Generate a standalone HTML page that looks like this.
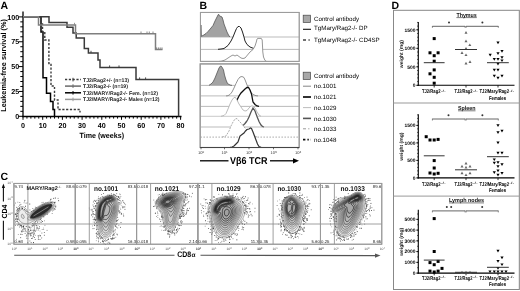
<!DOCTYPE html>
<html><head><meta charset="utf-8"><style>
html,body{margin:0;padding:0;background:#fff;width:520px;height:291px;overflow:hidden}
svg{display:block}
text{font-family:"Liberation Sans",sans-serif;text-rendering:geometricPrecision}
</style></head><body>
<svg xmlns="http://www.w3.org/2000/svg" width="520" height="291" viewBox="0 0 520 291">
<defs><filter id="bl" x="0" y="0" width="520" height="291" filterUnits="userSpaceOnUse"><feColorMatrix type="saturate" values="0"/><feGaussianBlur stdDeviation="0.33"/></filter></defs>
<rect width="520" height="291" fill="#fff"/>
<g filter="url(#bl)">
<rect width="520" height="291" fill="#fff"/>
<text x="0.6" y="9.3" font-size="10.5" font-weight="bold" text-anchor="start" fill="#000" >A</text>
<line x1="23" y1="11.5" x2="23" y2="117.2" stroke="#000" stroke-width="1.3" />
<line x1="22.4" y1="116.5" x2="181.5" y2="116.5" stroke="#000" stroke-width="1.3" />
<line x1="19" y1="116.3" x2="23" y2="116.3" stroke="#000" stroke-width="1" />
<line x1="20.3" y1="111.33" x2="23" y2="111.33" stroke="#000" stroke-width="1" />
<line x1="20.3" y1="106.36" x2="23" y2="106.36" stroke="#000" stroke-width="1" />
<line x1="20.3" y1="101.39" x2="23" y2="101.39" stroke="#000" stroke-width="1" />
<line x1="20.3" y1="96.42" x2="23" y2="96.42" stroke="#000" stroke-width="1" />
<line x1="19" y1="91.44999999999999" x2="23" y2="91.44999999999999" stroke="#000" stroke-width="1" />
<line x1="20.3" y1="86.47999999999999" x2="23" y2="86.47999999999999" stroke="#000" stroke-width="1" />
<line x1="20.3" y1="81.50999999999999" x2="23" y2="81.50999999999999" stroke="#000" stroke-width="1" />
<line x1="20.3" y1="76.53999999999999" x2="23" y2="76.53999999999999" stroke="#000" stroke-width="1" />
<line x1="20.3" y1="71.57" x2="23" y2="71.57" stroke="#000" stroke-width="1" />
<line x1="19" y1="66.6" x2="23" y2="66.6" stroke="#000" stroke-width="1" />
<line x1="20.3" y1="61.629999999999995" x2="23" y2="61.629999999999995" stroke="#000" stroke-width="1" />
<line x1="20.3" y1="56.66" x2="23" y2="56.66" stroke="#000" stroke-width="1" />
<line x1="20.3" y1="51.69" x2="23" y2="51.69" stroke="#000" stroke-width="1" />
<line x1="20.3" y1="46.72" x2="23" y2="46.72" stroke="#000" stroke-width="1" />
<line x1="19" y1="41.75" x2="23" y2="41.75" stroke="#000" stroke-width="1" />
<line x1="20.3" y1="36.78" x2="23" y2="36.78" stroke="#000" stroke-width="1" />
<line x1="20.3" y1="31.810000000000002" x2="23" y2="31.810000000000002" stroke="#000" stroke-width="1" />
<line x1="20.3" y1="26.840000000000003" x2="23" y2="26.840000000000003" stroke="#000" stroke-width="1" />
<line x1="20.3" y1="21.870000000000005" x2="23" y2="21.870000000000005" stroke="#000" stroke-width="1" />
<line x1="19" y1="16.89999999999999" x2="23" y2="16.89999999999999" stroke="#000" stroke-width="1" />
<line x1="23.0" y1="116.5" x2="23.0" y2="119.8" stroke="#000" stroke-width="1" />
<line x1="26.94" y1="116.5" x2="26.94" y2="118.6" stroke="#000" stroke-width="1" />
<line x1="30.88" y1="116.5" x2="30.88" y2="118.6" stroke="#000" stroke-width="1" />
<line x1="34.82" y1="116.5" x2="34.82" y2="118.6" stroke="#000" stroke-width="1" />
<line x1="38.76" y1="116.5" x2="38.76" y2="118.6" stroke="#000" stroke-width="1" />
<line x1="42.7" y1="116.5" x2="42.7" y2="119.8" stroke="#000" stroke-width="1" />
<line x1="46.64" y1="116.5" x2="46.64" y2="118.6" stroke="#000" stroke-width="1" />
<line x1="50.58" y1="116.5" x2="50.58" y2="118.6" stroke="#000" stroke-width="1" />
<line x1="54.519999999999996" y1="116.5" x2="54.519999999999996" y2="118.6" stroke="#000" stroke-width="1" />
<line x1="58.46" y1="116.5" x2="58.46" y2="118.6" stroke="#000" stroke-width="1" />
<line x1="62.4" y1="116.5" x2="62.4" y2="119.8" stroke="#000" stroke-width="1" />
<line x1="66.34" y1="116.5" x2="66.34" y2="118.6" stroke="#000" stroke-width="1" />
<line x1="70.28" y1="116.5" x2="70.28" y2="118.6" stroke="#000" stroke-width="1" />
<line x1="74.22" y1="116.5" x2="74.22" y2="118.6" stroke="#000" stroke-width="1" />
<line x1="78.16" y1="116.5" x2="78.16" y2="118.6" stroke="#000" stroke-width="1" />
<line x1="82.1" y1="116.5" x2="82.1" y2="119.8" stroke="#000" stroke-width="1" />
<line x1="86.03999999999999" y1="116.5" x2="86.03999999999999" y2="118.6" stroke="#000" stroke-width="1" />
<line x1="89.98" y1="116.5" x2="89.98" y2="118.6" stroke="#000" stroke-width="1" />
<line x1="93.92" y1="116.5" x2="93.92" y2="118.6" stroke="#000" stroke-width="1" />
<line x1="97.86" y1="116.5" x2="97.86" y2="118.6" stroke="#000" stroke-width="1" />
<line x1="101.8" y1="116.5" x2="101.8" y2="119.8" stroke="#000" stroke-width="1" />
<line x1="105.74" y1="116.5" x2="105.74" y2="118.6" stroke="#000" stroke-width="1" />
<line x1="109.67999999999999" y1="116.5" x2="109.67999999999999" y2="118.6" stroke="#000" stroke-width="1" />
<line x1="113.62" y1="116.5" x2="113.62" y2="118.6" stroke="#000" stroke-width="1" />
<line x1="117.56" y1="116.5" x2="117.56" y2="118.6" stroke="#000" stroke-width="1" />
<line x1="121.5" y1="116.5" x2="121.5" y2="119.8" stroke="#000" stroke-width="1" />
<line x1="125.44" y1="116.5" x2="125.44" y2="118.6" stroke="#000" stroke-width="1" />
<line x1="129.38" y1="116.5" x2="129.38" y2="118.6" stroke="#000" stroke-width="1" />
<line x1="133.32" y1="116.5" x2="133.32" y2="118.6" stroke="#000" stroke-width="1" />
<line x1="137.26" y1="116.5" x2="137.26" y2="118.6" stroke="#000" stroke-width="1" />
<line x1="141.2" y1="116.5" x2="141.2" y2="119.8" stroke="#000" stroke-width="1" />
<line x1="145.14" y1="116.5" x2="145.14" y2="118.6" stroke="#000" stroke-width="1" />
<line x1="149.07999999999998" y1="116.5" x2="149.07999999999998" y2="118.6" stroke="#000" stroke-width="1" />
<line x1="153.02" y1="116.5" x2="153.02" y2="118.6" stroke="#000" stroke-width="1" />
<line x1="156.96" y1="116.5" x2="156.96" y2="118.6" stroke="#000" stroke-width="1" />
<line x1="160.9" y1="116.5" x2="160.9" y2="119.8" stroke="#000" stroke-width="1" />
<line x1="164.84" y1="116.5" x2="164.84" y2="118.6" stroke="#000" stroke-width="1" />
<line x1="168.78" y1="116.5" x2="168.78" y2="118.6" stroke="#000" stroke-width="1" />
<line x1="172.72" y1="116.5" x2="172.72" y2="118.6" stroke="#000" stroke-width="1" />
<line x1="176.66" y1="116.5" x2="176.66" y2="118.6" stroke="#000" stroke-width="1" />
<line x1="180.6" y1="116.5" x2="180.6" y2="119.8" stroke="#000" stroke-width="1" />
<text x="19.2" y="118.89999999999999" font-size="7.2" font-weight="bold" text-anchor="end" fill="#000" >0</text>
<text x="19.2" y="94.04999999999998" font-size="7.2" font-weight="bold" text-anchor="end" fill="#000" >25</text>
<text x="19.2" y="69.19999999999999" font-size="7.2" font-weight="bold" text-anchor="end" fill="#000" >50</text>
<text x="19.2" y="44.35" font-size="7.2" font-weight="bold" text-anchor="end" fill="#000" >75</text>
<text x="19.2" y="19.499999999999993" font-size="7.2" font-weight="bold" text-anchor="end" fill="#000" >100</text>
<text x="23.0" y="127.8" font-size="7.2" font-weight="bold" text-anchor="middle" fill="#000" >0</text>
<text x="42.7" y="127.8" font-size="7.2" font-weight="bold" text-anchor="middle" fill="#000" >10</text>
<text x="62.4" y="127.8" font-size="7.2" font-weight="bold" text-anchor="middle" fill="#000" >20</text>
<text x="82.1" y="127.8" font-size="7.2" font-weight="bold" text-anchor="middle" fill="#000" >30</text>
<text x="101.8" y="127.8" font-size="7.2" font-weight="bold" text-anchor="middle" fill="#000" >40</text>
<text x="121.5" y="127.8" font-size="7.2" font-weight="bold" text-anchor="middle" fill="#000" >50</text>
<text x="141.2" y="127.8" font-size="7.2" font-weight="bold" text-anchor="middle" fill="#000" >60</text>
<text x="160.9" y="127.8" font-size="7.2" font-weight="bold" text-anchor="middle" fill="#000" >70</text>
<text x="180.6" y="127.8" font-size="7.2" font-weight="bold" text-anchor="middle" fill="#000" >80</text>
<text x="79.6" y="137.6" font-size="7.6" font-weight="bold" textLength="44.4" lengthAdjust="spacingAndGlyphs">Time (weeks)</text>
<text transform="translate(5.7,65.4) rotate(-90)" font-size="7.4" font-weight="bold" text-anchor="middle" textLength="92.6" lengthAdjust="spacingAndGlyphs">Leukemia-free survival (%)</text>
<path d="M23,16.8 H41 V32 H43 V77.7 H46.5 V93.2 H50.5 V101.5 H53 V109.5 H54.5 V116.5" stroke="#000" stroke-width="1.5" fill="none" />
<path d="M41,16.8 V24 H42.5 V32 H44.8 V40 H48.9 V63.5 H51 V86 H54.5 V100 H58 V109.5 H80 V112.5" stroke="#3a3a3a" stroke-width="1.4" fill="none" stroke-dasharray="2.2,1.6"/>
<path d="M23,16.8 H49 V22.4 H67 V27.2 H73 V33 H76.2 V38 H84.3 V48.4 H88.4 V53 H98 V60 H100 V67.6 H136 V79.6 H178.6 V116.5" stroke="#3a3a3a" stroke-width="1.5" fill="none" />
<path d="M23,16.8 H38.5 V25 H75.5 V33.7 H155.5 V49.6 H162.5" stroke="#7f7f7f" stroke-width="1.5" fill="none" />
<line x1="74.5" y1="22.8" x2="74.5" y2="25" stroke="#8c8c8c" stroke-width="0.9" />
<line x1="141" y1="31.500000000000004" x2="141" y2="33.7" stroke="#7f7f7f" stroke-width="0.9" />
<line x1="147" y1="31.500000000000004" x2="147" y2="33.7" stroke="#7f7f7f" stroke-width="0.9" />
<line x1="149.3" y1="31.500000000000004" x2="149.3" y2="33.7" stroke="#7f7f7f" stroke-width="0.9" />
<line x1="153" y1="31.500000000000004" x2="153" y2="33.7" stroke="#7f7f7f" stroke-width="0.9" />
<line x1="156.6" y1="47.4" x2="156.6" y2="49.6" stroke="#7f7f7f" stroke-width="0.9" />
<line x1="158.4" y1="47.4" x2="158.4" y2="49.6" stroke="#7f7f7f" stroke-width="0.9" />
<line x1="160.2" y1="47.4" x2="160.2" y2="49.6" stroke="#7f7f7f" stroke-width="0.9" />
<line x1="162" y1="47.4" x2="162" y2="49.6" stroke="#7f7f7f" stroke-width="0.9" />
<line x1="91" y1="50.8" x2="91" y2="53" stroke="#3a3a3a" stroke-width="0.9" />
<line x1="109.6" y1="65.39999999999999" x2="109.6" y2="67.6" stroke="#3a3a3a" stroke-width="0.9" />
<line x1="119" y1="65.39999999999999" x2="119" y2="67.6" stroke="#3a3a3a" stroke-width="0.9" />
<line x1="139.6" y1="77.39999999999999" x2="139.6" y2="79.6" stroke="#3a3a3a" stroke-width="0.9" />
<line x1="145.6" y1="77.39999999999999" x2="145.6" y2="79.6" stroke="#3a3a3a" stroke-width="0.9" />
<line x1="65" y1="79.6" x2="81" y2="79.6" stroke="#3a3a3a" stroke-width="1.5" stroke-dasharray="2.2,1.6"/>
<line x1="73" y1="77.8" x2="73" y2="81.39999999999999" stroke="#3a3a3a" stroke-width="1" />
<text x="83" y="81.5" font-size="5.3" font-weight="bold" fill="#222" textLength="46" lengthAdjust="spacingAndGlyphs">TJ2/Rag2+/- (n=13)</text>
<line x1="65" y1="86.1" x2="81" y2="86.1" stroke="#6a6a6a" stroke-width="1.5" />
<line x1="73" y1="84.3" x2="73" y2="87.89999999999999" stroke="#6a6a6a" stroke-width="1" />
<text x="83" y="88.0" font-size="5.3" font-weight="bold" fill="#222" textLength="45" lengthAdjust="spacingAndGlyphs">TJ2/Rag2-/- (n=19)</text>
<line x1="65" y1="92.8" x2="81" y2="92.8" stroke="#000" stroke-width="1.5" />
<line x1="73" y1="91.0" x2="73" y2="94.6" stroke="#000" stroke-width="1" />
<text x="83" y="94.7" font-size="5.3" font-weight="bold" fill="#222" textLength="75" lengthAdjust="spacingAndGlyphs">TJ2/MARY/Rag2-/- Fem. (n=12)</text>
<line x1="65" y1="99.4" x2="81" y2="99.4" stroke="#9a9a9a" stroke-width="1.5" />
<line x1="73" y1="97.60000000000001" x2="73" y2="101.2" stroke="#9a9a9a" stroke-width="1" />
<text x="83" y="101.30000000000001" font-size="5.3" font-weight="bold" fill="#222" textLength="76.5" lengthAdjust="spacingAndGlyphs">TJ2/MARY/Rag2-/- Males (n=12)</text>
<text x="199.6" y="9.3" font-size="10.5" font-weight="bold" text-anchor="start" fill="#000" >B</text>
<rect x="200.4" y="12.4" width="98.8" height="49" fill="#fff" stroke="#9a9a9a" stroke-width="0.9"/>
<path d="M200.4,37.0 L200.7,37.0 L200.9,25.0 L201.3,36.2 L203.0,35.5 L206.0,33.5 L208.0,31.5 L211.0,28.0 L213.0,25.5 L215.0,21.0 L216.5,18.0 L218.0,15.0 L218.6,14.2 L219.5,16.0 L221.0,16.5 L222.0,17.0 L223.0,20.0 L224.0,24.0 L225.5,28.0 L227.0,32.0 L228.5,35.0 L229.8,37.0 L299.2,37.0 Z" fill="#a3a3a3" stroke="none"/>
<line x1="200.4" y1="37" x2="299.2" y2="37" stroke="#aaa" stroke-width="0.8" />
<path d="M200.7,37 L200.9,25.0 L201.3,36.2 L203.0,35.5 L206.0,33.5 L208.0,31.5 L211.0,28.0 L213.0,25.5 L215.0,21.0 L216.5,18.0 L218.0,15.0 L218.6,14.2 L219.5,16.0 L221.0,16.5 L222.0,17.0 L223.0,20.0 L224.0,24.0 L225.5,28.0 L227.0,32.0 L228.5,35.0 L229.8,37.0" fill="none" stroke="#555" stroke-width="0.8" />
<path d="M200.4,49.4 L218.0,49.3 L221.0,49.0 L224.0,48.5 L228.0,45.5 L231.0,41.0 L233.0,37.0 L235.0,32.0 L236.5,28.5 L238.0,26.5 L239.5,26.5 L241.0,28.0 L242.5,32.0 L244.0,37.0 L245.0,41.0 L247.0,44.5 L250.0,47.0 L253.0,48.2 L256.0,49.3 L299.2,49.4 Z" fill="#fff" stroke="none"/>
<line x1="200.4" y1="49.4" x2="299.2" y2="49.4" stroke="#aaa" stroke-width="0.8" />
<path d="M218,49.3 L221.0,49.0 L224.0,48.5 L228.0,45.5 L231.0,41.0 L233.0,37.0 L235.0,32.0 L236.5,28.5 L238.0,26.5 L239.5,26.5 L241.0,28.0 L242.5,32.0 L244.0,37.0 L245.0,41.0 L247.0,44.5 L250.0,47.0 L253.0,48.2 L256.0,49.3" fill="none" stroke="#222" stroke-width="1.0" />
<path d="M200.4,61.4 L219.0,61.4 L221.0,61.3 L225.0,60.0 L228.0,58.0 L231.0,56.0 L233.0,55.0 L235.0,56.0 L237.0,55.0 L239.0,56.5 L241.0,58.0 L243.0,58.5 L245.0,58.0 L247.5,55.0 L250.0,52.0 L253.0,49.5 L255.0,46.0 L256.3,42.0 L257.0,39.0 L257.8,38.4 L261.3,38.4 L262.2,40.0 L262.5,46.0 L262.8,52.0 L263.5,57.0 L265.0,60.5 L266.5,61.4 L299.2,61.4 Z" fill="#fff" stroke="none"/>
<line x1="200.4" y1="61.4" x2="299.2" y2="61.4" stroke="#aaa" stroke-width="0.8" />
<path d="M219,61.4 L221.0,61.3 L225.0,60.0 L228.0,58.0 L231.0,56.0 L233.0,55.0 L235.0,56.0 L237.0,55.0 L239.0,56.5 L241.0,58.0 L243.0,58.5 L245.0,58.0 L247.5,55.0 L250.0,52.0 L253.0,49.5 L255.0,46.0 L256.3,42.0 L257.0,39.0 L257.8,38.4 L261.3,38.4 L262.2,40.0 L262.5,46.0 L262.8,52.0 L263.5,57.0 L265.0,60.5 L266.5,61.4" fill="none" stroke="#8a8a8a" stroke-width="0.9" />
<rect x="200.4" y="12.4" width="98.8" height="49" fill="none" stroke="#9a9a9a" stroke-width="0.9"/>
<rect x="200.2" y="63.9" width="99" height="83.6" fill="#fff" stroke="#9a9a9a" stroke-width="1.1"/>
<path d="M200.4,85.4 L209.0,85.3 L211.0,84.0 L213.0,82.0 L215.0,78.0 L217.0,73.0 L219.0,68.0 L220.5,66.0 L221.3,66.2 L222.5,68.0 L223.5,70.0 L224.5,75.0 L226.0,80.0 L227.5,83.5 L230.0,85.0 L232.0,85.4 L299.2,85.4 Z" fill="#a3a3a3" stroke="none"/>
<line x1="200.4" y1="85.4" x2="299.2" y2="85.4" stroke="#aaa" stroke-width="0.8" />
<path d="M209,85.3 L211.0,84.0 L213.0,82.0 L215.0,78.0 L217.0,73.0 L219.0,68.0 L220.5,66.0 L221.3,66.2 L222.5,68.0 L223.5,70.0 L224.5,75.0 L226.0,80.0 L227.5,83.5 L230.0,85.0 L232.0,85.4" fill="none" stroke="#555" stroke-width="0.8" />
<path d="M200.4,95.9 L226.0,95.9 L228.0,95.7 L230.0,94.5 L232.0,92.0 L234.0,88.0 L236.0,83.5 L238.0,79.5 L240.0,77.0 L242.0,76.5 L244.0,77.5 L245.5,81.0 L247.0,85.0 L249.0,89.0 L251.0,92.5 L253.0,94.5 L256.0,95.7 L258.0,95.9 L299.2,95.9 Z" fill="#fff" stroke="none"/>
<line x1="200.4" y1="95.9" x2="299.2" y2="95.9" stroke="#aaa" stroke-width="0.8" />
<path d="M226,95.9 L228.0,95.7 L230.0,94.5 L232.0,92.0 L234.0,88.0 L236.0,83.5 L238.0,79.5 L240.0,77.0 L242.0,76.5 L244.0,77.5 L245.5,81.0 L247.0,85.0 L249.0,89.0 L251.0,92.5 L253.0,94.5 L256.0,95.7 L258.0,95.9" fill="none" stroke="#888" stroke-width="0.9" />
<path d="M200.4,106.4 L234.0,106.4 L236.0,103.0 L237.5,99.0 L239.0,96.0 L241.0,93.0 L243.0,91.0 L245.0,89.0 L247.0,87.5 L248.5,87.5 L250.0,90.0 L251.5,94.0 L253.0,102.0 L255.0,104.5 L257.0,106.0 L259.0,106.4 L299.2,106.4 Z" fill="#fff" stroke="none"/>
<line x1="200.4" y1="106.4" x2="299.2" y2="106.4" stroke="#aaa" stroke-width="0.8" />
<path d="M234,106.4 L236.0,103.0 L237.5,99.0 L239.0,96.0 L241.0,93.0 L243.0,91.0 L245.0,89.0 L247.0,87.5 L248.5,87.5 L250.0,90.0 L251.5,94.0 L253.0,102.0 L255.0,104.5 L257.0,106.0 L259.0,106.4" fill="none" stroke="#111" stroke-width="1.3" />
<path d="M200.4,116.3 L221.0,116.3 L224.0,115.5 L226.0,113.5 L228.0,109.0 L230.0,104.0 L232.0,100.0 L234.0,97.5 L235.5,97.5 L237.0,100.0 L239.0,104.0 L241.0,107.0 L243.0,110.0 L245.0,111.0 L247.0,110.5 L249.0,108.0 L251.0,106.0 L253.0,106.0 L255.0,108.0 L257.0,112.0 L259.0,115.0 L261.0,116.3 L299.2,116.3 Z" fill="#fff" stroke="none"/>
<line x1="200.4" y1="116.3" x2="299.2" y2="116.3" stroke="#bbb" stroke-width="0.8" />
<path d="M221,116.3 L224.0,115.5 L226.0,113.5 L228.0,109.0 L230.0,104.0 L232.0,100.0 L234.0,97.5 L235.5,97.5 L237.0,100.0 L239.0,104.0 L241.0,107.0 L243.0,110.0 L245.0,111.0 L247.0,110.5 L249.0,108.0 L251.0,106.0 L253.0,106.0 L255.0,108.0 L257.0,112.0 L259.0,115.0 L261.0,116.3" fill="none" stroke="#b3b3b3" stroke-width="0.9" />
<path d="M200.4,127.0 L240.0,127.0 L242.0,126.3 L243.5,125.0 L245.0,123.5 L246.5,121.5 L247.5,120.0 L249.0,117.0 L251.0,112.0 L253.0,108.0 L255.0,111.0 L257.0,116.5 L259.0,121.5 L261.0,125.0 L262.5,126.5 L264.0,127.0 L299.2,127.0 Z" fill="#fff" stroke="none"/>
<line x1="200.4" y1="127" x2="299.2" y2="127" stroke="#aaa" stroke-width="0.8" />
<path d="M240,127 L242.0,126.3 L243.5,125.0 L245.0,123.5 L246.5,121.5 L247.5,120.0 L249.0,117.0 L251.0,112.0 L253.0,108.0 L255.0,111.0 L257.0,116.5 L259.0,121.5 L261.0,125.0 L262.5,126.5 L264.0,127.0" fill="none" stroke="#555" stroke-width="1.3" />
<path d="M200.4,137.1 L222.0,137.1 L226.0,136.0 L229.0,131.0 L231.0,126.0 L233.0,122.0 L235.0,119.0 L237.0,118.5 L239.0,121.0 L241.0,123.0 L243.0,125.5 L245.0,128.0 L247.0,130.0 L249.0,131.5 L251.0,133.0 L253.0,134.5 L255.0,136.0 L257.0,137.1 L299.2,137.1 Z" fill="#fff" stroke="none"/>
<line x1="200.4" y1="137.1" x2="299.2" y2="137.1" stroke="#999" stroke-width="0.8" stroke-dasharray="1.6,1.4"/>
<path d="M222,137.1 L226.0,136.0 L229.0,131.0 L231.0,126.0 L233.0,122.0 L235.0,119.0 L237.0,118.5 L239.0,121.0 L241.0,123.0 L243.0,125.5 L245.0,128.0 L247.0,130.0 L249.0,131.5 L251.0,133.0 L253.0,134.5 L255.0,136.0 L257.0,137.1" fill="none" stroke="#a5a5a5" stroke-width="0.9" stroke-dasharray="2,1"/>
<path d="M200.4,147.4 L230.0,147.4 L232.0,147.0 L234.0,146.0 L236.0,144.0 L238.0,142.0 L239.0,139.0 L240.0,136.0 L242.0,134.5 L244.0,133.0 L245.5,131.0 L247.0,129.5 L249.0,129.0 L250.5,128.0 L251.5,128.5 L253.0,132.0 L254.5,136.0 L256.0,140.0 L257.5,144.0 L259.0,146.5 L261.0,147.4 L299.2,147.4 Z" fill="#fff" stroke="none"/>
<path d="M230,147.4 L232.0,147.0 L234.0,146.0 L236.0,144.0 L238.0,142.0 L239.0,139.0 L240.0,136.0 L242.0,134.5 L244.0,133.0 L245.5,131.0 L247.0,129.5 L249.0,129.0 L250.5,128.0 L251.5,128.5 L253.0,132.0 L254.5,136.0 L256.0,140.0 L257.5,144.0 L259.0,146.5 L261.0,147.4" fill="none" stroke="#333" stroke-width="1.2" />
<rect x="200.2" y="63.9" width="99" height="83.6" fill="none" stroke="#9a9a9a" stroke-width="1.1"/>
<line x1="200.2" y1="147.5" x2="299.2" y2="147.5" stroke="#444" stroke-width="1" />
<text x="201" y="154.3" font-size="4" text-anchor="middle" fill="#333">10<tspan font-size="3" dy="-1.5">0</tspan></text>
<line x1="201" y1="147.5" x2="201" y2="149.3" stroke="#333" stroke-width="0.7" />
<text x="224.5" y="154.3" font-size="4" text-anchor="middle" fill="#333">10<tspan font-size="3" dy="-1.5">1</tspan></text>
<line x1="224.5" y1="147.5" x2="224.5" y2="149.3" stroke="#333" stroke-width="0.7" />
<text x="249" y="154.3" font-size="4" text-anchor="middle" fill="#333">10<tspan font-size="3" dy="-1.5">2</tspan></text>
<line x1="249" y1="147.5" x2="249" y2="149.3" stroke="#333" stroke-width="0.7" />
<text x="273.5" y="154.3" font-size="4" text-anchor="middle" fill="#333">10<tspan font-size="3" dy="-1.5">3</tspan></text>
<line x1="273.5" y1="147.5" x2="273.5" y2="149.3" stroke="#333" stroke-width="0.7" />
<text x="298" y="154.3" font-size="4" text-anchor="middle" fill="#333">10<tspan font-size="3" dy="-1.5">4</tspan></text>
<line x1="298" y1="147.5" x2="298" y2="149.3" stroke="#333" stroke-width="0.7" />
<text x="230" y="164.4" font-size="10" font-weight="bold" textLength="37.5" lengthAdjust="spacingAndGlyphs">V&#946;6 TCR</text>
<line x1="200" y1="160.8" x2="228.5" y2="160.8" stroke="#000" stroke-width="1.3" />
<line x1="270" y1="160.8" x2="294" y2="160.8" stroke="#000" stroke-width="1.3" />
<path d="M293,158.2 L299,160.8 L293,163.4 Z" fill="#000"/>
<rect x="303.2" y="15.2" width="7.2" height="7.2" fill="#a8a8a8" stroke="#444" stroke-width="0.7"/>
<text x="314" y="20.6" font-size="6.2" font-weight="normal" text-anchor="start" fill="#000" >Control antibody</text>
<line x1="303" y1="29.3" x2="311" y2="29.3" stroke="#111" stroke-width="1.1" />
<text x="314" y="30.3" font-size="6.2" font-weight="normal" text-anchor="start" fill="#000" >TgMary/Rag2-/- DP</text>
<line x1="303" y1="40" x2="306" y2="40" stroke="#333" stroke-width="1.4" />
<line x1="308.5" y1="40" x2="309.7" y2="40" stroke="#333" stroke-width="1.4" />
<text x="314" y="42.2" font-size="6.2" font-weight="normal" text-anchor="start" fill="#000" >TgMary/Rag2-/- CD4SP</text>
<rect x="303.2" y="72.2" width="7.2" height="7.2" fill="#a8a8a8" stroke="#444" stroke-width="0.7"/>
<text x="314" y="77.8" font-size="6.2" font-weight="normal" text-anchor="start" fill="#000" >Control antibody</text>
<line x1="303" y1="86.2" x2="311" y2="86.2" stroke="#777" stroke-width="0.9" />
<text x="314" y="88.4" font-size="6.2" font-weight="normal" text-anchor="start" fill="#000" >no.1001</text>
<line x1="303" y1="97" x2="311" y2="97" stroke="#000" stroke-width="1.6" />
<text x="314" y="99.2" font-size="6.2" font-weight="normal" text-anchor="start" fill="#000" >no.1021</text>
<line x1="303" y1="107.6" x2="311" y2="107.6" stroke="#b5b5b5" stroke-width="0.9" />
<text x="314" y="109.8" font-size="6.2" font-weight="normal" text-anchor="start" fill="#000" >no.1029</text>
<line x1="303" y1="118.4" x2="311" y2="118.4" stroke="#555" stroke-width="1.6" />
<text x="314" y="120.60000000000001" font-size="6.2" font-weight="normal" text-anchor="start" fill="#000" >no.1030</text>
<line x1="303" y1="128.8" x2="311" y2="128.8" stroke="#999" stroke-width="1.0" stroke-dasharray="3,2.2,1.2,2.2"/>
<text x="314" y="131.0" font-size="6.2" font-weight="normal" text-anchor="start" fill="#000" >no.1033</text>
<line x1="303" y1="139.6" x2="311" y2="139.6" stroke="#111" stroke-width="1.6" stroke-dasharray="2.4,2,1.4,2"/>
<text x="314" y="141.79999999999998" font-size="6.2" font-weight="normal" text-anchor="start" fill="#000" >no.1048</text>
<text x="0.6" y="179.6" font-size="10.5" font-weight="bold" text-anchor="start" fill="#000" >C</text>
<rect x="13.9" y="183.4" width="61.4" height="60.79999999999998" fill="#fff" stroke="#8a8a8a" stroke-width="0.9"/>
<rect x="75.3" y="183.4" width="61.4" height="60.79999999999998" fill="#fff" stroke="#8a8a8a" stroke-width="0.9"/>
<rect x="136.6" y="183.4" width="61.4" height="60.79999999999998" fill="#fff" stroke="#8a8a8a" stroke-width="0.9"/>
<rect x="197.9" y="183.4" width="61.4" height="60.79999999999998" fill="#fff" stroke="#8a8a8a" stroke-width="0.9"/>
<rect x="259.1" y="183.4" width="61.4" height="60.79999999999998" fill="#fff" stroke="#8a8a8a" stroke-width="0.9"/>
<rect x="320.4" y="183.4" width="61.4" height="60.79999999999998" fill="#fff" stroke="#8a8a8a" stroke-width="0.9"/>
<clipPath id="cl0"><rect x="13.9" y="183.4" width="61.4" height="60.79999999999998"/></clipPath>
<rect x="24.7" y="232.9" width="0.8" height="0.8" fill="rgb(58,58,58)"/>
<rect x="31.8" y="233.4" width="0.7" height="0.7" fill="rgb(98,98,98)"/>
<rect x="20.7" y="225.6" width="0.8" height="0.8" fill="rgb(130,130,130)"/>
<rect x="31.1" y="211.1" width="0.8" height="0.8" fill="rgb(84,84,84)"/>
<rect x="45.4" y="202.4" width="0.7" height="0.7" fill="rgb(104,104,104)"/>
<rect x="37.8" y="219.5" width="0.7" height="0.7" fill="rgb(108,108,108)"/>
<rect x="41.9" y="221.0" width="0.9" height="0.9" fill="rgb(50,50,50)"/>
<rect x="19.4" y="202.2" width="0.8" height="0.8" fill="rgb(98,98,98)"/>
<rect x="50.4" y="201.9" width="0.9" height="0.9" fill="rgb(46,46,46)"/>
<rect x="33.0" y="243.8" width="0.7" height="0.7" fill="rgb(122,122,122)"/>
<rect x="41.8" y="229.0" width="0.7" height="0.7" fill="rgb(82,82,82)"/>
<rect x="55.0" y="208.8" width="0.7" height="0.7" fill="rgb(79,79,79)"/>
<rect x="18.4" y="222.6" width="0.7" height="0.7" fill="rgb(62,62,62)"/>
<rect x="29.5" y="240.6" width="0.8" height="0.8" fill="rgb(64,64,64)"/>
<rect x="32.8" y="236.1" width="0.9" height="0.9" fill="rgb(87,87,87)"/>
<rect x="17.9" y="234.3" width="0.7" height="0.7" fill="rgb(92,92,92)"/>
<rect x="14.4" y="220.4" width="0.8" height="0.8" fill="rgb(91,91,91)"/>
<rect x="23.4" y="225.0" width="0.8" height="0.8" fill="rgb(111,111,111)"/>
<rect x="27.9" y="229.8" width="0.7" height="0.7" fill="rgb(88,88,88)"/>
<rect x="41.5" y="202.3" width="0.9" height="0.9" fill="rgb(123,123,123)"/>
<rect x="28.1" y="226.6" width="0.7" height="0.7" fill="rgb(55,55,55)"/>
<rect x="32.9" y="210.4" width="0.9" height="0.9" fill="rgb(40,40,40)"/>
<rect x="40.1" y="235.4" width="0.7" height="0.7" fill="rgb(90,90,90)"/>
<rect x="54.1" y="202.6" width="0.7" height="0.7" fill="rgb(112,112,112)"/>
<rect x="32.9" y="229.7" width="0.7" height="0.7" fill="rgb(64,64,64)"/>
<rect x="30.5" y="235.1" width="0.9" height="0.9" fill="rgb(43,43,43)"/>
<rect x="35.1" y="208.6" width="0.8" height="0.8" fill="rgb(70,70,70)"/>
<rect x="25.8" y="235.9" width="0.8" height="0.8" fill="rgb(121,121,121)"/>
<rect x="37.7" y="235.4" width="0.9" height="0.9" fill="rgb(56,56,56)"/>
<rect x="49.8" y="200.2" width="0.7" height="0.7" fill="rgb(110,110,110)"/>
<rect x="31.5" y="230.2" width="0.7" height="0.7" fill="rgb(117,117,117)"/>
<rect x="57.6" y="197.9" width="0.9" height="0.9" fill="rgb(119,119,119)"/>
<rect x="36.1" y="224.9" width="0.9" height="0.9" fill="rgb(77,77,77)"/>
<rect x="34.7" y="222.9" width="0.8" height="0.8" fill="rgb(115,115,115)"/>
<rect x="22.0" y="208.1" width="0.9" height="0.9" fill="rgb(107,107,107)"/>
<rect x="14.9" y="213.9" width="0.9" height="0.9" fill="rgb(83,83,83)"/>
<rect x="27.4" y="233.4" width="0.8" height="0.8" fill="rgb(86,86,86)"/>
<rect x="15.1" y="213.1" width="0.7" height="0.7" fill="rgb(91,91,91)"/>
<rect x="55.4" y="205.7" width="0.8" height="0.8" fill="rgb(52,52,52)"/>
<rect x="32.8" y="230.2" width="0.8" height="0.8" fill="rgb(123,123,123)"/>
<rect x="35.7" y="223.4" width="0.7" height="0.7" fill="rgb(72,72,72)"/>
<rect x="30.6" y="232.9" width="0.9" height="0.9" fill="rgb(130,130,130)"/>
<rect x="17.4" y="209.0" width="0.9" height="0.9" fill="rgb(95,95,95)"/>
<rect x="15.5" y="213.9" width="0.9" height="0.9" fill="rgb(103,103,103)"/>
<rect x="33.2" y="232.7" width="0.7" height="0.7" fill="rgb(72,72,72)"/>
<rect x="20.8" y="225.5" width="0.9" height="0.9" fill="rgb(47,47,47)"/>
<rect x="18.9" y="225.5" width="0.8" height="0.8" fill="rgb(114,114,114)"/>
<rect x="18.8" y="209.0" width="0.7" height="0.7" fill="rgb(61,61,61)"/>
<rect x="24.4" y="199.9" width="0.9" height="0.9" fill="rgb(75,75,75)"/>
<rect x="41.5" y="237.5" width="0.7" height="0.7" fill="rgb(129,129,129)"/>
<rect x="29.3" y="203.6" width="0.9" height="0.9" fill="rgb(46,46,46)"/>
<rect x="21.7" y="234.2" width="0.8" height="0.8" fill="rgb(68,68,68)"/>
<rect x="40.0" y="218.7" width="0.9" height="0.9" fill="rgb(107,107,107)"/>
<rect x="37.9" y="238.8" width="0.9" height="0.9" fill="rgb(67,67,67)"/>
<rect x="39.5" y="220.7" width="0.8" height="0.8" fill="rgb(112,112,112)"/>
<rect x="32.0" y="237.7" width="0.8" height="0.8" fill="rgb(82,82,82)"/>
<rect x="29.0" y="226.7" width="0.9" height="0.9" fill="rgb(41,41,41)"/>
<rect x="53.7" y="209.3" width="0.8" height="0.8" fill="rgb(54,54,54)"/>
<rect x="21.4" y="231.2" width="0.9" height="0.9" fill="rgb(64,64,64)"/>
<rect x="22.4" y="229.5" width="0.9" height="0.9" fill="rgb(55,55,55)"/>
<rect x="22.0" y="229.6" width="0.7" height="0.7" fill="rgb(116,116,116)"/>
<rect x="17.8" y="223.9" width="0.8" height="0.8" fill="rgb(45,45,45)"/>
<rect x="54.1" y="208.3" width="0.8" height="0.8" fill="rgb(53,53,53)"/>
<rect x="36.0" y="228.4" width="0.9" height="0.9" fill="rgb(126,126,126)"/>
<rect x="19.3" y="204.7" width="0.9" height="0.9" fill="rgb(59,59,59)"/>
<rect x="46.6" y="229.9" width="0.9" height="0.9" fill="rgb(124,124,124)"/>
<rect x="23.4" y="228.6" width="0.9" height="0.9" fill="rgb(101,101,101)"/>
<rect x="17.4" y="219.1" width="0.9" height="0.9" fill="rgb(44,44,44)"/>
<rect x="30.0" y="233.0" width="0.7" height="0.7" fill="rgb(96,96,96)"/>
<rect x="19.1" y="207.6" width="0.8" height="0.8" fill="rgb(46,46,46)"/>
<rect x="36.5" y="220.4" width="0.7" height="0.7" fill="rgb(46,46,46)"/>
<rect x="28.6" y="232.7" width="0.7" height="0.7" fill="rgb(71,71,71)"/>
<rect x="39.0" y="219.5" width="0.7" height="0.7" fill="rgb(52,52,52)"/>
<rect x="22.6" y="230.9" width="0.7" height="0.7" fill="rgb(57,57,57)"/>
<rect x="43.1" y="227.7" width="0.7" height="0.7" fill="rgb(122,122,122)"/>
<rect x="31.4" y="238.2" width="0.8" height="0.8" fill="rgb(55,55,55)"/>
<rect x="27.3" y="242.4" width="0.9" height="0.9" fill="rgb(48,48,48)"/>
<rect x="24.9" y="230.7" width="0.7" height="0.7" fill="rgb(91,91,91)"/>
<rect x="34.2" y="233.2" width="0.8" height="0.8" fill="rgb(109,109,109)"/>
<rect x="25.2" y="206.0" width="0.8" height="0.8" fill="rgb(100,100,100)"/>
<rect x="20.9" y="230.6" width="0.9" height="0.9" fill="rgb(83,83,83)"/>
<rect x="29.8" y="234.4" width="0.9" height="0.9" fill="rgb(98,98,98)"/>
<rect x="16.7" y="221.0" width="0.9" height="0.9" fill="rgb(64,64,64)"/>
<rect x="23.1" y="226.4" width="0.8" height="0.8" fill="rgb(114,114,114)"/>
<rect x="33.1" y="224.2" width="0.7" height="0.7" fill="rgb(93,93,93)"/>
<rect x="34.8" y="239.1" width="0.8" height="0.8" fill="rgb(66,66,66)"/>
<rect x="17.1" y="213.2" width="0.9" height="0.9" fill="rgb(49,49,49)"/>
<rect x="35.3" y="221.1" width="0.8" height="0.8" fill="rgb(74,74,74)"/>
<rect x="53.2" y="197.9" width="0.9" height="0.9" fill="rgb(73,73,73)"/>
<rect x="33.7" y="221.7" width="0.7" height="0.7" fill="rgb(52,52,52)"/>
<rect x="37.9" y="228.6" width="0.7" height="0.7" fill="rgb(69,69,69)"/>
<rect x="26.1" y="237.8" width="0.8" height="0.8" fill="rgb(89,89,89)"/>
<rect x="20.3" y="237.3" width="0.8" height="0.8" fill="rgb(40,40,40)"/>
<rect x="15.4" y="214.2" width="0.7" height="0.7" fill="rgb(78,78,78)"/>
<rect x="33.1" y="242.0" width="0.9" height="0.9" fill="rgb(43,43,43)"/>
<rect x="21.5" y="207.7" width="0.7" height="0.7" fill="rgb(77,77,77)"/>
<rect x="28.7" y="233.7" width="0.7" height="0.7" fill="rgb(91,91,91)"/>
<rect x="18.4" y="206.3" width="0.7" height="0.7" fill="rgb(123,123,123)"/>
<rect x="15.6" y="221.0" width="0.8" height="0.8" fill="rgb(68,68,68)"/>
<rect x="25.6" y="202.7" width="0.9" height="0.9" fill="rgb(122,122,122)"/>
<rect x="39.0" y="234.8" width="0.7" height="0.7" fill="rgb(120,120,120)"/>
<rect x="20.3" y="233.8" width="0.9" height="0.9" fill="rgb(51,51,51)"/>
<rect x="25.2" y="205.7" width="0.8" height="0.8" fill="rgb(85,85,85)"/>
<rect x="31.9" y="225.7" width="0.8" height="0.8" fill="rgb(126,126,126)"/>
<rect x="17.9" y="210.3" width="0.9" height="0.9" fill="rgb(44,44,44)"/>
<rect x="20.7" y="224.9" width="0.7" height="0.7" fill="rgb(63,63,63)"/>
<rect x="22.7" y="226.4" width="0.9" height="0.9" fill="rgb(42,42,42)"/>
<rect x="13.9" y="204.7" width="0.8" height="0.8" fill="rgb(119,119,119)"/>
<rect x="35.3" y="234.9" width="0.7" height="0.7" fill="rgb(110,110,110)"/>
<rect x="17.4" y="211.4" width="0.9" height="0.9" fill="rgb(60,60,60)"/>
<rect x="32.4" y="223.0" width="0.9" height="0.9" fill="rgb(40,40,40)"/>
<rect x="53.9" y="202.2" width="0.9" height="0.9" fill="rgb(41,41,41)"/>
<rect x="50.6" y="198.7" width="0.9" height="0.9" fill="rgb(80,80,80)"/>
<rect x="21.1" y="207.7" width="0.7" height="0.7" fill="rgb(90,90,90)"/>
<rect x="16.5" y="215.7" width="0.8" height="0.8" fill="rgb(88,88,88)"/>
<rect x="41.1" y="237.7" width="0.7" height="0.7" fill="rgb(97,97,97)"/>
<rect x="27.9" y="235.6" width="0.7" height="0.7" fill="rgb(67,67,67)"/>
<rect x="34.9" y="224.5" width="0.9" height="0.9" fill="rgb(116,116,116)"/>
<rect x="36.6" y="223.2" width="0.8" height="0.8" fill="rgb(110,110,110)"/>
<rect x="28.1" y="229.2" width="0.9" height="0.9" fill="rgb(49,49,49)"/>
<rect x="43.9" y="234.8" width="0.9" height="0.9" fill="rgb(98,98,98)"/>
<rect x="16.7" y="215.4" width="0.8" height="0.8" fill="rgb(57,57,57)"/>
<rect x="41.4" y="232.6" width="0.9" height="0.9" fill="rgb(114,114,114)"/>
<rect x="38.1" y="220.6" width="0.7" height="0.7" fill="rgb(104,104,104)"/>
<rect x="21.4" y="227.6" width="0.8" height="0.8" fill="rgb(123,123,123)"/>
<rect x="35.1" y="230.9" width="0.7" height="0.7" fill="rgb(56,56,56)"/>
<rect x="31.6" y="224.9" width="0.9" height="0.9" fill="rgb(114,114,114)"/>
<rect x="37.8" y="229.8" width="0.7" height="0.7" fill="rgb(68,68,68)"/>
<rect x="30.0" y="230.1" width="0.8" height="0.8" fill="rgb(90,90,90)"/>
<rect x="50.0" y="199.2" width="0.9" height="0.9" fill="rgb(95,95,95)"/>
<rect x="17.5" y="201.8" width="0.7" height="0.7" fill="rgb(84,84,84)"/>
<rect x="55.3" y="205.9" width="0.7" height="0.7" fill="rgb(48,48,48)"/>
<rect x="32.4" y="208.0" width="0.8" height="0.8" fill="rgb(96,96,96)"/>
<rect x="22.1" y="207.8" width="0.9" height="0.9" fill="rgb(42,42,42)"/>
<rect x="51.0" y="202.2" width="0.8" height="0.8" fill="rgb(59,59,59)"/>
<rect x="19.3" y="208.2" width="0.9" height="0.9" fill="rgb(53,53,53)"/>
<rect x="37.1" y="227.7" width="0.8" height="0.8" fill="rgb(51,51,51)"/>
<rect x="38.2" y="235.6" width="0.9" height="0.9" fill="rgb(120,120,120)"/>
<rect x="43.3" y="216.4" width="0.9" height="0.9" fill="rgb(52,52,52)"/>
<rect x="15.2" y="218.4" width="0.7" height="0.7" fill="rgb(112,112,112)"/>
<rect x="37.1" y="221.6" width="0.9" height="0.9" fill="rgb(57,57,57)"/>
<rect x="35.8" y="229.8" width="0.7" height="0.7" fill="rgb(114,114,114)"/>
<rect x="43.9" y="232.2" width="0.8" height="0.8" fill="rgb(61,61,61)"/>
<rect x="31.1" y="238.1" width="0.8" height="0.8" fill="rgb(112,112,112)"/>
<rect x="15.3" y="218.9" width="0.9" height="0.9" fill="rgb(53,53,53)"/>
<rect x="30.1" y="230.2" width="0.8" height="0.8" fill="rgb(102,102,102)"/>
<rect x="16.3" y="215.9" width="0.9" height="0.9" fill="rgb(54,54,54)"/>
<rect x="30.4" y="233.8" width="0.8" height="0.8" fill="rgb(100,100,100)"/>
<rect x="24.1" y="208.9" width="0.9" height="0.9" fill="rgb(69,69,69)"/>
<rect x="33.4" y="235.1" width="0.7" height="0.7" fill="rgb(84,84,84)"/>
<rect x="44.6" y="224.9" width="0.7" height="0.7" fill="rgb(44,44,44)"/>
<rect x="28.6" y="230.9" width="0.9" height="0.9" fill="rgb(68,68,68)"/>
<rect x="25.8" y="225.9" width="0.9" height="0.9" fill="rgb(54,54,54)"/>
<rect x="51.8" y="213.3" width="0.7" height="0.7" fill="rgb(51,51,51)"/>
<rect x="33.3" y="225.1" width="0.9" height="0.9" fill="rgb(100,100,100)"/>
<rect x="54.6" y="201.8" width="0.9" height="0.9" fill="rgb(46,46,46)"/>
<rect x="52.4" y="201.8" width="0.8" height="0.8" fill="rgb(101,101,101)"/>
<rect x="39.2" y="226.1" width="0.8" height="0.8" fill="rgb(105,105,105)"/>
<rect x="18.8" y="224.1" width="0.8" height="0.8" fill="rgb(66,66,66)"/>
<rect x="33.4" y="233.9" width="0.9" height="0.9" fill="rgb(46,46,46)"/>
<rect x="58.2" y="200.3" width="0.9" height="0.9" fill="rgb(104,104,104)"/>
<rect x="30.6" y="226.9" width="0.7" height="0.7" fill="rgb(72,72,72)"/>
<rect x="17.3" y="224.9" width="0.9" height="0.9" fill="rgb(117,117,117)"/>
<rect x="29.9" y="227.8" width="0.7" height="0.7" fill="rgb(107,107,107)"/>
<rect x="39.7" y="230.7" width="0.7" height="0.7" fill="rgb(128,128,128)"/>
<rect x="23.1" y="225.9" width="0.9" height="0.9" fill="rgb(45,45,45)"/>
<rect x="21.4" y="227.1" width="0.7" height="0.7" fill="rgb(130,130,130)"/>
<rect x="20.4" y="224.7" width="0.9" height="0.9" fill="rgb(99,99,99)"/>
<rect x="23.6" y="227.9" width="0.7" height="0.7" fill="rgb(41,41,41)"/>
<rect x="25.4" y="209.9" width="0.8" height="0.8" fill="rgb(68,68,68)"/>
<rect x="21.3" y="226.5" width="0.7" height="0.7" fill="rgb(81,81,81)"/>
<rect x="43.3" y="229.1" width="0.8" height="0.8" fill="rgb(120,120,120)"/>
<rect x="35.7" y="207.1" width="0.8" height="0.8" fill="rgb(53,53,53)"/>
<rect x="30.7" y="242.2" width="0.9" height="0.9" fill="rgb(79,79,79)"/>
<rect x="33.7" y="231.6" width="0.9" height="0.9" fill="rgb(96,96,96)"/>
<rect x="39.6" y="239.0" width="0.8" height="0.8" fill="rgb(64,64,64)"/>
<rect x="27.7" y="211.7" width="0.7" height="0.7" fill="rgb(51,51,51)"/>
<rect x="38.6" y="222.8" width="0.9" height="0.9" fill="rgb(83,83,83)"/>
<rect x="33.6" y="209.9" width="0.9" height="0.9" fill="rgb(122,122,122)"/>
<rect x="42.8" y="201.9" width="0.7" height="0.7" fill="rgb(59,59,59)"/>
<rect x="58.3" y="200.1" width="0.7" height="0.7" fill="rgb(94,94,94)"/>
<rect x="16.4" y="209.8" width="0.8" height="0.8" fill="rgb(51,51,51)"/>
<rect x="26.1" y="234.6" width="0.7" height="0.7" fill="rgb(117,117,117)"/>
<rect x="16.2" y="206.9" width="0.8" height="0.8" fill="rgb(80,80,80)"/>
<rect x="34.4" y="229.9" width="0.9" height="0.9" fill="rgb(59,59,59)"/>
<rect x="29.5" y="209.6" width="0.8" height="0.8" fill="rgb(54,54,54)"/>
<rect x="15.2" y="202.7" width="0.7" height="0.7" fill="rgb(42,42,42)"/>
<rect x="55.4" y="207.1" width="0.7" height="0.7" fill="rgb(106,106,106)"/>
<rect x="30.3" y="229.5" width="0.9" height="0.9" fill="rgb(100,100,100)"/>
<rect x="32.2" y="225.4" width="0.9" height="0.9" fill="rgb(116,116,116)"/>
<rect x="36.5" y="226.7" width="0.9" height="0.9" fill="rgb(45,45,45)"/>
<rect x="32.6" y="223.6" width="0.8" height="0.8" fill="rgb(96,96,96)"/>
<rect x="26.4" y="211.1" width="0.7" height="0.7" fill="rgb(40,40,40)"/>
<rect x="37.6" y="224.9" width="0.7" height="0.7" fill="rgb(103,103,103)"/>
<rect x="38.2" y="237.4" width="0.8" height="0.8" fill="rgb(94,94,94)"/>
<rect x="17.9" y="208.0" width="0.7" height="0.7" fill="rgb(59,59,59)"/>
<rect x="23.6" y="231.0" width="0.7" height="0.7" fill="rgb(95,95,95)"/>
<rect x="52.7" y="209.7" width="0.8" height="0.8" fill="rgb(66,66,66)"/>
<rect x="17.0" y="207.7" width="0.7" height="0.7" fill="rgb(72,72,72)"/>
<rect x="47.2" y="213.8" width="0.8" height="0.8" fill="rgb(77,77,77)"/>
<rect x="43.9" y="203.7" width="0.8" height="0.8" fill="rgb(90,90,90)"/>
<rect x="27.6" y="238.0" width="0.7" height="0.7" fill="rgb(82,82,82)"/>
<rect x="40.9" y="218.1" width="0.7" height="0.7" fill="rgb(74,74,74)"/>
<rect x="34.9" y="206.7" width="0.7" height="0.7" fill="rgb(106,106,106)"/>
<rect x="54.9" y="197.6" width="0.9" height="0.9" fill="rgb(46,46,46)"/>
<rect x="26.8" y="202.6" width="0.7" height="0.7" fill="rgb(93,93,93)"/>
<rect x="52.7" y="207.9" width="0.7" height="0.7" fill="rgb(85,85,85)"/>
<rect x="40.6" y="221.9" width="0.9" height="0.9" fill="rgb(61,61,61)"/>
<rect x="39.1" y="227.7" width="0.8" height="0.8" fill="rgb(100,100,100)"/>
<rect x="19.3" y="241.2" width="0.9" height="0.9" fill="rgb(67,67,67)"/>
<rect x="30.5" y="235.8" width="0.7" height="0.7" fill="rgb(106,106,106)"/>
<rect x="19.2" y="209.6" width="0.7" height="0.7" fill="rgb(91,91,91)"/>
<rect x="38.6" y="227.9" width="0.8" height="0.8" fill="rgb(99,99,99)"/>
<rect x="33.9" y="237.0" width="0.8" height="0.8" fill="rgb(45,45,45)"/>
<rect x="20.4" y="203.9" width="0.9" height="0.9" fill="rgb(103,103,103)"/>
<rect x="26.4" y="234.9" width="0.7" height="0.7" fill="rgb(46,46,46)"/>
<rect x="44.3" y="220.5" width="0.7" height="0.7" fill="rgb(85,85,85)"/>
<rect x="31.6" y="232.2" width="0.8" height="0.8" fill="rgb(123,123,123)"/>
<rect x="14.8" y="213.9" width="0.8" height="0.8" fill="rgb(114,114,114)"/>
<rect x="24.9" y="228.4" width="0.9" height="0.9" fill="rgb(113,113,113)"/>
<rect x="20.4" y="225.1" width="0.9" height="0.9" fill="rgb(76,76,76)"/>
<rect x="42.4" y="204.3" width="0.8" height="0.8" fill="rgb(90,90,90)"/>
<rect x="21.6" y="231.7" width="0.7" height="0.7" fill="rgb(81,81,81)"/>
<rect x="27.8" y="233.4" width="0.9" height="0.9" fill="rgb(56,56,56)"/>
<rect x="15.1" y="224.8" width="0.8" height="0.8" fill="rgb(63,63,63)"/>
<rect x="41.1" y="219.9" width="0.8" height="0.8" fill="rgb(103,103,103)"/>
<rect x="16.0" y="238.9" width="0.8" height="0.8" fill="rgb(119,119,119)"/>
<rect x="40.0" y="218.8" width="0.8" height="0.8" fill="rgb(71,71,71)"/>
<rect x="39.8" y="235.4" width="0.9" height="0.9" fill="rgb(52,52,52)"/>
<rect x="14.9" y="221.9" width="0.7" height="0.7" fill="rgb(67,67,67)"/>
<rect x="17.4" y="218.7" width="0.7" height="0.7" fill="rgb(49,49,49)"/>
<rect x="16.7" y="218.0" width="0.7" height="0.7" fill="rgb(50,50,50)"/>
<rect x="23.7" y="202.4" width="0.8" height="0.8" fill="rgb(118,118,118)"/>
<rect x="52.2" y="210.7" width="0.7" height="0.7" fill="rgb(101,101,101)"/>
<rect x="17.2" y="208.6" width="0.8" height="0.8" fill="rgb(82,82,82)"/>
<rect x="47.6" y="202.3" width="0.7" height="0.7" fill="rgb(128,128,128)"/>
<rect x="19.0" y="226.7" width="0.8" height="0.8" fill="rgb(116,116,116)"/>
<rect x="34.6" y="222.8" width="0.8" height="0.8" fill="rgb(100,100,100)"/>
<rect x="24.2" y="200.8" width="0.8" height="0.8" fill="rgb(128,128,128)"/>
<rect x="55.4" y="206.1" width="0.7" height="0.7" fill="rgb(129,129,129)"/>
<g clip-path="url(#cl0)">
<path d="M31.4,233.2 30.6,233.3 29.9,233.4 29.1,233.3 28.4,233.2 27.6,232.8 27.0,232.4 26.4,231.9 25.9,231.3 25.5,230.7 25.1,230.0 24.8,229.2 24.4,228.5 24.0,227.9 23.4,227.2 22.8,226.7 22.2,226.2 21.5,225.7 20.9,225.2 20.2,224.7 19.6,224.2 19.1,223.7 18.6,223.1 18.1,222.5 17.8,221.9 17.4,221.3 17.0,220.4 16.8,219.7 16.6,218.9 16.5,218.2 16.4,217.4 16.3,216.7 16.3,215.9 16.4,215.2 16.4,214.4 16.5,213.7 16.6,212.9 16.8,212.2 17.0,211.4 17.3,210.7 17.6,209.9 18.0,209.2 18.6,208.4 19.1,207.8 19.9,207.2 20.6,206.8 21.4,206.6 22.1,206.6 22.9,206.7 23.6,206.9 24.4,207.4 25.0,207.9 25.6,208.6 26.1,209.2 26.6,209.9 27.0,210.7 27.4,211.4 27.9,212.1 28.6,212.7 29.4,212.7 30.1,212.4 30.9,211.9 31.6,211.4 32.1,211.0 32.8,210.4 33.4,210.0 34.1,209.4 34.8,208.9 35.4,208.4 36.1,207.9 36.9,207.4 37.6,206.9 38.4,206.4 39.1,206.0 39.8,205.7 40.4,205.3 41.1,204.9 41.9,204.5 42.6,204.2 43.4,203.8 44.1,203.5 44.9,203.2 45.6,203.0 46.4,202.7 47.1,202.5 47.9,202.3 48.6,202.1 49.4,202.0 50.1,201.9 50.9,201.8 51.6,201.8 52.4,201.9 53.1,202.1 53.8,202.4 54.4,202.9 54.8,203.7 54.9,204.4 54.8,205.2 54.5,205.9 54.2,206.7 53.8,207.4 53.3,208.2 52.7,208.9 52.1,209.5 51.6,210.1 51.1,210.6 50.6,211.1 50.1,211.7 49.5,212.2 48.9,212.7 48.3,213.2 47.7,213.7 47.0,214.2 46.4,214.6 45.6,215.1 44.9,215.6 44.1,216.1 43.4,216.5 42.8,216.9 42.1,217.3 41.5,217.7 40.6,218.1 39.9,218.6 39.3,218.9 38.6,219.3 38.0,219.7 37.2,220.2 36.5,220.7 36.0,221.2 35.4,221.9 35.0,222.7 34.8,223.4 34.6,224.2 34.5,224.9 34.4,225.6 34.4,226.4 34.4,227.2 34.5,227.9 34.5,228.7 34.5,229.4 34.3,230.2 34.1,230.9 33.6,231.6 33.1,232.2 32.6,232.7 31.9,233.0Z" fill="rgba(0,0,0,0.035)" stroke="rgb(97,97,97)" stroke-width="0.51"/>
<path d="M27.9,223.7 27.1,223.8 26.4,223.8 25.6,223.8 24.9,223.7 24.1,223.5 23.4,223.3 22.6,223.0 22.0,222.7 21.4,222.3 20.6,221.7 20.1,221.2 19.6,220.6 19.2,219.9 18.9,219.2 18.6,218.4 18.5,217.7 18.3,216.9 18.3,216.2 18.3,215.4 18.3,214.7 18.4,213.9 18.6,213.2 18.8,212.4 19.1,211.7 19.5,210.9 20.1,210.2 20.9,209.7 21.6,209.4 22.4,209.4 23.1,209.6 23.9,210.1 24.4,210.7 24.9,211.2 25.3,211.9 25.7,212.7 26.1,213.4 26.6,214.1 27.3,214.7 28.1,214.8 28.9,214.5 29.6,214.0 30.4,213.4 30.9,212.9 31.5,212.4 32.0,211.9 32.6,211.4 33.1,210.9 33.8,210.4 34.4,209.9 35.0,209.4 35.6,208.9 36.4,208.4 37.1,207.9 37.9,207.4 38.6,206.9 39.4,206.5 40.1,206.0 40.9,205.7 41.6,205.2 42.4,204.9 43.1,204.5 43.9,204.2 44.6,203.9 45.4,203.7 46.1,203.4 46.9,203.2 47.6,203.0 48.4,202.9 49.1,202.8 49.9,202.7 50.6,202.7 51.4,202.8 52.1,203.0 52.9,203.4 53.4,204.0 53.6,204.9 53.5,205.7 53.3,206.4 52.9,207.2 52.5,207.9 52.0,208.7 51.4,209.4 50.9,210.0 50.4,210.5 49.9,211.0 49.2,211.7 48.6,212.1 48.0,212.7 47.4,213.2 46.8,213.7 46.1,214.1 45.4,214.6 44.6,215.1 43.9,215.6 43.1,216.1 42.4,216.5 41.7,216.9 40.9,217.3 40.1,217.7 39.4,218.1 38.8,218.4 37.9,218.8 37.2,219.2 36.4,219.5 35.6,219.9 35.0,220.2 34.1,220.6 33.4,220.9 32.6,221.3 31.9,221.8 31.2,222.2 30.4,222.7 29.6,223.1 28.9,223.4 28.1,223.6Z" fill="rgba(0,0,0,0.035)" stroke="rgb(94,94,94)" stroke-width="0.52"/>
<path d="M32.4,219.9 31.6,220.0 30.9,220.1 30.1,220.1 29.4,220.1 28.6,219.9 27.9,219.5 27.5,218.9 27.6,218.2 28.1,217.4 28.6,216.7 29.1,216.2 29.6,215.4 30.1,214.9 30.6,214.3 31.1,213.7 31.6,213.2 32.1,212.7 32.6,212.2 33.1,211.7 33.7,211.2 34.3,210.7 34.9,210.2 35.5,209.7 36.1,209.2 36.8,208.7 37.6,208.2 38.1,207.8 38.9,207.3 39.6,206.9 40.4,206.4 41.1,206.0 41.9,205.7 42.6,205.3 43.4,205.0 44.1,204.7 44.9,204.4 45.6,204.2 46.4,203.9 47.1,203.8 47.9,203.6 48.6,203.5 49.4,203.5 50.1,203.5 50.9,203.6 51.6,204.0 52.3,204.7 52.5,205.4 52.4,206.1 52.2,206.9 51.8,207.7 51.4,208.3 51.0,208.9 50.4,209.6 49.9,210.2 49.4,210.7 48.9,211.2 48.2,211.9 47.6,212.4 47.0,212.9 46.4,213.3 45.6,213.9 44.9,214.4 44.1,214.9 43.4,215.4 42.6,215.8 41.9,216.2 41.1,216.6 40.4,217.0 39.6,217.4 38.9,217.7 38.1,218.1 37.4,218.4 36.7,218.7 36.0,218.9 35.2,219.2 34.4,219.4 33.6,219.6 32.9,219.8Z" fill="rgba(0,0,0,0.035)" stroke="rgb(90,90,90)" stroke-width="0.54"/>
<path d="M23.6,218.5 22.9,218.4 22.1,217.9 21.6,217.3 21.4,216.6 21.3,215.7 21.5,214.9 21.9,214.3 22.6,214.3 23.3,214.9 23.6,215.5 24.0,216.4 24.2,217.2 24.2,217.9 23.6,218.5Z" fill="rgba(0,0,0,0.035)" stroke="rgb(90,90,90)" stroke-width="0.54"/>
<path d="M33.9,218.9 33.1,219.0 32.4,219.1 31.6,219.0 30.9,218.9 30.1,218.4 29.8,217.7 29.9,217.0 30.1,216.2 30.6,215.4 31.1,214.7 31.6,213.9 32.1,213.3 32.6,212.7 33.1,212.2 33.6,211.7 34.2,211.2 34.8,210.7 35.4,210.2 36.0,209.7 36.6,209.2 37.4,208.7 38.1,208.2 38.9,207.7 39.6,207.2 40.4,206.8 41.1,206.4 41.9,206.0 42.6,205.7 43.3,205.4 44.1,205.1 44.9,204.8 45.6,204.6 46.4,204.4 47.1,204.2 47.9,204.1 48.6,204.0 49.4,204.0 50.1,204.2 50.8,204.4 51.4,204.9 51.6,205.6 51.6,206.3 51.4,207.2 51.1,207.9 50.6,208.6 50.1,209.3 49.6,209.9 49.1,210.4 48.6,210.9 47.9,211.7 47.3,212.2 46.7,212.7 46.1,213.1 45.4,213.7 44.7,214.2 43.9,214.7 43.1,215.1 42.4,215.6 41.6,216.0 40.9,216.4 40.1,216.8 39.4,217.1 38.7,217.4 37.9,217.7 37.1,218.0 36.4,218.3 35.6,218.5 34.9,218.7 34.1,218.9Z" fill="rgba(0,0,0,0.035)" stroke="rgb(86,86,86)" stroke-width="0.55"/>
<path d="M34.9,218.2 34.1,218.3 33.4,218.3 32.6,218.3 31.9,218.0 31.2,217.4 31.0,216.7 31.2,215.9 31.5,215.2 31.9,214.5 32.4,213.7 32.9,213.2 33.4,212.5 33.9,212.0 34.4,211.5 35.1,210.9 35.6,210.4 36.3,209.9 36.9,209.4 37.6,208.9 38.4,208.4 39.1,207.9 39.9,207.5 40.6,207.0 41.4,206.7 42.1,206.3 42.9,205.9 43.6,205.7 44.3,205.4 45.1,205.2 45.9,204.9 46.6,204.7 47.4,204.6 48.1,204.6 48.9,204.6 49.6,204.8 50.4,205.2 50.8,205.9 50.9,206.7 50.7,207.4 50.3,208.2 49.9,208.8 49.4,209.5 48.9,210.1 48.4,210.7 47.9,211.2 47.4,211.7 46.8,212.2 46.2,212.7 45.5,213.2 44.9,213.6 44.1,214.1 43.4,214.6 42.6,215.1 41.9,215.5 41.1,215.9 40.4,216.3 39.6,216.6 39.0,216.9 38.1,217.2 37.4,217.5 36.6,217.7 35.9,218.0 35.1,218.1Z" fill="rgba(0,0,0,0.035)" stroke="rgb(80,80,80)" stroke-width="0.57"/>
<path d="M34.4,217.7 33.6,217.6 32.9,217.4 32.2,216.9 32.0,216.2 32.1,215.4 32.5,214.7 32.9,213.9 33.4,213.2 33.9,212.7 34.4,212.1 34.9,211.6 35.6,210.9 36.1,210.4 36.8,209.9 37.4,209.5 38.1,208.9 38.9,208.4 39.6,208.0 40.4,207.5 41.1,207.2 41.9,206.8 42.6,206.4 43.3,206.2 44.0,205.9 44.7,205.7 45.6,205.4 46.4,205.2 47.1,205.2 47.9,205.1 48.6,205.2 49.4,205.5 49.9,206.0 50.1,206.7 50.0,207.4 49.7,208.2 49.3,208.9 48.8,209.7 48.1,210.4 47.6,210.9 47.1,211.4 46.6,211.9 46.0,212.4 45.4,212.8 44.6,213.4 43.9,213.9 43.1,214.4 42.4,214.8 41.6,215.3 40.9,215.6 40.1,216.0 39.4,216.3 38.6,216.6 37.9,216.9 37.2,217.2 36.4,217.4 35.6,217.5 34.9,217.6Z" fill="rgba(0,0,0,0.035)" stroke="rgb(74,74,74)" stroke-width="0.59"/>
<path d="M36.4,216.9 35.6,217.0 34.9,217.1 34.1,217.0 33.4,216.7 32.9,215.9 33.0,215.2 33.2,214.4 33.6,213.7 34.1,213.0 34.6,212.4 35.1,211.8 35.9,211.2 36.4,210.7 37.0,210.2 37.6,209.7 38.4,209.2 39.1,208.7 39.9,208.2 40.6,207.8 41.4,207.4 42.1,207.0 42.9,206.7 43.6,206.4 44.4,206.2 45.1,205.9 45.9,205.8 46.6,205.7 47.4,205.7 48.1,205.8 48.9,206.1 49.3,206.9 49.3,207.7 49.0,208.4 48.6,209.0 48.2,209.7 47.6,210.3 47.1,210.9 46.6,211.4 46.0,211.9 45.4,212.4 44.8,212.9 44.1,213.4 43.4,213.9 42.6,214.3 41.9,214.8 41.2,215.2 40.4,215.5 39.6,215.9 38.9,216.2 38.2,216.4 37.4,216.7 36.6,216.9Z" fill="rgba(0,0,0,0.035)" stroke="rgb(66,66,66)" stroke-width="0.62"/>
<path d="M36.6,216.4 35.9,216.5 35.1,216.5 34.4,216.3 33.8,215.7 33.7,214.9 34.0,214.2 34.4,213.4 34.9,212.7 35.4,212.2 35.9,211.6 36.6,210.9 37.2,210.4 37.9,209.9 38.6,209.4 39.3,208.9 40.1,208.4 40.9,208.0 41.6,207.7 42.4,207.3 43.1,207.0 43.9,206.7 44.6,206.5 45.4,206.3 46.1,206.2 46.9,206.2 47.6,206.3 48.4,206.9 48.6,207.7 48.4,208.4 48.0,209.2 47.5,209.9 46.9,210.6 46.4,211.1 45.8,211.7 45.2,212.2 44.6,212.6 43.9,213.1 43.1,213.6 42.4,214.1 41.6,214.5 40.9,214.9 40.1,215.3 39.4,215.6 38.6,215.9 37.9,216.1 37.1,216.3Z" fill="rgba(0,0,0,0.035)" stroke="rgb(56,56,56)" stroke-width="0.66"/>
<path d="M36.6,215.9 35.9,215.9 35.1,215.7 34.6,215.2 34.6,214.4 34.8,213.7 35.3,212.9 35.9,212.2 36.4,211.6 37.1,210.9 37.8,210.4 38.4,209.9 39.1,209.4 39.9,208.9 40.6,208.5 41.3,208.2 42.1,207.7 42.9,207.4 43.6,207.2 44.4,206.9 45.1,206.8 45.9,206.7 46.6,206.8 47.4,207.1 47.8,207.7 47.7,208.4 47.4,209.2 46.9,209.9 46.4,210.6 45.9,211.1 45.3,211.7 44.7,212.2 44.0,212.7 43.4,213.1 42.6,213.6 41.9,214.0 41.2,214.4 40.4,214.8 39.6,215.1 38.9,215.4 38.1,215.6 37.4,215.8 36.6,215.9Z" fill="rgba(0,0,0,0.035)" stroke="rgb(45,45,45)" stroke-width="0.70"/>
<path d="M38.4,215.2 37.6,215.3 36.9,215.4 36.1,215.3 35.5,214.9 35.3,214.2 35.6,213.4 36.0,212.7 36.6,211.9 37.1,211.4 37.7,210.9 38.3,210.4 38.9,210.0 39.6,209.5 40.4,209.0 41.0,208.7 41.9,208.2 42.6,207.9 43.4,207.7 44.1,207.4 44.9,207.3 45.6,207.3 46.4,207.4 47.0,207.9 47.0,208.7 46.7,209.4 46.2,210.2 45.6,210.8 45.1,211.3 44.5,211.9 43.9,212.3 43.1,212.9 42.4,213.4 41.6,213.8 41.0,214.2 40.1,214.5 39.4,214.8 38.6,215.1Z" fill="rgba(0,0,0,0.035)" stroke="rgb(33,33,33)" stroke-width="0.74"/>
<path d="M38.6,214.7 37.9,214.8 37.1,214.9 36.5,214.7 36.1,213.9 36.3,213.2 36.6,212.5 37.1,211.9 37.6,211.4 38.2,210.9 38.8,210.4 39.4,210.0 40.1,209.5 40.9,209.1 41.6,208.7 42.3,208.4 43.0,208.2 43.6,207.9 44.4,207.8 45.1,207.8 45.9,208.0 46.3,208.7 46.1,209.4 45.7,210.2 45.1,210.8 44.6,211.3 44.0,211.9 43.4,212.3 42.6,212.9 41.9,213.3 41.1,213.7 40.4,214.1 39.6,214.4 38.9,214.6Z" fill="rgba(0,0,0,0.035)" stroke="rgb(32,32,32)" stroke-width="0.79"/>
<path d="M38.9,214.2 38.1,214.3 37.4,214.2 36.9,213.7 37.0,212.9 37.5,212.2 38.1,211.4 38.7,210.9 39.4,210.4 40.1,209.9 40.9,209.4 41.6,209.1 42.4,208.8 43.1,208.5 43.9,208.4 44.6,208.3 45.3,208.7 45.4,209.4 45.1,210.1 44.7,210.7 44.1,211.3 43.4,211.9 42.7,212.4 42.0,212.9 41.1,213.3 40.5,213.7 39.6,214.0 38.9,214.2Z" fill="rgba(0,0,0,0.035)" stroke="rgb(32,32,32)" stroke-width="0.80"/>
<path d="M39.1,213.7 38.4,213.7 37.7,213.2 38.0,212.4 38.4,211.8 38.9,211.3 39.6,210.7 40.4,210.2 41.1,209.7 41.8,209.4 42.5,209.2 43.1,209.0 43.9,208.9 44.6,209.4 44.5,210.2 43.9,210.9 43.4,211.4 42.8,211.9 42.1,212.4 41.4,212.8 40.7,213.2 39.9,213.5 39.2,213.7Z" fill="rgba(0,0,0,0.035)" stroke="rgb(32,32,32)" stroke-width="0.80"/>
<path d="M39.9,213.0 39.1,213.0 38.7,212.4 39.1,211.7 39.6,211.2 40.3,210.7 41.1,210.2 41.9,209.8 42.6,209.6 43.4,209.6 43.6,210.4 43.1,211.0 42.5,211.7 41.7,212.2 40.9,212.6 40.1,212.9Z" fill="rgba(0,0,0,0.035)" stroke="rgb(32,32,32)" stroke-width="0.80"/>
<path d="M40.4,212.4 39.6,212.4 39.7,211.7 40.4,211.0 41.1,210.5 41.9,210.2 42.6,210.1 42.7,210.9 42.1,211.5 41.6,211.9 40.9,212.2Z" fill="rgba(0,0,0,0.035)" stroke="rgb(32,32,32)" stroke-width="0.80"/>
<ellipse cx="41.2" cy="211.3" rx="12.8" ry="3.3" transform="rotate(-31.6 41.2 211.3)" fill="#2a2a2a"/>
<path d="M33.5,216 L48.5,206.8" stroke="#9a9a9a" stroke-width="0.7"/>
</g>
<line x1="27.9" y1="183.4" x2="27.9" y2="244.2" stroke="#888" stroke-width="0.8" />
<line x1="13.9" y1="224" x2="75.3" y2="224" stroke="#888" stroke-width="0.8" />
<rect x="13.9" y="183.4" width="61.4" height="60.79999999999998" fill="none" stroke="#999" stroke-width="0.9"/>
<text x="14.6" y="188.0" font-size="4.3" font-weight="normal" text-anchor="start" fill="#222" >9.74</text>
<text x="74.7" y="188.0" font-size="4.3" font-weight="normal" text-anchor="end" fill="#222" >88.6</text>
<text x="14.6" y="243.29999999999998" font-size="4.3" font-weight="normal" text-anchor="start" fill="#222" >0.63</text>
<text x="74.7" y="243.29999999999998" font-size="4.3" font-weight="normal" text-anchor="end" fill="#222" >0.98</text>
<text x="14.4" y="250.3" font-size="3.4" text-anchor="middle" fill="#555">10<tspan font-size="2.6" dy="-1.2">0</tspan></text>
<text x="29.8" y="250.3" font-size="3.4" text-anchor="middle" fill="#555">10<tspan font-size="2.6" dy="-1.2">1</tspan></text>
<text x="45.1" y="250.3" font-size="3.4" text-anchor="middle" fill="#555">10<tspan font-size="2.6" dy="-1.2">2</tspan></text>
<text x="60.4" y="250.3" font-size="3.4" text-anchor="middle" fill="#555">10<tspan font-size="2.6" dy="-1.2">3</tspan></text>
<text x="75.8" y="250.3" font-size="3.4" text-anchor="middle" fill="#555">10<tspan font-size="2.6" dy="-1.2">4</tspan></text>
<clipPath id="cl1"><rect x="75.3" y="183.4" width="61.4" height="60.79999999999998"/></clipPath>
<rect x="94.8" y="219.5" width="0.7" height="0.7" fill="rgb(114,114,114)"/>
<rect x="122.6" y="207.3" width="0.8" height="0.8" fill="rgb(109,109,109)"/>
<rect x="120.4" y="209.2" width="0.7" height="0.7" fill="rgb(99,99,99)"/>
<rect x="89.5" y="209.4" width="0.9" height="0.9" fill="rgb(124,124,124)"/>
<rect x="108.9" y="242.8" width="0.9" height="0.9" fill="rgb(67,67,67)"/>
<rect x="96.8" y="225.2" width="0.8" height="0.8" fill="rgb(68,68,68)"/>
<rect x="92.5" y="228.2" width="0.9" height="0.9" fill="rgb(102,102,102)"/>
<rect x="122.9" y="206.5" width="0.8" height="0.8" fill="rgb(67,67,67)"/>
<rect x="96.7" y="228.1" width="0.7" height="0.7" fill="rgb(96,96,96)"/>
<rect x="118.3" y="196.2" width="0.7" height="0.7" fill="rgb(72,72,72)"/>
<rect x="113.2" y="193.8" width="0.7" height="0.7" fill="rgb(60,60,60)"/>
<rect x="101.0" y="236.9" width="0.9" height="0.9" fill="rgb(96,96,96)"/>
<rect x="100.3" y="242.3" width="0.7" height="0.7" fill="rgb(86,86,86)"/>
<rect x="99.7" y="236.4" width="0.8" height="0.8" fill="rgb(100,100,100)"/>
<rect x="116.5" y="233.7" width="0.9" height="0.9" fill="rgb(70,70,70)"/>
<rect x="116.3" y="193.3" width="0.8" height="0.8" fill="rgb(91,91,91)"/>
<rect x="119.8" y="200.2" width="0.7" height="0.7" fill="rgb(66,66,66)"/>
<rect x="100.5" y="237.4" width="0.8" height="0.8" fill="rgb(95,95,95)"/>
<rect x="92.2" y="212.6" width="0.7" height="0.7" fill="rgb(78,78,78)"/>
<rect x="94.2" y="225.0" width="0.9" height="0.9" fill="rgb(54,54,54)"/>
<rect x="116.5" y="196.1" width="0.9" height="0.9" fill="rgb(119,119,119)"/>
<rect x="118.2" y="199.0" width="0.9" height="0.9" fill="rgb(82,82,82)"/>
<rect x="117.3" y="217.1" width="0.8" height="0.8" fill="rgb(74,74,74)"/>
<rect x="98.1" y="232.7" width="0.7" height="0.7" fill="rgb(88,88,88)"/>
<rect x="117.9" y="219.4" width="0.7" height="0.7" fill="rgb(94,94,94)"/>
<rect x="104.7" y="195.8" width="0.9" height="0.9" fill="rgb(91,91,91)"/>
<rect x="96.5" y="237.9" width="0.8" height="0.8" fill="rgb(125,125,125)"/>
<rect x="118.0" y="197.0" width="0.8" height="0.8" fill="rgb(40,40,40)"/>
<rect x="121.0" y="212.9" width="0.9" height="0.9" fill="rgb(67,67,67)"/>
<rect x="96.3" y="222.4" width="0.8" height="0.8" fill="rgb(52,52,52)"/>
<rect x="95.3" y="206.1" width="0.8" height="0.8" fill="rgb(42,42,42)"/>
<rect x="119.1" y="211.9" width="0.8" height="0.8" fill="rgb(130,130,130)"/>
<rect x="111.5" y="238.5" width="0.8" height="0.8" fill="rgb(41,41,41)"/>
<rect x="95.0" y="213.9" width="0.7" height="0.7" fill="rgb(112,112,112)"/>
<rect x="117.1" y="219.9" width="0.8" height="0.8" fill="rgb(44,44,44)"/>
<rect x="98.2" y="241.4" width="0.8" height="0.8" fill="rgb(63,63,63)"/>
<rect x="124.4" y="203.4" width="0.7" height="0.7" fill="rgb(48,48,48)"/>
<rect x="107.9" y="238.9" width="0.9" height="0.9" fill="rgb(91,91,91)"/>
<rect x="91.6" y="208.9" width="0.9" height="0.9" fill="rgb(86,86,86)"/>
<rect x="121.9" y="205.9" width="0.8" height="0.8" fill="rgb(112,112,112)"/>
<rect x="99.9" y="238.4" width="0.8" height="0.8" fill="rgb(61,61,61)"/>
<rect x="119.8" y="194.3" width="0.8" height="0.8" fill="rgb(105,105,105)"/>
<rect x="98.0" y="237.7" width="0.9" height="0.9" fill="rgb(63,63,63)"/>
<rect x="109.7" y="236.2" width="0.9" height="0.9" fill="rgb(107,107,107)"/>
<rect x="107.7" y="238.9" width="0.7" height="0.7" fill="rgb(40,40,40)"/>
<rect x="101.2" y="194.1" width="0.7" height="0.7" fill="rgb(48,48,48)"/>
<rect x="92.9" y="201.7" width="0.8" height="0.8" fill="rgb(113,113,113)"/>
<rect x="114.1" y="233.4" width="0.9" height="0.9" fill="rgb(108,108,108)"/>
<rect x="93.1" y="213.4" width="0.7" height="0.7" fill="rgb(96,96,96)"/>
<rect x="96.1" y="229.2" width="0.9" height="0.9" fill="rgb(126,126,126)"/>
<rect x="117.0" y="234.4" width="0.9" height="0.9" fill="rgb(118,118,118)"/>
<rect x="108.4" y="241.8" width="0.9" height="0.9" fill="rgb(98,98,98)"/>
<rect x="118.9" y="197.7" width="0.9" height="0.9" fill="rgb(57,57,57)"/>
<rect x="121.3" y="202.6" width="0.7" height="0.7" fill="rgb(62,62,62)"/>
<rect x="115.4" y="236.8" width="0.8" height="0.8" fill="rgb(110,110,110)"/>
<rect x="106.7" y="195.3" width="0.7" height="0.7" fill="rgb(57,57,57)"/>
<rect x="119.5" y="203.8" width="0.8" height="0.8" fill="rgb(59,59,59)"/>
<rect x="120.9" y="214.1" width="0.8" height="0.8" fill="rgb(83,83,83)"/>
<rect x="119.7" y="211.7" width="0.7" height="0.7" fill="rgb(48,48,48)"/>
<rect x="116.0" y="220.2" width="0.9" height="0.9" fill="rgb(110,110,110)"/>
<rect x="101.7" y="237.6" width="0.8" height="0.8" fill="rgb(128,128,128)"/>
<rect x="92.0" y="225.6" width="0.7" height="0.7" fill="rgb(99,99,99)"/>
<rect x="96.4" y="226.4" width="0.8" height="0.8" fill="rgb(64,64,64)"/>
<rect x="117.3" y="222.9" width="0.8" height="0.8" fill="rgb(126,126,126)"/>
<rect x="98.3" y="200.2" width="0.8" height="0.8" fill="rgb(51,51,51)"/>
<rect x="94.3" y="214.1" width="0.8" height="0.8" fill="rgb(59,59,59)"/>
<rect x="109.8" y="242.9" width="0.7" height="0.7" fill="rgb(99,99,99)"/>
<rect x="102.9" y="239.2" width="0.7" height="0.7" fill="rgb(94,94,94)"/>
<rect x="96.4" y="233.1" width="0.8" height="0.8" fill="rgb(107,107,107)"/>
<rect x="92.8" y="219.1" width="0.7" height="0.7" fill="rgb(71,71,71)"/>
<rect x="101.8" y="237.9" width="0.9" height="0.9" fill="rgb(75,75,75)"/>
<rect x="118.5" y="224.9" width="0.7" height="0.7" fill="rgb(62,62,62)"/>
<rect x="118.5" y="210.6" width="0.9" height="0.9" fill="rgb(41,41,41)"/>
<rect x="94.1" y="218.9" width="0.9" height="0.9" fill="rgb(90,90,90)"/>
<rect x="94.2" y="199.9" width="0.9" height="0.9" fill="rgb(98,98,98)"/>
<rect x="92.8" y="221.7" width="0.7" height="0.7" fill="rgb(112,112,112)"/>
<rect x="93.2" y="206.0" width="0.7" height="0.7" fill="rgb(83,83,83)"/>
<rect x="96.8" y="234.1" width="0.8" height="0.8" fill="rgb(74,74,74)"/>
<rect x="100.6" y="236.4" width="0.7" height="0.7" fill="rgb(124,124,124)"/>
<rect x="103.7" y="243.4" width="0.9" height="0.9" fill="rgb(110,110,110)"/>
<rect x="112.3" y="236.7" width="0.8" height="0.8" fill="rgb(108,108,108)"/>
<rect x="119.4" y="193.6" width="0.7" height="0.7" fill="rgb(82,82,82)"/>
<rect x="113.3" y="230.8" width="0.8" height="0.8" fill="rgb(57,57,57)"/>
<rect x="112.3" y="234.9" width="0.9" height="0.9" fill="rgb(84,84,84)"/>
<rect x="114.0" y="237.7" width="0.8" height="0.8" fill="rgb(86,86,86)"/>
<rect x="92.3" y="216.4" width="0.9" height="0.9" fill="rgb(91,91,91)"/>
<rect x="123.2" y="215.5" width="0.9" height="0.9" fill="rgb(46,46,46)"/>
<rect x="95.4" y="219.1" width="0.9" height="0.9" fill="rgb(68,68,68)"/>
<rect x="116.8" y="197.8" width="0.7" height="0.7" fill="rgb(48,48,48)"/>
<rect x="102.1" y="240.8" width="0.9" height="0.9" fill="rgb(58,58,58)"/>
<rect x="106.9" y="242.8" width="0.7" height="0.7" fill="rgb(55,55,55)"/>
<rect x="94.3" y="203.3" width="0.7" height="0.7" fill="rgb(83,83,83)"/>
<rect x="102.6" y="240.9" width="0.7" height="0.7" fill="rgb(87,87,87)"/>
<rect x="122.2" y="200.3" width="0.9" height="0.9" fill="rgb(97,97,97)"/>
<rect x="111.0" y="195.2" width="0.9" height="0.9" fill="rgb(65,65,65)"/>
<rect x="97.2" y="231.4" width="0.9" height="0.9" fill="rgb(125,125,125)"/>
<rect x="99.0" y="235.8" width="0.9" height="0.9" fill="rgb(86,86,86)"/>
<rect x="97.4" y="199.7" width="0.9" height="0.9" fill="rgb(124,124,124)"/>
<rect x="107.2" y="240.4" width="0.7" height="0.7" fill="rgb(110,110,110)"/>
<rect x="91.9" y="210.6" width="0.8" height="0.8" fill="rgb(56,56,56)"/>
<rect x="117.1" y="199.1" width="0.9" height="0.9" fill="rgb(109,109,109)"/>
<rect x="95.0" y="205.0" width="0.8" height="0.8" fill="rgb(80,80,80)"/>
<rect x="102.6" y="196.2" width="0.8" height="0.8" fill="rgb(126,126,126)"/>
<rect x="95.7" y="233.3" width="0.7" height="0.7" fill="rgb(72,72,72)"/>
<rect x="125.3" y="204.4" width="0.7" height="0.7" fill="rgb(95,95,95)"/>
<rect x="97.6" y="229.0" width="0.8" height="0.8" fill="rgb(98,98,98)"/>
<rect x="92.8" y="214.4" width="0.7" height="0.7" fill="rgb(45,45,45)"/>
<rect x="101.8" y="196.5" width="0.9" height="0.9" fill="rgb(46,46,46)"/>
<rect x="115.7" y="222.8" width="0.9" height="0.9" fill="rgb(83,83,83)"/>
<rect x="102.5" y="241.2" width="0.8" height="0.8" fill="rgb(96,96,96)"/>
<rect x="99.6" y="199.0" width="0.7" height="0.7" fill="rgb(125,125,125)"/>
<rect x="103.0" y="241.3" width="0.9" height="0.9" fill="rgb(74,74,74)"/>
<rect x="98.3" y="196.2" width="0.7" height="0.7" fill="rgb(130,130,130)"/>
<rect x="120.6" y="222.1" width="0.8" height="0.8" fill="rgb(44,44,44)"/>
<rect x="98.0" y="198.6" width="0.7" height="0.7" fill="rgb(119,119,119)"/>
<rect x="105.0" y="243.9" width="0.8" height="0.8" fill="rgb(41,41,41)"/>
<rect x="95.1" y="220.2" width="0.9" height="0.9" fill="rgb(97,97,97)"/>
<rect x="111.8" y="238.2" width="0.9" height="0.9" fill="rgb(75,75,75)"/>
<rect x="114.6" y="229.7" width="0.8" height="0.8" fill="rgb(58,58,58)"/>
<rect x="91.6" y="214.0" width="0.7" height="0.7" fill="rgb(121,121,121)"/>
<rect x="96.7" y="202.8" width="0.9" height="0.9" fill="rgb(44,44,44)"/>
<rect x="113.2" y="237.8" width="0.9" height="0.9" fill="rgb(74,74,74)"/>
<rect x="108.1" y="238.1" width="0.7" height="0.7" fill="rgb(121,121,121)"/>
<rect x="112.9" y="233.9" width="0.7" height="0.7" fill="rgb(128,128,128)"/>
<rect x="99.5" y="235.2" width="0.8" height="0.8" fill="rgb(119,119,119)"/>
<rect x="110.9" y="193.4" width="0.9" height="0.9" fill="rgb(83,83,83)"/>
<rect x="93.5" y="200.8" width="0.7" height="0.7" fill="rgb(49,49,49)"/>
<rect x="116.3" y="220.8" width="0.9" height="0.9" fill="rgb(100,100,100)"/>
<rect x="114.4" y="194.7" width="0.7" height="0.7" fill="rgb(93,93,93)"/>
<rect x="95.2" y="223.2" width="0.7" height="0.7" fill="rgb(73,73,73)"/>
<rect x="105.9" y="240.1" width="0.8" height="0.8" fill="rgb(70,70,70)"/>
<rect x="93.8" y="208.2" width="0.9" height="0.9" fill="rgb(67,67,67)"/>
<rect x="115.2" y="228.9" width="0.7" height="0.7" fill="rgb(108,108,108)"/>
<rect x="118.7" y="199.9" width="0.9" height="0.9" fill="rgb(69,69,69)"/>
<rect x="98.3" y="234.5" width="0.9" height="0.9" fill="rgb(64,64,64)"/>
<rect x="111.4" y="238.7" width="0.7" height="0.7" fill="rgb(60,60,60)"/>
<rect x="96.2" y="235.8" width="0.9" height="0.9" fill="rgb(115,115,115)"/>
<rect x="92.7" y="213.5" width="0.8" height="0.8" fill="rgb(64,64,64)"/>
<rect x="88.9" y="207.7" width="0.7" height="0.7" fill="rgb(57,57,57)"/>
<rect x="109.1" y="195.1" width="0.9" height="0.9" fill="rgb(64,64,64)"/>
<rect x="96.9" y="236.9" width="0.9" height="0.9" fill="rgb(127,127,127)"/>
<rect x="107.7" y="239.1" width="0.7" height="0.7" fill="rgb(69,69,69)"/>
<rect x="116.0" y="220.8" width="0.9" height="0.9" fill="rgb(115,115,115)"/>
<rect x="98.5" y="232.8" width="0.8" height="0.8" fill="rgb(41,41,41)"/>
<rect x="120.6" y="201.1" width="0.7" height="0.7" fill="rgb(105,105,105)"/>
<rect x="112.8" y="232.5" width="0.9" height="0.9" fill="rgb(113,113,113)"/>
<rect x="96.3" y="202.4" width="0.7" height="0.7" fill="rgb(101,101,101)"/>
<rect x="113.5" y="230.6" width="0.7" height="0.7" fill="rgb(54,54,54)"/>
<rect x="95.3" y="210.1" width="0.8" height="0.8" fill="rgb(45,45,45)"/>
<rect x="123.1" y="201.8" width="0.9" height="0.9" fill="rgb(118,118,118)"/>
<rect x="103.0" y="193.0" width="0.9" height="0.9" fill="rgb(118,118,118)"/>
<rect x="96.4" y="203.1" width="0.8" height="0.8" fill="rgb(51,51,51)"/>
<rect x="105.1" y="239.4" width="0.7" height="0.7" fill="rgb(91,91,91)"/>
<rect x="120.8" y="204.9" width="0.7" height="0.7" fill="rgb(129,129,129)"/>
<rect x="116.5" y="195.9" width="0.8" height="0.8" fill="rgb(54,54,54)"/>
<rect x="96.5" y="227.4" width="0.9" height="0.9" fill="rgb(127,127,127)"/>
<rect x="96.7" y="233.7" width="0.7" height="0.7" fill="rgb(47,47,47)"/>
<rect x="93.6" y="207.6" width="0.8" height="0.8" fill="rgb(78,78,78)"/>
<rect x="98.3" y="239.7" width="0.7" height="0.7" fill="rgb(70,70,70)"/>
<rect x="96.3" y="229.2" width="0.9" height="0.9" fill="rgb(89,89,89)"/>
<rect x="93.4" y="219.4" width="0.8" height="0.8" fill="rgb(111,111,111)"/>
<rect x="111.6" y="238.4" width="0.9" height="0.9" fill="rgb(59,59,59)"/>
<rect x="113.6" y="234.9" width="0.9" height="0.9" fill="rgb(130,130,130)"/>
<rect x="115.9" y="223.8" width="0.9" height="0.9" fill="rgb(82,82,82)"/>
<rect x="119.3" y="202.6" width="0.7" height="0.7" fill="rgb(44,44,44)"/>
<rect x="93.9" y="218.4" width="0.8" height="0.8" fill="rgb(79,79,79)"/>
<rect x="114.8" y="224.5" width="0.8" height="0.8" fill="rgb(70,70,70)"/>
<rect x="112.7" y="238.5" width="0.7" height="0.7" fill="rgb(71,71,71)"/>
<rect x="102.0" y="240.1" width="0.7" height="0.7" fill="rgb(92,92,92)"/>
<rect x="108.8" y="194.3" width="0.7" height="0.7" fill="rgb(116,116,116)"/>
<rect x="94.9" y="219.1" width="0.8" height="0.8" fill="rgb(103,103,103)"/>
<rect x="95.9" y="240.4" width="0.7" height="0.7" fill="rgb(102,102,102)"/>
<rect x="119.6" y="212.4" width="0.7" height="0.7" fill="rgb(75,75,75)"/>
<rect x="96.1" y="232.6" width="0.8" height="0.8" fill="rgb(64,64,64)"/>
<rect x="95.4" y="201.1" width="0.7" height="0.7" fill="rgb(44,44,44)"/>
<rect x="110.3" y="238.2" width="0.9" height="0.9" fill="rgb(79,79,79)"/>
<rect x="99.4" y="198.6" width="0.7" height="0.7" fill="rgb(73,73,73)"/>
<rect x="123.8" y="202.6" width="0.7" height="0.7" fill="rgb(88,88,88)"/>
<rect x="118.5" y="202.2" width="0.9" height="0.9" fill="rgb(72,72,72)"/>
<rect x="100.3" y="197.1" width="0.9" height="0.9" fill="rgb(124,124,124)"/>
<rect x="117.2" y="227.5" width="0.9" height="0.9" fill="rgb(122,122,122)"/>
<rect x="98.4" y="236.9" width="0.8" height="0.8" fill="rgb(118,118,118)"/>
<rect x="97.9" y="197.8" width="0.9" height="0.9" fill="rgb(98,98,98)"/>
<rect x="96.2" y="199.9" width="0.7" height="0.7" fill="rgb(73,73,73)"/>
<rect x="118.7" y="210.5" width="0.9" height="0.9" fill="rgb(98,98,98)"/>
<rect x="95.6" y="205.3" width="0.7" height="0.7" fill="rgb(78,78,78)"/>
<rect x="115.1" y="225.6" width="0.9" height="0.9" fill="rgb(62,62,62)"/>
<rect x="118.4" y="196.0" width="0.8" height="0.8" fill="rgb(42,42,42)"/>
<rect x="96.6" y="222.5" width="0.7" height="0.7" fill="rgb(101,101,101)"/>
<rect x="94.1" y="217.2" width="0.7" height="0.7" fill="rgb(89,89,89)"/>
<rect x="120.5" y="196.2" width="0.7" height="0.7" fill="rgb(85,85,85)"/>
<rect x="122.9" y="213.7" width="0.7" height="0.7" fill="rgb(69,69,69)"/>
<rect x="91.0" y="209.7" width="0.7" height="0.7" fill="rgb(88,88,88)"/>
<rect x="107.5" y="194.5" width="0.8" height="0.8" fill="rgb(102,102,102)"/>
<rect x="124.3" y="206.5" width="0.9" height="0.9" fill="rgb(53,53,53)"/>
<rect x="115.5" y="225.8" width="0.8" height="0.8" fill="rgb(63,63,63)"/>
<rect x="101.6" y="238.1" width="0.9" height="0.9" fill="rgb(128,128,128)"/>
<rect x="104.6" y="240.6" width="0.8" height="0.8" fill="rgb(96,96,96)"/>
<rect x="97.5" y="231.3" width="0.9" height="0.9" fill="rgb(87,87,87)"/>
<rect x="92.8" y="211.2" width="0.9" height="0.9" fill="rgb(67,67,67)"/>
<rect x="103.1" y="197.2" width="0.8" height="0.8" fill="rgb(116,116,116)"/>
<rect x="93.8" y="228.3" width="0.7" height="0.7" fill="rgb(90,90,90)"/>
<rect x="94.3" y="221.7" width="0.9" height="0.9" fill="rgb(61,61,61)"/>
<rect x="99.9" y="237.7" width="0.8" height="0.8" fill="rgb(124,124,124)"/>
<rect x="120.1" y="202.7" width="0.7" height="0.7" fill="rgb(78,78,78)"/>
<rect x="120.1" y="226.9" width="0.9" height="0.9" fill="rgb(93,93,93)"/>
<rect x="109.6" y="195.1" width="0.7" height="0.7" fill="rgb(45,45,45)"/>
<rect x="93.8" y="205.9" width="0.7" height="0.7" fill="rgb(107,107,107)"/>
<rect x="119.5" y="212.9" width="0.7" height="0.7" fill="rgb(130,130,130)"/>
<rect x="96.4" y="235.4" width="0.8" height="0.8" fill="rgb(129,129,129)"/>
<rect x="122.3" y="207.4" width="0.8" height="0.8" fill="rgb(76,76,76)"/>
<rect x="93.9" y="224.4" width="0.8" height="0.8" fill="rgb(120,120,120)"/>
<rect x="102.8" y="242.5" width="0.8" height="0.8" fill="rgb(119,119,119)"/>
<rect x="103.8" y="240.2" width="0.8" height="0.8" fill="rgb(57,57,57)"/>
<rect x="95.3" y="215.5" width="0.7" height="0.7" fill="rgb(101,101,101)"/>
<rect x="95.2" y="200.7" width="0.8" height="0.8" fill="rgb(57,57,57)"/>
<rect x="96.1" y="224.7" width="0.8" height="0.8" fill="rgb(48,48,48)"/>
<rect x="112.9" y="234.3" width="0.9" height="0.9" fill="rgb(52,52,52)"/>
<rect x="94.5" y="223.3" width="0.7" height="0.7" fill="rgb(101,101,101)"/>
<rect x="114.9" y="231.8" width="0.7" height="0.7" fill="rgb(109,109,109)"/>
<rect x="122.5" y="200.3" width="0.8" height="0.8" fill="rgb(126,126,126)"/>
<rect x="92.6" y="204.6" width="0.8" height="0.8" fill="rgb(74,74,74)"/>
<rect x="119.8" y="197.6" width="0.7" height="0.7" fill="rgb(88,88,88)"/>
<rect x="113.6" y="194.1" width="0.9" height="0.9" fill="rgb(49,49,49)"/>
<rect x="91.1" y="214.6" width="0.9" height="0.9" fill="rgb(69,69,69)"/>
<rect x="98.7" y="233.6" width="0.9" height="0.9" fill="rgb(108,108,108)"/>
<rect x="124.5" y="208.9" width="0.9" height="0.9" fill="rgb(93,93,93)"/>
<rect x="105.5" y="240.9" width="0.7" height="0.7" fill="rgb(93,93,93)"/>
<rect x="120.2" y="207.8" width="0.7" height="0.7" fill="rgb(128,128,128)"/>
<rect x="95.2" y="209.5" width="0.9" height="0.9" fill="rgb(87,87,87)"/>
<rect x="112.1" y="237.1" width="0.7" height="0.7" fill="rgb(114,114,114)"/>
<rect x="116.0" y="226.8" width="0.7" height="0.7" fill="rgb(41,41,41)"/>
<rect x="94.5" y="219.3" width="0.9" height="0.9" fill="rgb(72,72,72)"/>
<rect x="97.8" y="201.8" width="0.9" height="0.9" fill="rgb(60,60,60)"/>
<rect x="115.2" y="194.9" width="0.9" height="0.9" fill="rgb(56,56,56)"/>
<rect x="99.7" y="197.9" width="0.9" height="0.9" fill="rgb(76,76,76)"/>
<rect x="116.9" y="198.1" width="0.9" height="0.9" fill="rgb(112,112,112)"/>
<g clip-path="url(#cl1)">
<path d="M106.3,237.9 105.5,238.1 104.8,238.1 104.0,238.1 103.3,237.9 102.5,237.5 102.0,237.2 101.4,236.7 100.8,236.0 100.4,235.4 100.0,234.8 99.7,233.9 99.4,233.2 99.2,232.4 99.1,231.7 98.9,230.9 98.7,230.2 98.6,229.4 98.4,228.7 98.2,227.9 98.0,227.2 97.9,226.4 97.7,225.7 97.5,224.9 97.3,224.2 97.1,223.4 96.9,222.7 96.7,221.9 96.5,221.2 96.3,220.4 96.2,219.7 96.0,218.9 96.0,218.2 95.9,217.4 95.9,216.7 95.8,215.9 95.8,215.2 95.8,214.4 95.8,213.7 95.8,212.9 95.8,212.2 95.8,211.4 95.8,210.7 95.8,209.9 95.8,209.2 95.9,208.4 95.9,207.7 96.0,206.9 96.2,206.2 96.4,205.4 96.6,204.7 96.9,203.9 97.3,203.2 97.7,202.4 98.3,201.7 98.8,201.0 99.3,200.5 99.9,199.9 100.5,199.4 101.2,198.9 101.8,198.4 102.5,198.0 103.3,197.5 104.0,197.2 104.8,196.8 105.5,196.5 106.3,196.3 107.0,196.0 107.8,195.8 108.5,195.6 109.3,195.5 110.0,195.3 110.8,195.2 111.5,195.2 112.3,195.2 113.0,195.3 113.8,195.6 114.4,195.9 115.0,196.3 115.5,196.9 116.0,197.6 116.5,198.4 116.8,199.2 117.1,199.9 117.5,200.7 117.8,201.4 118.1,202.2 118.4,202.9 118.6,203.7 118.7,204.4 118.8,205.2 118.8,205.9 118.8,206.7 118.7,207.4 118.7,208.2 118.6,208.9 118.4,209.7 118.3,210.4 118.2,211.2 118.1,211.9 117.9,212.7 117.8,213.4 117.6,214.2 117.5,214.9 117.3,215.7 117.1,216.4 116.9,217.2 116.6,217.9 116.4,218.7 116.2,219.4 115.9,220.2 115.6,220.9 115.4,221.7 115.1,222.4 114.8,223.2 114.5,223.9 114.3,224.7 114.1,225.4 113.9,226.2 113.7,226.9 113.5,227.6 113.4,228.4 113.2,229.2 112.9,229.9 112.7,230.7 112.4,231.4 112.0,232.1 111.7,232.9 111.3,233.5 110.9,234.2 110.4,234.9 109.8,235.6 109.3,236.1 108.7,236.7 108.0,237.1 107.3,237.5 106.5,237.9Z" fill="rgba(0,0,0,0.035)" stroke="rgb(95,95,95)" stroke-width="0.52"/>
<path d="M106.0,236.4 105.3,236.5 104.5,236.5 103.8,236.3 103.0,236.0 102.3,235.4 101.8,234.9 101.3,234.2 100.9,233.4 100.6,232.7 100.4,231.9 100.2,231.2 100.0,230.4 99.8,229.7 99.7,228.9 99.5,228.2 99.3,227.5 99.1,226.7 98.9,225.9 98.7,225.2 98.5,224.4 98.3,223.7 98.1,222.9 97.8,222.2 97.4,221.4 97.1,220.7 96.9,219.9 96.7,219.2 96.6,218.4 96.5,217.7 96.5,216.9 96.5,216.2 96.5,215.4 96.5,214.7 96.5,213.9 96.5,213.2 96.5,212.4 96.5,211.7 96.5,210.9 96.6,210.2 96.6,209.4 96.7,208.7 96.8,207.9 96.9,207.2 97.1,206.4 97.3,205.7 97.5,204.9 97.8,204.2 98.2,203.4 98.5,202.7 99.0,202.0 99.5,201.4 100.0,200.8 100.5,200.3 101.2,199.7 101.8,199.2 102.5,198.7 103.2,198.2 104.0,197.7 104.7,197.4 105.5,197.0 106.3,196.7 107.0,196.5 107.8,196.2 108.5,196.0 109.3,195.9 110.0,195.8 110.8,195.7 111.5,195.7 112.3,195.7 113.0,195.9 113.7,196.2 114.5,196.7 115.0,197.2 115.5,197.9 115.8,198.6 116.0,199.4 116.3,200.2 116.5,200.9 116.8,201.7 117.2,202.4 117.4,203.2 117.6,203.9 117.8,204.7 117.8,205.4 117.9,206.2 117.8,206.9 117.8,207.7 117.7,208.4 117.6,209.2 117.5,209.9 117.4,210.7 117.3,211.4 117.1,212.2 117.0,212.9 116.8,213.7 116.7,214.4 116.5,215.2 116.3,215.8 116.1,216.7 115.8,217.4 115.6,218.2 115.3,218.9 115.1,219.7 114.8,220.3 114.5,221.2 114.2,221.9 113.9,222.7 113.6,223.4 113.3,224.2 113.1,224.9 112.8,225.7 112.7,226.4 112.5,227.2 112.3,227.9 112.1,228.7 111.9,229.4 111.6,230.2 111.3,230.9 110.9,231.7 110.5,232.4 110.1,233.2 109.5,233.9 109.0,234.5 108.5,235.0 107.8,235.6 107.0,236.0 106.3,236.3Z" fill="rgba(0,0,0,0.035)" stroke="rgb(91,91,91)" stroke-width="0.53"/>
<path d="M105.8,234.9 105.0,235.0 104.3,234.9 103.5,234.5 102.8,233.9 102.3,233.2 101.9,232.4 101.5,231.7 101.3,230.9 101.1,230.2 100.9,229.4 100.7,228.7 100.5,227.9 100.3,227.2 100.0,226.4 99.8,225.7 99.6,224.9 99.4,224.2 99.2,223.4 98.8,222.7 98.4,221.9 98.0,221.2 97.6,220.4 97.3,219.7 97.1,218.9 97.0,218.2 96.9,217.4 96.9,216.7 96.9,215.9 96.9,215.2 96.9,214.4 96.9,213.7 97.0,212.9 97.0,212.2 97.0,211.4 97.1,210.7 97.1,209.9 97.2,209.2 97.3,208.4 97.5,207.7 97.6,206.9 97.8,206.2 98.0,205.4 98.3,204.7 98.5,204.0 99.0,203.2 99.4,202.4 100.0,201.7 100.5,201.0 101.0,200.4 101.5,199.9 102.2,199.4 102.8,198.9 103.5,198.4 104.3,198.0 105.0,197.7 105.8,197.3 106.5,197.0 107.3,196.7 108.0,196.5 108.8,196.3 109.5,196.2 110.3,196.1 111.0,196.0 111.8,196.0 112.5,196.2 113.3,196.4 114.0,196.8 114.6,197.4 115.0,198.1 115.4,198.9 115.5,199.7 115.6,200.4 115.8,201.2 116.0,201.9 116.3,202.6 116.5,203.2 116.8,203.9 116.9,204.7 117.0,205.4 117.1,206.2 117.1,206.9 117.0,207.7 116.9,208.4 116.8,209.2 116.7,209.9 116.6,210.7 116.5,211.4 116.4,212.2 116.2,212.9 116.1,213.7 115.9,214.4 115.7,215.2 115.5,215.9 115.3,216.7 115.0,217.4 114.7,218.2 114.4,218.9 114.1,219.7 113.8,220.4 113.5,221.2 113.1,221.9 112.8,222.7 112.5,223.3 112.3,224.0 112.0,224.8 111.8,225.6 111.6,226.4 111.4,227.2 111.2,227.9 111.0,228.7 110.7,229.4 110.4,230.2 110.1,230.9 109.7,231.7 109.3,232.3 108.8,232.9 108.3,233.5 107.5,234.1 106.8,234.6 106.0,234.9Z" fill="rgba(0,0,0,0.035)" stroke="rgb(87,87,87)" stroke-width="0.55"/>
<path d="M106.3,233.0 105.5,233.1 104.8,233.0 104.0,232.7 103.5,232.2 103.0,231.5 102.6,230.7 102.3,229.9 102.1,229.2 101.8,228.4 101.6,227.7 101.3,226.9 101.1,226.2 100.9,225.4 100.6,224.7 100.4,223.9 100.1,223.2 99.6,222.4 99.0,221.7 98.6,221.2 98.1,220.4 97.7,219.7 97.5,218.9 97.4,218.2 97.3,217.4 97.3,216.7 97.3,215.9 97.3,215.2 97.3,214.4 97.3,213.7 97.4,212.9 97.4,212.2 97.4,211.4 97.5,210.7 97.6,209.9 97.7,209.2 97.8,208.4 98.0,207.7 98.1,206.9 98.3,206.2 98.5,205.4 98.8,204.7 99.1,203.9 99.5,203.2 100.0,202.4 100.5,201.7 101.0,201.0 101.5,200.5 102.0,200.0 102.8,199.4 103.4,198.9 104.0,198.5 104.7,198.2 105.5,197.8 106.3,197.4 107.0,197.2 107.8,196.9 108.5,196.7 109.3,196.5 110.0,196.4 110.8,196.4 111.5,196.4 112.3,196.5 113.0,196.7 113.8,197.2 114.3,197.7 114.7,198.4 114.9,199.2 115.0,199.9 115.0,200.7 115.0,201.4 115.2,202.2 115.5,202.9 115.8,203.7 116.0,204.4 116.1,205.2 116.2,205.9 116.3,206.7 116.2,207.4 116.2,208.2 116.1,208.9 116.0,209.7 115.9,210.4 115.8,211.2 115.6,211.9 115.5,212.7 115.3,213.4 115.1,214.2 114.9,214.9 114.7,215.7 114.5,216.4 114.2,217.2 113.9,217.9 113.6,218.7 113.2,219.4 112.9,220.2 112.5,220.8 112.1,221.7 111.8,222.4 111.5,223.2 111.2,223.9 110.9,224.7 110.7,225.4 110.5,226.2 110.3,226.8 110.1,227.7 109.8,228.4 109.5,229.1 109.2,229.9 108.8,230.6 108.3,231.4 107.8,231.9 107.3,232.4 106.5,232.8Z" fill="rgba(0,0,0,0.035)" stroke="rgb(82,82,82)" stroke-width="0.56"/>
<path d="M105.8,230.7 105.0,230.5 104.3,230.0 103.9,229.4 103.4,228.7 103.1,227.9 102.8,227.2 102.5,226.4 102.2,225.7 101.9,224.9 101.6,224.2 101.4,223.4 100.9,222.7 100.3,222.1 99.5,221.4 99.0,220.9 98.4,220.2 98.0,219.4 97.8,218.7 97.7,217.9 97.6,217.2 97.6,216.4 97.6,215.7 97.6,214.9 97.7,214.2 97.7,213.4 97.7,212.7 97.8,211.9 97.8,211.2 97.9,210.4 98.0,209.7 98.2,208.9 98.3,208.2 98.4,207.4 98.6,206.7 98.8,205.9 99.0,205.2 99.3,204.5 99.6,203.9 100.0,203.2 100.5,202.4 101.0,201.7 101.5,201.0 102.0,200.5 102.7,199.9 103.3,199.4 104.0,198.9 104.8,198.5 105.5,198.2 106.3,197.8 107.0,197.5 107.8,197.2 108.5,197.0 109.3,196.9 110.0,196.8 110.8,196.7 111.5,196.7 112.3,196.8 113.0,197.1 113.7,197.7 114.2,198.4 114.4,199.2 114.5,199.9 114.4,200.7 114.2,201.4 114.2,202.2 114.4,202.9 114.8,203.7 115.0,204.4 115.2,205.2 115.4,205.9 115.4,206.7 115.4,207.4 115.4,208.2 115.3,208.9 115.2,209.7 115.1,210.4 115.0,211.2 114.8,211.9 114.7,212.7 114.5,213.4 114.3,214.2 114.0,214.9 113.8,215.6 113.5,216.2 113.3,216.9 112.9,217.7 112.6,218.4 112.2,219.2 111.8,219.9 111.4,220.7 111.0,221.3 110.7,222.2 110.3,222.9 110.0,223.6 109.8,224.2 109.6,224.9 109.3,225.7 109.1,226.4 108.8,227.2 108.5,227.8 108.1,228.7 107.7,229.4 107.0,230.1 106.3,230.6Z" fill="rgba(0,0,0,0.035)" stroke="rgb(75,75,75)" stroke-width="0.59"/>
<path d="M106.0,227.2 105.3,227.1 104.7,226.7 104.1,225.9 103.6,225.2 103.2,224.4 102.9,223.7 102.5,223.0 102.1,222.4 101.5,221.9 100.8,221.5 100.1,221.2 99.4,220.7 98.8,220.0 98.4,219.4 98.2,218.7 98.0,217.9 97.9,217.2 97.9,216.4 97.9,215.7 98.0,214.9 98.0,214.2 98.0,213.4 98.1,212.7 98.1,211.9 98.2,211.2 98.3,210.4 98.4,209.7 98.5,208.9 98.7,208.2 98.8,207.4 99.0,206.7 99.2,205.9 99.5,205.2 99.8,204.4 100.1,203.7 100.5,202.9 101.0,202.2 101.5,201.6 102.0,201.0 102.5,200.5 103.2,199.9 103.8,199.4 104.5,199.0 105.3,198.6 106.0,198.2 106.8,197.9 107.5,197.7 108.3,197.4 109.0,197.2 109.8,197.1 110.5,197.0 111.3,197.0 112.0,197.1 112.7,197.4 113.4,197.9 113.8,198.5 114.0,199.4 113.9,200.2 113.7,200.9 113.3,201.6 113.0,202.4 113.2,203.2 113.7,203.9 114.0,204.6 114.3,205.4 114.4,206.2 114.5,206.9 114.5,207.7 114.5,208.4 114.4,209.2 114.3,209.9 114.2,210.7 114.0,211.4 113.9,212.2 113.7,212.9 113.4,213.7 113.2,214.4 112.9,215.2 112.6,215.9 112.2,216.7 111.9,217.4 111.4,218.2 111.0,218.9 110.6,219.7 110.2,220.4 109.8,221.1 109.4,221.9 109.0,222.6 108.6,223.4 108.3,224.1 107.9,224.9 107.6,225.7 107.1,226.4 106.5,226.9Z" fill="rgba(0,0,0,0.035)" stroke="rgb(67,67,67)" stroke-width="0.62"/>
<path d="M106.0,223.2 105.3,223.2 104.5,222.7 104.1,222.2 103.5,221.6 102.8,221.2 102.0,221.1 101.3,221.0 100.5,220.8 99.8,220.4 99.2,219.9 98.7,219.2 98.4,218.4 98.3,217.7 98.3,216.9 98.2,216.2 98.3,215.4 98.3,214.7 98.3,213.9 98.4,213.2 98.4,212.4 98.5,211.7 98.5,210.9 98.6,210.2 98.8,209.4 98.9,208.7 99.0,208.0 99.2,207.2 99.4,206.4 99.6,205.7 99.9,204.9 100.2,204.2 100.6,203.4 101.0,202.8 101.5,202.2 102.0,201.5 102.5,200.9 103.1,200.4 103.7,199.9 104.3,199.5 105.0,199.1 105.8,198.7 106.5,198.3 107.3,198.1 108.0,197.8 108.8,197.6 109.5,197.5 110.3,197.4 111.0,197.4 111.8,197.5 112.5,197.7 113.3,198.4 113.5,199.2 113.5,199.9 113.2,200.7 112.6,201.4 112.1,201.9 111.5,202.5 111.5,203.4 112.0,204.0 112.5,204.5 112.9,205.2 113.2,205.9 113.4,206.7 113.5,207.4 113.4,208.2 113.4,208.9 113.3,209.7 113.2,210.4 113.0,211.2 112.8,211.9 112.6,212.7 112.4,213.4 112.1,214.2 111.7,214.9 111.4,215.7 111.0,216.4 110.5,217.1 110.1,217.9 109.6,218.7 109.2,219.4 108.8,220.0 108.4,220.7 107.9,221.4 107.3,222.2 106.8,222.7 106.2,223.2Z" fill="rgba(0,0,0,0.035)" stroke="rgb(57,57,57)" stroke-width="0.66"/>
<path d="M102.3,220.2 101.5,220.4 100.8,220.4 100.0,220.1 99.5,219.7 99.0,219.0 98.7,218.2 98.6,217.4 98.6,216.7 98.6,215.9 98.6,215.2 98.6,214.4 98.6,213.7 98.7,212.9 98.7,212.2 98.8,211.4 98.9,210.7 99.0,209.9 99.1,209.2 99.3,208.4 99.4,207.7 99.6,206.9 99.8,206.2 100.0,205.5 100.3,204.8 100.6,204.2 101.0,203.4 101.5,202.7 102.0,201.9 102.5,201.4 103.0,200.9 103.8,200.2 104.5,199.7 105.3,199.3 106.0,198.9 106.8,198.6 107.5,198.3 108.3,198.1 109.0,197.9 109.8,197.8 110.5,197.7 111.3,197.7 112.0,197.9 112.7,198.4 113.0,199.2 113.0,199.9 112.5,200.6 111.9,201.2 111.3,201.5 110.5,202.0 109.8,202.6 109.3,203.4 109.7,204.2 110.3,204.6 111.0,205.2 111.5,205.9 111.9,206.7 112.0,207.4 112.1,208.2 112.0,208.9 111.9,209.7 111.8,210.4 111.6,211.2 111.4,211.9 111.1,212.7 110.8,213.4 110.5,214.2 110.1,214.9 109.7,215.7 109.3,216.3 108.9,216.9 108.3,217.7 107.8,218.3 107.3,218.9 106.5,219.4 105.8,219.6 105.0,219.5 104.3,219.4 103.5,219.6 102.8,220.0Z" fill="rgba(0,0,0,0.035)" stroke="rgb(46,46,46)" stroke-width="0.70"/>
<path d="M101.8,219.7 101.0,219.9 100.3,219.7 99.6,219.2 99.1,218.4 99.0,217.7 98.9,216.9 98.9,216.2 98.9,215.4 98.9,214.7 98.9,213.9 99.0,213.2 99.0,212.4 99.1,211.7 99.2,210.9 99.3,210.2 99.4,209.4 99.5,208.7 99.7,207.9 99.9,207.2 100.1,206.4 100.3,205.7 100.5,205.0 101.0,204.2 101.3,203.5 101.7,202.9 102.3,202.2 102.8,201.6 103.3,201.1 104.0,200.4 104.8,199.9 105.5,199.5 106.3,199.2 107.0,198.8 107.8,198.6 108.5,198.4 109.3,198.2 110.0,198.1 110.8,198.1 111.5,198.2 112.2,198.7 112.5,199.4 112.2,200.2 111.7,200.7 111.0,201.0 110.3,201.4 109.5,201.8 108.8,202.4 108.2,202.9 107.7,203.7 107.4,204.4 107.6,205.2 108.2,205.7 108.8,206.1 109.4,206.7 109.8,207.4 109.9,208.2 109.9,208.9 109.8,209.7 109.7,210.4 109.5,211.2 109.2,211.9 109.0,212.7 108.6,213.4 108.2,214.2 107.6,214.9 106.9,215.4 106.0,215.6 105.3,215.4 104.5,215.6 104.1,216.4 103.8,217.1 103.4,217.9 103.0,218.6 102.6,219.2 101.9,219.7Z" fill="rgba(0,0,0,0.035)" stroke="rgb(34,34,34)" stroke-width="0.74"/>
<path d="M101.5,219.2 100.8,219.3 100.0,219.0 99.6,218.4 99.3,217.7 99.2,216.9 99.2,216.2 99.2,215.4 99.2,214.7 99.2,213.9 99.3,213.2 99.3,212.4 99.4,211.7 99.5,210.9 99.6,210.2 99.7,209.4 99.9,208.7 100.0,207.9 100.2,207.2 100.4,206.4 100.7,205.7 101.0,204.9 101.3,204.2 101.8,203.4 102.3,202.7 102.8,202.1 103.3,201.5 104.0,200.9 104.5,200.5 105.3,200.0 106.0,199.7 106.8,199.3 107.5,199.1 108.3,198.8 109.0,198.7 109.8,198.5 110.5,198.5 111.3,198.7 111.7,199.4 111.3,200.2 110.5,200.6 109.8,201.0 109.1,201.4 108.4,201.9 107.8,202.4 107.2,202.9 106.8,203.4 106.4,204.2 106.0,204.8 105.8,205.5 105.6,206.2 105.4,206.9 105.2,207.7 105.0,208.4 104.8,209.2 104.5,209.9 104.3,210.6 104.1,211.4 103.9,212.2 103.7,212.9 103.6,213.7 103.5,214.4 103.3,215.2 103.2,215.9 103.0,216.7 102.8,217.4 102.5,218.1 102.0,218.8Z" fill="rgba(0,0,0,0.035)" stroke="rgb(32,32,32)" stroke-width="0.79"/>
<path d="M101.3,218.5 100.5,218.6 99.9,217.9 99.7,217.2 99.6,216.4 99.6,215.7 99.6,214.9 99.6,214.2 99.6,213.4 99.7,212.7 99.7,211.9 99.8,211.2 99.9,210.4 100.0,209.7 100.2,208.9 100.4,208.2 100.5,207.4 100.7,206.7 101.0,205.9 101.3,205.2 101.6,204.4 102.0,203.7 102.5,203.0 103.0,202.4 103.5,201.8 104.3,201.2 105.0,200.7 105.8,200.3 106.5,200.0 107.3,199.7 108.0,199.5 108.8,199.3 109.5,199.3 110.2,199.7 109.5,200.3 108.8,200.8 108.0,201.3 107.3,201.9 106.8,202.4 106.3,203.0 105.8,203.7 105.4,204.4 105.0,205.1 104.7,205.9 104.5,206.7 104.3,207.4 104.0,208.1 103.8,208.9 103.6,209.7 103.4,210.4 103.2,211.2 103.1,211.9 103.0,212.7 102.9,213.4 102.8,214.2 102.7,214.9 102.6,215.7 102.4,216.4 102.2,217.2 101.9,217.9 101.3,218.5Z" fill="rgba(0,0,0,0.035)" stroke="rgb(32,32,32)" stroke-width="0.80"/>
<path d="M101.0,217.7 100.3,217.4 100.1,216.7 100.0,215.9 100.0,215.2 100.0,214.4 100.1,213.7 100.1,212.9 100.1,212.2 100.2,211.4 100.3,210.7 100.4,209.9 100.6,209.2 100.7,208.4 100.9,207.7 101.1,206.9 101.3,206.2 101.5,205.5 102.0,204.7 102.4,203.9 103.0,203.2 103.5,202.5 104.2,201.9 105.0,201.4 105.8,201.0 106.5,201.0 106.4,201.7 105.9,202.4 105.4,203.2 104.9,203.9 104.6,204.7 104.3,205.4 104.0,206.2 103.7,206.9 103.5,207.6 103.3,208.4 103.1,209.2 102.9,209.9 102.7,210.7 102.6,211.4 102.4,212.2 102.3,212.9 102.2,213.7 102.1,214.4 102.0,215.2 101.9,215.9 101.7,216.7 101.4,217.4Z" fill="rgba(0,0,0,0.035)" stroke="rgb(32,32,32)" stroke-width="0.80"/>
</g>
<line x1="89.3" y1="183.4" x2="89.3" y2="244.2" stroke="#888" stroke-width="0.8" />
<line x1="75.3" y1="224" x2="136.7" y2="224" stroke="#888" stroke-width="0.8" />
<rect x="75.3" y="183.4" width="61.4" height="60.79999999999998" fill="none" stroke="#999" stroke-width="0.9"/>
<text x="76.0" y="188.0" font-size="4.3" font-weight="normal" text-anchor="start" fill="#222" >0.079</text>
<text x="136.1" y="188.0" font-size="4.3" font-weight="normal" text-anchor="end" fill="#222" >83.5</text>
<text x="76.0" y="243.29999999999998" font-size="4.3" font-weight="normal" text-anchor="start" fill="#222" >0.095</text>
<text x="136.1" y="243.29999999999998" font-size="4.3" font-weight="normal" text-anchor="end" fill="#222" >16.3</text>
<text x="75.8" y="250.3" font-size="3.4" text-anchor="middle" fill="#555">10<tspan font-size="2.6" dy="-1.2">0</tspan></text>
<text x="91.1" y="250.3" font-size="3.4" text-anchor="middle" fill="#555">10<tspan font-size="2.6" dy="-1.2">1</tspan></text>
<text x="106.5" y="250.3" font-size="3.4" text-anchor="middle" fill="#555">10<tspan font-size="2.6" dy="-1.2">2</tspan></text>
<text x="121.8" y="250.3" font-size="3.4" text-anchor="middle" fill="#555">10<tspan font-size="2.6" dy="-1.2">3</tspan></text>
<text x="137.2" y="250.3" font-size="3.4" text-anchor="middle" fill="#555">10<tspan font-size="2.6" dy="-1.2">4</tspan></text>
<clipPath id="cl2"><rect x="136.6" y="183.4" width="61.4" height="60.79999999999998"/></clipPath>
<rect x="183.8" y="215.3" width="0.9" height="0.9" fill="rgb(58,58,58)"/>
<rect x="172.1" y="230.7" width="0.8" height="0.8" fill="rgb(118,118,118)"/>
<rect x="177.6" y="223.8" width="0.9" height="0.9" fill="rgb(61,61,61)"/>
<rect x="160.1" y="195.5" width="0.9" height="0.9" fill="rgb(124,124,124)"/>
<rect x="157.8" y="199.1" width="0.8" height="0.8" fill="rgb(63,63,63)"/>
<rect x="164.5" y="229.7" width="0.9" height="0.9" fill="rgb(77,77,77)"/>
<rect x="175.0" y="226.6" width="0.9" height="0.9" fill="rgb(94,94,94)"/>
<rect x="178.3" y="225.3" width="0.7" height="0.7" fill="rgb(114,114,114)"/>
<rect x="189.1" y="207.8" width="0.9" height="0.9" fill="rgb(107,107,107)"/>
<rect x="153.3" y="199.6" width="0.9" height="0.9" fill="rgb(119,119,119)"/>
<rect x="186.6" y="197.7" width="0.7" height="0.7" fill="rgb(106,106,106)"/>
<rect x="190.9" y="196.4" width="0.8" height="0.8" fill="rgb(88,88,88)"/>
<rect x="182.3" y="206.8" width="0.9" height="0.9" fill="rgb(69,69,69)"/>
<rect x="187.2" y="209.8" width="0.7" height="0.7" fill="rgb(56,56,56)"/>
<rect x="186.2" y="211.7" width="0.9" height="0.9" fill="rgb(46,46,46)"/>
<rect x="169.1" y="236.6" width="0.9" height="0.9" fill="rgb(63,63,63)"/>
<rect x="177.8" y="225.0" width="0.8" height="0.8" fill="rgb(113,113,113)"/>
<rect x="161.4" y="215.5" width="0.7" height="0.7" fill="rgb(104,104,104)"/>
<rect x="169.3" y="235.6" width="0.9" height="0.9" fill="rgb(107,107,107)"/>
<rect x="163.0" y="194.8" width="0.8" height="0.8" fill="rgb(58,58,58)"/>
<rect x="183.1" y="192.9" width="0.8" height="0.8" fill="rgb(119,119,119)"/>
<rect x="162.0" y="214.7" width="0.8" height="0.8" fill="rgb(120,120,120)"/>
<rect x="184.1" y="210.0" width="0.7" height="0.7" fill="rgb(125,125,125)"/>
<rect x="183.3" y="208.0" width="0.9" height="0.9" fill="rgb(71,71,71)"/>
<rect x="170.2" y="231.7" width="0.8" height="0.8" fill="rgb(51,51,51)"/>
<rect x="181.4" y="215.9" width="0.9" height="0.9" fill="rgb(88,88,88)"/>
<rect x="182.8" y="210.1" width="0.9" height="0.9" fill="rgb(64,64,64)"/>
<rect x="181.4" y="209.2" width="0.9" height="0.9" fill="rgb(94,94,94)"/>
<rect x="185.3" y="196.6" width="0.8" height="0.8" fill="rgb(117,117,117)"/>
<rect x="187.3" y="193.9" width="0.7" height="0.7" fill="rgb(90,90,90)"/>
<rect x="160.6" y="219.4" width="0.8" height="0.8" fill="rgb(61,61,61)"/>
<rect x="159.1" y="194.3" width="0.7" height="0.7" fill="rgb(66,66,66)"/>
<rect x="184.9" y="203.0" width="0.7" height="0.7" fill="rgb(115,115,115)"/>
<rect x="175.1" y="227.1" width="0.8" height="0.8" fill="rgb(120,120,120)"/>
<rect x="191.9" y="192.8" width="0.7" height="0.7" fill="rgb(95,95,95)"/>
<rect x="185.4" y="197.2" width="0.9" height="0.9" fill="rgb(111,111,111)"/>
<rect x="167.7" y="230.1" width="0.9" height="0.9" fill="rgb(96,96,96)"/>
<rect x="186.1" y="209.7" width="0.8" height="0.8" fill="rgb(74,74,74)"/>
<rect x="165.6" y="228.4" width="0.9" height="0.9" fill="rgb(121,121,121)"/>
<rect x="183.1" y="216.0" width="0.9" height="0.9" fill="rgb(100,100,100)"/>
<rect x="177.9" y="221.9" width="0.8" height="0.8" fill="rgb(108,108,108)"/>
<rect x="181.6" y="211.2" width="0.9" height="0.9" fill="rgb(120,120,120)"/>
<rect x="181.5" y="209.6" width="0.7" height="0.7" fill="rgb(127,127,127)"/>
<rect x="174.3" y="229.1" width="0.7" height="0.7" fill="rgb(90,90,90)"/>
<rect x="187.5" y="202.3" width="0.9" height="0.9" fill="rgb(66,66,66)"/>
<rect x="179.7" y="214.1" width="0.9" height="0.9" fill="rgb(115,115,115)"/>
<rect x="183.6" y="204.1" width="0.7" height="0.7" fill="rgb(119,119,119)"/>
<rect x="183.4" y="200.3" width="0.8" height="0.8" fill="rgb(108,108,108)"/>
<rect x="164.6" y="226.4" width="0.7" height="0.7" fill="rgb(107,107,107)"/>
<rect x="186.1" y="203.2" width="0.7" height="0.7" fill="rgb(90,90,90)"/>
<rect x="169.6" y="234.4" width="0.7" height="0.7" fill="rgb(100,100,100)"/>
<rect x="183.4" y="213.8" width="0.7" height="0.7" fill="rgb(79,79,79)"/>
<rect x="183.2" y="214.4" width="0.8" height="0.8" fill="rgb(106,106,106)"/>
<rect x="179.2" y="216.2" width="0.8" height="0.8" fill="rgb(72,72,72)"/>
<rect x="179.9" y="218.2" width="0.7" height="0.7" fill="rgb(127,127,127)"/>
<rect x="182.5" y="192.8" width="0.8" height="0.8" fill="rgb(67,67,67)"/>
<rect x="182.6" y="206.5" width="0.7" height="0.7" fill="rgb(97,97,97)"/>
<rect x="189.1" y="195.7" width="0.7" height="0.7" fill="rgb(124,124,124)"/>
<rect x="184.4" y="204.9" width="0.9" height="0.9" fill="rgb(68,68,68)"/>
<rect x="168.7" y="233.7" width="0.7" height="0.7" fill="rgb(93,93,93)"/>
<rect x="162.6" y="195.1" width="0.9" height="0.9" fill="rgb(58,58,58)"/>
<rect x="179.3" y="217.8" width="0.9" height="0.9" fill="rgb(101,101,101)"/>
<rect x="184.4" y="198.9" width="0.7" height="0.7" fill="rgb(69,69,69)"/>
<rect x="165.4" y="229.6" width="0.7" height="0.7" fill="rgb(50,50,50)"/>
<rect x="179.3" y="217.6" width="0.8" height="0.8" fill="rgb(89,89,89)"/>
<rect x="179.2" y="228.1" width="0.7" height="0.7" fill="rgb(59,59,59)"/>
<rect x="172.2" y="232.5" width="0.7" height="0.7" fill="rgb(55,55,55)"/>
<rect x="172.2" y="230.7" width="0.8" height="0.8" fill="rgb(40,40,40)"/>
<rect x="155.0" y="212.7" width="0.8" height="0.8" fill="rgb(75,75,75)"/>
<rect x="162.4" y="192.7" width="0.9" height="0.9" fill="rgb(74,74,74)"/>
<rect x="187.5" y="194.2" width="0.8" height="0.8" fill="rgb(96,96,96)"/>
<rect x="176.6" y="231.7" width="0.8" height="0.8" fill="rgb(71,71,71)"/>
<rect x="181.9" y="212.2" width="0.9" height="0.9" fill="rgb(64,64,64)"/>
<rect x="162.1" y="193.8" width="0.9" height="0.9" fill="rgb(78,78,78)"/>
<rect x="165.2" y="230.3" width="0.7" height="0.7" fill="rgb(127,127,127)"/>
<rect x="161.7" y="216.5" width="0.8" height="0.8" fill="rgb(42,42,42)"/>
<rect x="154.9" y="212.9" width="0.8" height="0.8" fill="rgb(64,64,64)"/>
<rect x="154.8" y="203.5" width="0.7" height="0.7" fill="rgb(113,113,113)"/>
<rect x="182.8" y="205.1" width="0.9" height="0.9" fill="rgb(122,122,122)"/>
<rect x="189.2" y="195.7" width="0.8" height="0.8" fill="rgb(69,69,69)"/>
<rect x="173.8" y="229.8" width="0.7" height="0.7" fill="rgb(51,51,51)"/>
<rect x="187.1" y="208.2" width="0.9" height="0.9" fill="rgb(89,89,89)"/>
<rect x="183.6" y="211.6" width="0.8" height="0.8" fill="rgb(127,127,127)"/>
<rect x="156.0" y="200.4" width="0.7" height="0.7" fill="rgb(57,57,57)"/>
<rect x="181.5" y="222.2" width="0.8" height="0.8" fill="rgb(72,72,72)"/>
<rect x="155.9" y="202.9" width="0.7" height="0.7" fill="rgb(92,92,92)"/>
<rect x="167.2" y="233.5" width="0.9" height="0.9" fill="rgb(63,63,63)"/>
<rect x="179.4" y="217.4" width="0.9" height="0.9" fill="rgb(94,94,94)"/>
<rect x="153.2" y="206.1" width="0.9" height="0.9" fill="rgb(70,70,70)"/>
<rect x="160.0" y="210.8" width="0.7" height="0.7" fill="rgb(60,60,60)"/>
<rect x="161.4" y="229.8" width="0.7" height="0.7" fill="rgb(121,121,121)"/>
<rect x="154.6" y="201.7" width="0.7" height="0.7" fill="rgb(100,100,100)"/>
<rect x="185.3" y="213.8" width="0.8" height="0.8" fill="rgb(60,60,60)"/>
<rect x="162.4" y="218.6" width="0.7" height="0.7" fill="rgb(128,128,128)"/>
<rect x="184.1" y="202.1" width="0.7" height="0.7" fill="rgb(63,63,63)"/>
<rect x="181.7" y="210.3" width="0.7" height="0.7" fill="rgb(128,128,128)"/>
<rect x="162.8" y="223.6" width="0.7" height="0.7" fill="rgb(125,125,125)"/>
<rect x="169.1" y="231.1" width="0.8" height="0.8" fill="rgb(57,57,57)"/>
<rect x="183.3" y="192.6" width="0.9" height="0.9" fill="rgb(130,130,130)"/>
<rect x="173.6" y="232.1" width="0.8" height="0.8" fill="rgb(91,91,91)"/>
<rect x="163.1" y="222.6" width="0.8" height="0.8" fill="rgb(49,49,49)"/>
<rect x="161.8" y="226.2" width="0.7" height="0.7" fill="rgb(109,109,109)"/>
<rect x="154.0" y="205.7" width="0.8" height="0.8" fill="rgb(99,99,99)"/>
<rect x="163.1" y="226.2" width="0.7" height="0.7" fill="rgb(127,127,127)"/>
<rect x="179.8" y="215.9" width="0.9" height="0.9" fill="rgb(57,57,57)"/>
<rect x="179.0" y="224.9" width="0.8" height="0.8" fill="rgb(41,41,41)"/>
<rect x="181.0" y="210.2" width="0.8" height="0.8" fill="rgb(114,114,114)"/>
<rect x="182.1" y="221.1" width="0.7" height="0.7" fill="rgb(111,111,111)"/>
<rect x="162.0" y="195.3" width="0.7" height="0.7" fill="rgb(101,101,101)"/>
<rect x="186.8" y="194.1" width="0.7" height="0.7" fill="rgb(48,48,48)"/>
<rect x="156.0" y="202.4" width="0.7" height="0.7" fill="rgb(111,111,111)"/>
<rect x="192.1" y="193.3" width="0.7" height="0.7" fill="rgb(96,96,96)"/>
<rect x="183.6" y="201.5" width="0.9" height="0.9" fill="rgb(72,72,72)"/>
<rect x="167.8" y="232.8" width="0.9" height="0.9" fill="rgb(101,101,101)"/>
<rect x="181.5" y="212.9" width="0.9" height="0.9" fill="rgb(114,114,114)"/>
<rect x="155.8" y="201.4" width="0.8" height="0.8" fill="rgb(60,60,60)"/>
<rect x="158.3" y="197.7" width="0.8" height="0.8" fill="rgb(72,72,72)"/>
<rect x="175.7" y="232.5" width="0.9" height="0.9" fill="rgb(52,52,52)"/>
<rect x="156.5" y="207.1" width="0.7" height="0.7" fill="rgb(129,129,129)"/>
<rect x="174.3" y="234.5" width="0.9" height="0.9" fill="rgb(73,73,73)"/>
<rect x="187.8" y="210.1" width="0.9" height="0.9" fill="rgb(50,50,50)"/>
<rect x="187.6" y="210.5" width="0.7" height="0.7" fill="rgb(129,129,129)"/>
<rect x="167.9" y="230.7" width="0.9" height="0.9" fill="rgb(55,55,55)"/>
<rect x="180.5" y="222.0" width="0.7" height="0.7" fill="rgb(124,124,124)"/>
<rect x="157.5" y="213.4" width="0.7" height="0.7" fill="rgb(59,59,59)"/>
<rect x="184.6" y="206.0" width="0.7" height="0.7" fill="rgb(129,129,129)"/>
<rect x="163.2" y="230.2" width="0.7" height="0.7" fill="rgb(90,90,90)"/>
<rect x="183.5" y="205.0" width="0.8" height="0.8" fill="rgb(121,121,121)"/>
<rect x="167.7" y="231.4" width="0.8" height="0.8" fill="rgb(57,57,57)"/>
<rect x="156.7" y="206.0" width="0.8" height="0.8" fill="rgb(100,100,100)"/>
<rect x="181.9" y="210.3" width="0.8" height="0.8" fill="rgb(85,85,85)"/>
<rect x="173.0" y="232.6" width="0.7" height="0.7" fill="rgb(97,97,97)"/>
<rect x="158.4" y="196.7" width="0.8" height="0.8" fill="rgb(66,66,66)"/>
<rect x="159.7" y="226.1" width="0.7" height="0.7" fill="rgb(125,125,125)"/>
<rect x="180.0" y="218.1" width="0.7" height="0.7" fill="rgb(90,90,90)"/>
<rect x="180.7" y="220.4" width="0.9" height="0.9" fill="rgb(45,45,45)"/>
<rect x="182.3" y="215.4" width="0.8" height="0.8" fill="rgb(124,124,124)"/>
<rect x="168.6" y="234.0" width="0.8" height="0.8" fill="rgb(84,84,84)"/>
<rect x="184.1" y="200.7" width="0.9" height="0.9" fill="rgb(108,108,108)"/>
<rect x="185.2" y="204.3" width="0.9" height="0.9" fill="rgb(51,51,51)"/>
<rect x="164.1" y="194.1" width="0.9" height="0.9" fill="rgb(46,46,46)"/>
<rect x="157.8" y="194.6" width="0.7" height="0.7" fill="rgb(98,98,98)"/>
<rect x="167.8" y="231.2" width="0.8" height="0.8" fill="rgb(42,42,42)"/>
<rect x="177.0" y="227.8" width="0.7" height="0.7" fill="rgb(43,43,43)"/>
<rect x="180.3" y="214.4" width="0.9" height="0.9" fill="rgb(78,78,78)"/>
<rect x="156.0" y="208.4" width="0.7" height="0.7" fill="rgb(42,42,42)"/>
<rect x="182.6" y="214.1" width="0.9" height="0.9" fill="rgb(100,100,100)"/>
<rect x="157.5" y="217.1" width="0.7" height="0.7" fill="rgb(90,90,90)"/>
<rect x="187.2" y="199.5" width="0.7" height="0.7" fill="rgb(96,96,96)"/>
<rect x="174.0" y="233.0" width="0.9" height="0.9" fill="rgb(97,97,97)"/>
<rect x="182.6" y="208.1" width="0.9" height="0.9" fill="rgb(88,88,88)"/>
<rect x="179.1" y="215.5" width="0.8" height="0.8" fill="rgb(69,69,69)"/>
<rect x="156.1" y="216.3" width="0.7" height="0.7" fill="rgb(81,81,81)"/>
<rect x="184.8" y="193.9" width="0.9" height="0.9" fill="rgb(75,75,75)"/>
<rect x="183.5" y="205.2" width="0.9" height="0.9" fill="rgb(128,128,128)"/>
<rect x="181.1" y="223.2" width="0.7" height="0.7" fill="rgb(65,65,65)"/>
<rect x="163.0" y="226.4" width="0.7" height="0.7" fill="rgb(121,121,121)"/>
<rect x="180.3" y="221.3" width="0.9" height="0.9" fill="rgb(76,76,76)"/>
<rect x="177.3" y="231.3" width="0.7" height="0.7" fill="rgb(50,50,50)"/>
<rect x="160.8" y="225.4" width="0.8" height="0.8" fill="rgb(110,110,110)"/>
<rect x="177.6" y="229.5" width="0.9" height="0.9" fill="rgb(77,77,77)"/>
<rect x="159.0" y="210.6" width="0.7" height="0.7" fill="rgb(105,105,105)"/>
<rect x="168.4" y="231.3" width="0.7" height="0.7" fill="rgb(66,66,66)"/>
<rect x="185.2" y="196.4" width="0.9" height="0.9" fill="rgb(43,43,43)"/>
<rect x="186.8" y="196.5" width="0.9" height="0.9" fill="rgb(62,62,62)"/>
<rect x="160.9" y="193.8" width="0.7" height="0.7" fill="rgb(68,68,68)"/>
<rect x="161.6" y="212.5" width="0.9" height="0.9" fill="rgb(127,127,127)"/>
<rect x="186.0" y="213.4" width="0.9" height="0.9" fill="rgb(74,74,74)"/>
<rect x="165.9" y="192.9" width="0.7" height="0.7" fill="rgb(40,40,40)"/>
<rect x="159.1" y="218.6" width="0.9" height="0.9" fill="rgb(96,96,96)"/>
<rect x="185.5" y="199.7" width="0.9" height="0.9" fill="rgb(91,91,91)"/>
<rect x="171.0" y="232.2" width="0.7" height="0.7" fill="rgb(118,118,118)"/>
<rect x="157.1" y="211.6" width="0.9" height="0.9" fill="rgb(116,116,116)"/>
<rect x="164.0" y="226.3" width="0.7" height="0.7" fill="rgb(129,129,129)"/>
<rect x="180.2" y="217.3" width="0.8" height="0.8" fill="rgb(91,91,91)"/>
<rect x="157.5" y="215.0" width="0.7" height="0.7" fill="rgb(105,105,105)"/>
<rect x="185.5" y="193.8" width="0.7" height="0.7" fill="rgb(108,108,108)"/>
<rect x="183.6" y="213.2" width="0.8" height="0.8" fill="rgb(95,95,95)"/>
<rect x="179.7" y="225.3" width="0.7" height="0.7" fill="rgb(104,104,104)"/>
<rect x="171.1" y="233.4" width="0.7" height="0.7" fill="rgb(106,106,106)"/>
<rect x="178.8" y="228.3" width="0.8" height="0.8" fill="rgb(82,82,82)"/>
<rect x="188.4" y="201.0" width="0.8" height="0.8" fill="rgb(52,52,52)"/>
<rect x="156.7" y="199.9" width="0.7" height="0.7" fill="rgb(126,126,126)"/>
<rect x="161.0" y="215.9" width="0.9" height="0.9" fill="rgb(94,94,94)"/>
<rect x="180.7" y="225.2" width="0.8" height="0.8" fill="rgb(50,50,50)"/>
<rect x="157.1" y="199.6" width="0.7" height="0.7" fill="rgb(100,100,100)"/>
<rect x="176.6" y="229.1" width="0.7" height="0.7" fill="rgb(86,86,86)"/>
<rect x="178.8" y="225.3" width="0.9" height="0.9" fill="rgb(128,128,128)"/>
<rect x="177.3" y="223.6" width="0.8" height="0.8" fill="rgb(52,52,52)"/>
<rect x="176.1" y="229.9" width="0.8" height="0.8" fill="rgb(41,41,41)"/>
<rect x="184.5" y="194.3" width="0.9" height="0.9" fill="rgb(103,103,103)"/>
<rect x="181.6" y="212.8" width="0.9" height="0.9" fill="rgb(120,120,120)"/>
<rect x="180.8" y="216.1" width="0.9" height="0.9" fill="rgb(45,45,45)"/>
<rect x="181.3" y="214.9" width="0.7" height="0.7" fill="rgb(63,63,63)"/>
<rect x="162.5" y="217.2" width="0.8" height="0.8" fill="rgb(66,66,66)"/>
<rect x="161.6" y="215.9" width="0.8" height="0.8" fill="rgb(70,70,70)"/>
<rect x="163.6" y="226.9" width="0.9" height="0.9" fill="rgb(82,82,82)"/>
<rect x="164.7" y="225.5" width="0.9" height="0.9" fill="rgb(59,59,59)"/>
<rect x="156.9" y="200.8" width="0.7" height="0.7" fill="rgb(41,41,41)"/>
<rect x="160.2" y="221.1" width="0.9" height="0.9" fill="rgb(104,104,104)"/>
<rect x="176.1" y="229.0" width="0.9" height="0.9" fill="rgb(76,76,76)"/>
<rect x="174.6" y="230.4" width="0.7" height="0.7" fill="rgb(130,130,130)"/>
<rect x="185.1" y="193.0" width="0.8" height="0.8" fill="rgb(103,103,103)"/>
<rect x="161.4" y="217.0" width="0.8" height="0.8" fill="rgb(87,87,87)"/>
<rect x="162.0" y="194.8" width="0.7" height="0.7" fill="rgb(44,44,44)"/>
<rect x="183.3" y="212.4" width="0.8" height="0.8" fill="rgb(101,101,101)"/>
<rect x="172.0" y="232.4" width="0.9" height="0.9" fill="rgb(119,119,119)"/>
<g clip-path="url(#cl2)">
<path d="M171.6,231.9 170.8,232.1 170.1,232.1 169.3,231.9 168.7,231.7 167.9,231.2 167.3,230.7 166.8,230.2 166.4,229.7 165.8,228.9 165.4,228.2 165.0,227.4 164.7,226.7 164.4,225.9 164.1,225.2 163.9,224.4 163.7,223.7 163.5,222.9 163.3,222.2 163.1,221.4 162.9,220.7 162.7,219.9 162.6,219.2 162.4,218.4 162.3,217.7 162.1,216.9 162.0,216.2 161.8,215.4 161.6,214.7 161.3,213.9 160.9,213.2 160.6,212.5 160.2,211.9 159.7,211.2 159.1,210.5 158.6,210.0 158.1,209.4 157.6,208.9 157.1,208.3 156.7,207.7 156.2,206.9 155.9,206.2 155.7,205.4 155.6,204.7 155.6,203.9 155.6,203.2 155.7,202.4 155.9,201.7 156.2,200.9 156.6,200.2 157.0,199.4 157.6,198.7 158.1,198.0 158.6,197.5 159.2,196.9 159.8,196.4 160.5,195.9 161.1,195.5 161.8,195.0 162.6,194.7 163.3,194.3 164.1,194.0 164.8,193.7 165.6,193.5 166.3,193.2 167.1,193.0 167.8,192.9 168.6,192.7 169.3,192.5 170.1,192.4 170.8,192.3 171.6,192.1 172.3,192.0 173.1,191.8 173.8,191.7 174.6,191.6 175.3,191.5 176.1,191.4 176.8,191.4 177.6,191.3 178.3,191.3 179.1,191.4 179.8,191.4 180.6,191.5 181.3,191.7 182.1,191.9 182.7,192.2 183.6,192.6 184.3,193.1 184.8,193.6 185.3,194.4 185.6,195.2 185.8,195.9 185.7,196.7 185.6,197.4 185.3,198.1 185.0,198.9 184.6,199.7 184.2,200.4 183.8,201.1 183.5,201.9 183.3,202.7 183.2,203.4 183.1,204.2 183.1,204.9 183.0,205.7 182.9,206.4 182.7,207.2 182.5,207.9 182.3,208.7 182.0,209.4 181.7,210.2 181.5,210.9 181.2,211.7 180.9,212.4 180.6,213.2 180.3,213.9 180.1,214.5 179.8,215.4 179.5,216.2 179.2,216.9 178.9,217.7 178.6,218.4 178.4,219.2 178.2,219.9 177.9,220.7 177.7,221.4 177.4,222.2 177.1,222.9 176.8,223.6 176.5,224.4 176.1,225.2 175.8,225.9 175.4,226.7 175.1,227.3 174.7,228.2 174.3,228.9 173.9,229.7 173.4,230.4 172.8,231.1 172.1,231.7Z" fill="rgba(0,0,0,0.035)" stroke="rgb(97,97,97)" stroke-width="0.51"/>
<path d="M171.1,230.2 170.3,230.4 169.6,230.3 168.8,230.0 168.1,229.5 167.5,228.9 166.9,228.2 166.4,227.4 166.0,226.7 165.6,225.9 165.3,225.2 165.1,224.5 164.9,223.7 164.6,222.9 164.5,222.2 164.3,221.4 164.1,220.7 163.9,219.9 163.8,219.2 163.7,218.4 163.5,217.7 163.4,216.9 163.3,216.2 163.1,215.4 162.9,214.7 162.7,213.9 162.4,213.2 162.0,212.4 161.6,211.7 161.1,211.0 160.6,210.4 160.1,209.9 159.4,209.2 158.9,208.7 158.3,208.1 157.8,207.5 157.3,206.7 157.0,205.9 156.8,205.2 156.6,204.4 156.6,203.7 156.7,202.9 156.8,202.2 157.1,201.4 157.3,200.7 157.8,199.9 158.3,199.2 158.8,198.5 159.3,197.9 159.9,197.4 160.5,196.9 161.1,196.4 161.8,195.9 162.6,195.5 163.3,195.2 164.1,194.8 164.8,194.5 165.6,194.3 166.3,194.0 167.1,193.8 167.8,193.7 168.6,193.5 169.3,193.4 170.1,193.2 170.8,193.1 171.6,192.9 172.3,192.8 173.1,192.7 173.8,192.6 174.6,192.5 175.3,192.4 176.1,192.3 176.8,192.3 177.6,192.3 178.3,192.3 179.1,192.4 179.8,192.5 180.6,192.7 181.3,192.9 182.1,193.3 182.7,193.7 183.3,194.2 183.8,194.9 184.1,195.6 184.2,196.4 184.2,197.2 184.0,197.9 183.7,198.7 183.4,199.4 183.0,200.2 182.6,200.9 182.2,201.7 181.9,202.4 181.8,203.2 181.7,203.9 181.6,204.7 181.5,205.4 181.4,206.2 181.3,206.9 181.1,207.7 180.9,208.4 180.7,209.2 180.4,209.9 180.1,210.7 179.8,211.4 179.6,212.1 179.3,212.8 179.1,213.5 178.9,214.2 178.6,214.8 178.3,215.5 178.1,216.2 177.8,216.9 177.6,217.6 177.4,218.4 177.1,219.2 176.9,219.9 176.7,220.7 176.5,221.4 176.2,222.2 175.9,222.9 175.6,223.6 175.2,224.4 174.9,225.2 174.5,225.9 174.1,226.7 173.7,227.4 173.3,228.0 173.0,228.7 172.4,229.4 171.8,229.9 171.1,230.2Z" fill="rgba(0,0,0,0.035)" stroke="rgb(94,94,94)" stroke-width="0.52"/>
<path d="M170.6,228.4 169.8,228.5 169.1,228.2 168.3,227.7 167.8,227.2 167.4,226.7 167.0,225.9 166.6,225.2 166.3,224.4 166.0,223.7 165.8,222.9 165.6,222.2 165.4,221.4 165.2,220.7 165.1,220.0 165.0,219.2 164.8,218.4 164.7,217.7 164.6,216.9 164.5,216.2 164.4,215.4 164.2,214.7 164.0,213.9 163.7,213.2 163.4,212.4 163.0,211.7 162.6,211.0 162.1,210.4 161.6,209.8 160.9,209.2 160.3,208.7 159.7,208.2 159.3,207.7 158.6,206.9 158.2,206.2 157.9,205.4 157.7,204.7 157.6,203.9 157.6,203.2 157.7,202.4 157.9,201.7 158.2,200.9 158.6,200.2 159.1,199.4 159.6,198.8 160.1,198.2 160.7,197.7 161.3,197.2 162.1,196.7 162.8,196.2 163.6,195.8 164.3,195.5 165.1,195.2 165.8,194.9 166.6,194.7 167.3,194.5 168.1,194.3 168.8,194.2 169.6,194.0 170.3,193.9 171.1,193.8 171.8,193.6 172.6,193.5 173.3,193.4 174.1,193.3 174.8,193.2 175.6,193.2 176.3,193.1 177.1,193.1 177.8,193.2 178.6,193.3 179.3,193.4 180.1,193.6 180.8,193.9 181.6,194.4 182.1,194.9 182.6,195.7 182.8,196.4 182.8,197.2 182.7,197.9 182.5,198.7 182.1,199.4 181.7,200.2 181.3,200.9 181.0,201.7 180.7,202.4 180.4,203.2 180.3,203.9 180.2,204.7 180.2,205.4 180.1,206.2 180.0,206.9 179.8,207.7 179.6,208.4 179.3,209.1 179.1,209.8 178.8,210.5 178.6,211.2 178.4,211.9 178.1,212.6 177.8,213.3 177.6,214.0 177.3,214.7 177.1,215.4 176.8,216.1 176.6,216.8 176.4,217.7 176.1,218.4 176.0,219.2 175.8,219.9 175.5,220.7 175.3,221.4 175.0,222.2 174.7,222.9 174.4,223.7 174.0,224.4 173.6,225.1 173.1,225.9 172.7,226.7 172.1,227.4 171.6,227.9 170.8,228.3Z" fill="rgba(0,0,0,0.035)" stroke="rgb(90,90,90)" stroke-width="0.54"/>
<path d="M170.8,226.7 170.1,226.9 169.3,226.7 168.6,226.2 168.1,225.7 167.6,225.0 167.2,224.2 166.9,223.4 166.6,222.7 166.4,221.9 166.2,221.2 166.1,220.4 165.9,219.7 165.8,218.9 165.7,218.2 165.6,217.4 165.5,216.7 165.4,215.9 165.3,215.2 165.1,214.4 164.9,213.7 164.6,213.0 164.3,212.2 163.9,211.4 163.4,210.7 162.8,210.0 162.3,209.5 161.7,208.9 161.1,208.4 160.5,207.9 159.9,207.4 159.3,206.7 158.8,206.0 158.5,205.2 158.3,204.4 158.2,203.7 158.2,202.9 158.4,202.2 158.6,201.4 159.0,200.7 159.3,200.0 159.8,199.4 160.3,198.7 160.8,198.2 161.5,197.7 162.1,197.2 162.8,196.7 163.5,196.4 164.3,196.0 165.1,195.7 165.8,195.4 166.6,195.2 167.3,195.0 168.1,194.8 168.8,194.7 169.6,194.5 170.3,194.4 171.1,194.3 171.8,194.2 172.6,194.0 173.3,193.9 174.1,193.8 174.8,193.8 175.6,193.7 176.3,193.7 177.1,193.8 177.8,193.8 178.6,194.0 179.3,194.2 180.1,194.5 180.7,194.9 181.2,195.4 181.6,196.0 181.8,196.9 181.8,197.7 181.6,198.4 181.4,199.2 181.0,199.9 180.6,200.6 180.2,201.4 179.9,202.2 179.6,202.8 179.4,203.7 179.3,204.4 179.2,205.2 179.1,205.9 179.0,206.7 178.9,207.4 178.7,208.2 178.4,208.9 178.2,209.7 177.9,210.4 177.7,211.2 177.4,211.9 177.1,212.7 176.9,213.4 176.6,214.1 176.3,214.8 176.1,215.5 175.9,216.2 175.6,216.9 175.4,217.7 175.2,218.4 175.1,219.2 174.9,219.9 174.6,220.7 174.4,221.4 174.1,222.2 173.8,222.9 173.4,223.7 172.9,224.4 172.4,225.2 171.8,225.9 171.3,226.4Z" fill="rgba(0,0,0,0.035)" stroke="rgb(86,86,86)" stroke-width="0.55"/>
<path d="M170.3,224.9 169.6,224.8 168.9,224.4 168.3,223.7 167.9,222.9 167.6,222.2 167.3,221.4 167.1,220.7 167.0,219.9 166.8,219.2 166.7,218.4 166.7,217.7 166.6,216.9 166.5,216.2 166.4,215.4 166.2,214.7 166.0,213.9 165.8,213.2 165.4,212.4 165.1,211.7 164.7,210.9 164.2,210.2 163.6,209.5 162.9,208.9 162.2,208.4 161.6,207.9 160.9,207.4 160.4,206.9 159.8,206.3 159.5,205.7 159.1,204.9 158.9,204.2 158.9,203.4 158.9,202.7 159.1,201.9 159.3,201.2 159.8,200.4 160.3,199.7 160.8,199.0 161.3,198.5 162.0,197.9 162.7,197.4 163.3,197.0 164.1,196.7 164.8,196.3 165.6,196.0 166.3,195.8 167.1,195.6 167.8,195.4 168.6,195.2 169.3,195.1 170.1,195.0 170.8,194.8 171.6,194.7 172.3,194.6 173.1,194.5 173.8,194.4 174.6,194.4 175.3,194.4 176.1,194.4 176.8,194.4 177.6,194.5 178.3,194.7 179.1,195.0 179.8,195.4 180.3,195.9 180.7,196.7 180.8,197.4 180.8,198.2 180.5,198.9 180.2,199.7 179.8,200.4 179.4,201.2 179.1,201.8 178.7,202.7 178.5,203.4 178.3,204.2 178.2,204.9 178.1,205.7 178.0,206.4 177.9,207.2 177.7,207.9 177.5,208.7 177.2,209.4 177.0,210.2 176.7,210.9 176.4,211.7 176.2,212.4 175.9,213.2 175.6,213.9 175.3,214.7 175.0,215.4 174.8,216.2 174.6,216.9 174.4,217.7 174.2,218.4 174.0,219.2 173.8,219.8 173.6,220.7 173.3,221.3 173.0,222.2 172.6,222.8 172.1,223.6 171.6,224.2 171.0,224.7Z" fill="rgba(0,0,0,0.035)" stroke="rgb(80,80,80)" stroke-width="0.57"/>
<path d="M170.6,222.5 169.8,222.4 169.2,221.9 168.7,221.2 168.4,220.4 168.2,219.7 168.1,218.9 168.0,218.2 167.9,217.4 167.8,216.7 167.7,215.9 167.6,215.2 167.4,214.4 167.2,213.7 166.9,212.9 166.5,212.2 166.2,211.4 165.7,210.7 165.2,209.9 164.6,209.3 163.8,208.7 163.1,208.2 162.4,207.7 161.7,207.2 161.1,206.7 160.6,206.1 160.1,205.4 159.8,204.7 159.6,203.9 159.5,203.2 159.6,202.4 159.8,201.7 160.1,201.0 160.6,200.2 161.1,199.5 161.6,199.0 162.2,198.4 162.8,197.9 163.6,197.5 164.3,197.1 165.1,196.7 165.8,196.4 166.6,196.2 167.3,196.0 168.1,195.8 168.8,195.7 169.6,195.5 170.3,195.4 171.1,195.3 171.8,195.2 172.6,195.1 173.3,195.1 174.1,195.0 174.8,195.0 175.6,195.0 176.3,195.1 177.1,195.2 177.8,195.4 178.6,195.8 179.3,196.4 179.7,197.2 179.8,197.9 179.7,198.7 179.4,199.4 179.1,200.0 178.6,200.9 178.2,201.7 177.9,202.4 177.6,203.1 177.3,203.9 177.2,204.7 177.1,205.4 177.0,206.2 176.8,206.9 176.7,207.7 176.5,208.4 176.2,209.2 176.0,209.9 175.7,210.7 175.4,211.4 175.1,212.1 174.8,212.9 174.4,213.7 174.1,214.4 173.8,215.1 173.6,215.8 173.3,216.6 173.2,217.4 173.0,218.2 172.8,218.9 172.6,219.7 172.3,220.4 172.0,221.2 171.4,221.9 170.8,222.4Z" fill="rgba(0,0,0,0.035)" stroke="rgb(74,74,74)" stroke-width="0.59"/>
<path d="M170.6,216.5 170.0,215.9 169.6,215.2 169.2,214.4 168.8,213.7 168.4,212.9 168.0,212.2 167.6,211.5 167.2,210.9 166.8,210.3 166.4,209.7 165.8,209.1 165.3,208.7 164.6,208.2 163.8,207.8 163.2,207.4 162.6,207.0 161.8,206.4 161.3,205.9 160.8,205.3 160.5,204.7 160.3,203.9 160.2,203.2 160.3,202.4 160.4,201.7 160.8,200.9 161.3,200.2 161.8,199.4 162.4,198.9 163.0,198.4 163.8,197.9 164.6,197.5 165.3,197.2 166.0,196.9 166.8,196.7 167.6,196.4 168.3,196.3 169.1,196.1 169.8,196.0 170.6,195.9 171.3,195.8 172.1,195.7 172.8,195.7 173.6,195.6 174.3,195.6 175.1,195.6 175.8,195.7 176.6,195.9 177.3,196.2 178.1,196.7 178.6,197.4 178.7,198.2 178.6,198.9 178.3,199.6 178.0,200.4 177.6,201.1 177.2,201.9 176.8,202.5 176.5,203.4 176.2,204.2 176.1,204.9 175.9,205.7 175.8,206.4 175.6,207.1 175.4,207.9 175.2,208.7 174.9,209.4 174.6,210.2 174.3,210.9 173.9,211.7 173.5,212.4 173.1,213.1 172.6,213.9 172.1,214.7 171.6,215.4 171.1,216.1Z" fill="rgba(0,0,0,0.035)" stroke="rgb(66,66,66)" stroke-width="0.62"/>
<path d="M171.3,211.7 170.6,211.8 169.8,211.4 169.2,210.9 168.6,210.2 168.1,209.7 167.6,209.1 167.0,208.7 166.3,208.2 165.6,207.8 164.8,207.5 164.2,207.2 163.3,206.7 162.6,206.2 162.0,205.7 161.4,204.9 161.0,204.2 160.8,203.4 160.8,202.7 161.0,201.9 161.3,201.2 161.7,200.4 162.3,199.7 162.9,199.2 163.5,198.7 164.3,198.2 165.1,197.8 165.8,197.4 166.6,197.2 167.3,197.0 168.1,196.8 168.8,196.7 169.6,196.6 170.3,196.5 171.1,196.4 171.8,196.3 172.6,196.3 173.3,196.2 174.1,196.3 174.8,196.3 175.6,196.5 176.3,196.7 177.0,197.2 177.5,197.9 177.6,198.7 177.5,199.4 177.2,200.2 176.8,200.9 176.4,201.7 176.0,202.4 175.6,203.1 175.3,203.9 175.0,204.7 174.7,205.4 174.5,206.2 174.3,206.9 174.1,207.7 173.8,208.4 173.5,209.2 173.1,209.8 172.6,210.6 172.1,211.2 171.4,211.7Z" fill="rgba(0,0,0,0.035)" stroke="rgb(56,56,56)" stroke-width="0.66"/>
<path d="M170.8,208.4 170.1,208.4 169.3,208.3 168.6,208.0 167.8,207.7 167.1,207.5 166.3,207.2 165.6,207.0 164.8,206.7 164.2,206.4 163.3,205.9 162.6,205.4 162.1,204.8 161.7,204.2 161.5,203.4 161.5,202.7 161.6,201.9 161.9,201.2 162.3,200.5 162.8,199.9 163.3,199.4 164.0,198.9 164.8,198.4 165.6,198.1 166.3,197.8 167.1,197.5 167.8,197.4 168.6,197.2 169.3,197.1 170.1,197.0 170.8,196.9 171.6,196.9 172.3,196.9 173.1,196.9 173.8,196.9 174.6,197.1 175.3,197.3 176.1,197.9 176.4,198.7 176.4,199.4 176.2,200.2 175.8,200.8 175.4,201.7 175.0,202.4 174.6,203.1 174.2,203.9 173.8,204.7 173.4,205.4 173.0,206.2 172.6,206.8 172.2,207.4 171.6,208.0 170.9,208.4Z" fill="rgba(0,0,0,0.035)" stroke="rgb(45,45,45)" stroke-width="0.70"/>
<path d="M170.1,206.4 169.3,206.6 168.6,206.6 167.8,206.6 167.1,206.5 166.4,206.4 165.6,206.2 164.8,206.0 164.1,205.7 163.4,205.2 162.8,204.7 162.4,203.9 162.2,203.2 162.2,202.4 162.3,201.7 162.8,200.9 163.3,200.2 163.9,199.7 164.6,199.2 165.3,198.7 166.0,198.4 166.7,198.2 167.6,197.9 168.3,197.8 169.1,197.7 169.8,197.6 170.6,197.5 171.3,197.5 172.1,197.5 172.8,197.6 173.6,197.7 174.3,198.0 175.0,198.7 175.2,199.4 175.1,200.1 174.8,200.8 174.5,201.4 174.1,202.2 173.6,202.9 173.2,203.7 172.6,204.4 172.1,205.0 171.6,205.5 170.8,206.1 170.2,206.4Z" fill="rgba(0,0,0,0.035)" stroke="rgb(33,33,33)" stroke-width="0.74"/>
<path d="M168.8,205.7 168.1,205.8 167.3,205.8 166.6,205.8 165.8,205.6 165.1,205.4 164.3,205.1 163.8,204.7 163.1,203.9 162.8,203.2 162.8,202.4 163.0,201.7 163.3,201.0 163.8,200.4 164.3,199.9 165.0,199.4 165.8,199.0 166.6,198.7 167.3,198.5 168.1,198.3 168.8,198.2 169.6,198.1 170.3,198.1 171.1,198.1 171.8,198.2 172.6,198.3 173.3,198.6 173.9,199.2 174.0,199.9 173.9,200.7 173.6,201.4 173.2,202.2 172.7,202.9 172.1,203.6 171.6,204.2 171.1,204.7 170.3,205.1 169.6,205.5 168.8,205.7Z" fill="rgba(0,0,0,0.035)" stroke="rgb(32,32,32)" stroke-width="0.79"/>
<path d="M168.3,205.0 167.6,205.1 166.8,205.1 166.1,205.0 165.3,204.8 164.6,204.4 164.0,203.9 163.6,203.2 163.5,202.4 163.7,201.7 164.1,200.9 164.6,200.4 165.2,199.9 165.8,199.5 166.6,199.2 167.3,199.0 168.1,198.8 168.8,198.7 169.6,198.7 170.3,198.7 171.1,198.8 171.8,199.1 172.6,199.6 172.8,200.4 172.6,201.2 172.3,201.9 171.8,202.6 171.4,203.2 170.9,203.7 170.2,204.2 169.6,204.5 168.8,204.8Z" fill="rgba(0,0,0,0.035)" stroke="rgb(32,32,32)" stroke-width="0.80"/>
<path d="M168.3,204.2 167.6,204.4 166.8,204.4 166.1,204.3 165.3,204.0 164.6,203.4 164.3,202.7 164.3,201.9 164.7,201.2 165.3,200.5 166.1,200.0 166.8,199.7 167.6,199.5 168.3,199.4 169.1,199.3 169.8,199.4 170.6,199.6 171.3,200.1 171.6,200.9 171.4,201.7 170.9,202.4 170.3,203.0 169.6,203.6 168.8,204.0Z" fill="rgba(0,0,0,0.035)" stroke="rgb(32,32,32)" stroke-width="0.80"/>
<path d="M168.1,203.5 167.3,203.6 166.6,203.6 165.8,203.4 165.2,202.7 165.2,201.9 165.6,201.2 166.3,200.7 167.1,200.3 167.8,200.1 168.6,200.0 169.3,200.1 170.1,200.6 170.3,201.4 170.0,202.2 169.3,202.8 168.6,203.3Z" fill="rgba(0,0,0,0.035)" stroke="rgb(32,32,32)" stroke-width="0.80"/>
</g>
<line x1="150.6" y1="183.4" x2="150.6" y2="244.2" stroke="#888" stroke-width="0.8" />
<line x1="136.6" y1="224" x2="198.0" y2="224" stroke="#888" stroke-width="0.8" />
<rect x="136.6" y="183.4" width="61.4" height="60.79999999999998" fill="none" stroke="#999" stroke-width="0.9"/>
<text x="137.29999999999998" y="188.0" font-size="4.3" font-weight="normal" text-anchor="start" fill="#222" >0.018</text>
<text x="197.4" y="188.0" font-size="4.3" font-weight="normal" text-anchor="end" fill="#222" >97.2</text>
<text x="137.29999999999998" y="243.29999999999998" font-size="4.3" font-weight="normal" text-anchor="start" fill="#222" >0.018</text>
<text x="197.4" y="243.29999999999998" font-size="4.3" font-weight="normal" text-anchor="end" fill="#222" >2.14</text>
<text x="137.1" y="250.3" font-size="3.4" text-anchor="middle" fill="#555">10<tspan font-size="2.6" dy="-1.2">0</tspan></text>
<text x="152.4" y="250.3" font-size="3.4" text-anchor="middle" fill="#555">10<tspan font-size="2.6" dy="-1.2">1</tspan></text>
<text x="167.8" y="250.3" font-size="3.4" text-anchor="middle" fill="#555">10<tspan font-size="2.6" dy="-1.2">2</tspan></text>
<text x="183.1" y="250.3" font-size="3.4" text-anchor="middle" fill="#555">10<tspan font-size="2.6" dy="-1.2">3</tspan></text>
<text x="198.5" y="250.3" font-size="3.4" text-anchor="middle" fill="#555">10<tspan font-size="2.6" dy="-1.2">4</tspan></text>
<clipPath id="cl3"><rect x="197.9" y="183.4" width="61.4" height="60.79999999999998"/></clipPath>
<rect x="246.1" y="205.7" width="0.9" height="0.9" fill="rgb(98,98,98)"/>
<rect x="218.0" y="242.2" width="0.9" height="0.9" fill="rgb(129,129,129)"/>
<rect x="201.7" y="205.3" width="0.9" height="0.9" fill="rgb(67,67,67)"/>
<rect x="209.6" y="232.0" width="0.9" height="0.9" fill="rgb(49,49,49)"/>
<rect x="215.8" y="236.6" width="0.9" height="0.9" fill="rgb(55,55,55)"/>
<rect x="249.5" y="208.6" width="0.8" height="0.8" fill="rgb(88,88,88)"/>
<rect x="249.4" y="211.5" width="0.9" height="0.9" fill="rgb(83,83,83)"/>
<rect x="203.2" y="208.1" width="0.8" height="0.8" fill="rgb(55,55,55)"/>
<rect x="232.0" y="197.1" width="0.7" height="0.7" fill="rgb(50,50,50)"/>
<rect x="250.6" y="213.8" width="0.9" height="0.9" fill="rgb(68,68,68)"/>
<rect x="242.3" y="201.9" width="0.7" height="0.7" fill="rgb(43,43,43)"/>
<rect x="210.4" y="202.2" width="0.7" height="0.7" fill="rgb(68,68,68)"/>
<rect x="238.4" y="199.4" width="0.7" height="0.7" fill="rgb(128,128,128)"/>
<rect x="247.2" y="199.6" width="0.9" height="0.9" fill="rgb(117,117,117)"/>
<rect x="236.7" y="233.2" width="0.7" height="0.7" fill="rgb(77,77,77)"/>
<rect x="246.0" y="210.9" width="0.9" height="0.9" fill="rgb(92,92,92)"/>
<rect x="206.5" y="202.4" width="0.9" height="0.9" fill="rgb(114,114,114)"/>
<rect x="243.0" y="220.0" width="0.8" height="0.8" fill="rgb(126,126,126)"/>
<rect x="244.4" y="220.8" width="0.9" height="0.9" fill="rgb(69,69,69)"/>
<rect x="242.1" y="223.6" width="0.9" height="0.9" fill="rgb(113,113,113)"/>
<rect x="229.3" y="237.6" width="0.7" height="0.7" fill="rgb(71,71,71)"/>
<rect x="240.9" y="198.2" width="0.7" height="0.7" fill="rgb(87,87,87)"/>
<rect x="247.9" y="208.1" width="0.7" height="0.7" fill="rgb(114,114,114)"/>
<rect x="210.0" y="203.6" width="0.9" height="0.9" fill="rgb(128,128,128)"/>
<rect x="232.6" y="193.6" width="0.8" height="0.8" fill="rgb(105,105,105)"/>
<rect x="209.8" y="199.3" width="0.9" height="0.9" fill="rgb(72,72,72)"/>
<rect x="245.7" y="209.2" width="0.7" height="0.7" fill="rgb(76,76,76)"/>
<rect x="207.9" y="209.4" width="0.8" height="0.8" fill="rgb(107,107,107)"/>
<rect x="242.4" y="221.5" width="0.7" height="0.7" fill="rgb(107,107,107)"/>
<rect x="201.1" y="212.4" width="0.9" height="0.9" fill="rgb(130,130,130)"/>
<rect x="240.8" y="220.9" width="0.7" height="0.7" fill="rgb(77,77,77)"/>
<rect x="240.0" y="201.0" width="0.7" height="0.7" fill="rgb(101,101,101)"/>
<rect x="237.7" y="197.5" width="0.8" height="0.8" fill="rgb(56,56,56)"/>
<rect x="204.8" y="205.8" width="0.8" height="0.8" fill="rgb(105,105,105)"/>
<rect x="229.8" y="196.4" width="0.8" height="0.8" fill="rgb(52,52,52)"/>
<rect x="246.0" y="207.7" width="0.7" height="0.7" fill="rgb(84,84,84)"/>
<rect x="246.7" y="212.7" width="0.9" height="0.9" fill="rgb(124,124,124)"/>
<rect x="208.1" y="228.1" width="0.8" height="0.8" fill="rgb(51,51,51)"/>
<rect x="230.6" y="236.0" width="0.9" height="0.9" fill="rgb(102,102,102)"/>
<rect x="231.7" y="195.1" width="0.9" height="0.9" fill="rgb(55,55,55)"/>
<rect x="236.4" y="239.4" width="0.9" height="0.9" fill="rgb(52,52,52)"/>
<rect x="213.0" y="228.0" width="0.8" height="0.8" fill="rgb(89,89,89)"/>
<rect x="229.1" y="242.0" width="0.9" height="0.9" fill="rgb(42,42,42)"/>
<rect x="242.0" y="197.1" width="0.9" height="0.9" fill="rgb(101,101,101)"/>
<rect x="244.7" y="208.3" width="0.8" height="0.8" fill="rgb(119,119,119)"/>
<rect x="207.1" y="214.9" width="0.9" height="0.9" fill="rgb(88,88,88)"/>
<rect x="243.0" y="229.4" width="0.8" height="0.8" fill="rgb(96,96,96)"/>
<rect x="244.0" y="204.9" width="0.7" height="0.7" fill="rgb(48,48,48)"/>
<rect x="244.4" y="212.0" width="0.7" height="0.7" fill="rgb(96,96,96)"/>
<rect x="248.0" y="203.2" width="0.9" height="0.9" fill="rgb(81,81,81)"/>
<rect x="208.1" y="212.0" width="0.7" height="0.7" fill="rgb(77,77,77)"/>
<rect x="249.4" y="215.1" width="0.7" height="0.7" fill="rgb(109,109,109)"/>
<rect x="243.2" y="218.8" width="0.7" height="0.7" fill="rgb(112,112,112)"/>
<rect x="213.4" y="226.8" width="0.7" height="0.7" fill="rgb(119,119,119)"/>
<rect x="243.1" y="201.8" width="0.8" height="0.8" fill="rgb(69,69,69)"/>
<rect x="246.3" y="222.4" width="0.9" height="0.9" fill="rgb(59,59,59)"/>
<rect x="213.0" y="196.5" width="0.9" height="0.9" fill="rgb(50,50,50)"/>
<rect x="211.3" y="221.1" width="0.8" height="0.8" fill="rgb(125,125,125)"/>
<rect x="244.0" y="212.5" width="0.8" height="0.8" fill="rgb(43,43,43)"/>
<rect x="240.6" y="197.4" width="0.8" height="0.8" fill="rgb(98,98,98)"/>
<rect x="209.6" y="202.3" width="0.9" height="0.9" fill="rgb(51,51,51)"/>
<rect x="224.4" y="195.7" width="0.9" height="0.9" fill="rgb(58,58,58)"/>
<rect x="254.6" y="207.8" width="0.8" height="0.8" fill="rgb(44,44,44)"/>
<rect x="244.4" y="209.7" width="0.9" height="0.9" fill="rgb(75,75,75)"/>
<rect x="205.8" y="214.6" width="0.7" height="0.7" fill="rgb(122,122,122)"/>
<rect x="245.3" y="196.1" width="0.7" height="0.7" fill="rgb(108,108,108)"/>
<rect x="212.2" y="227.8" width="0.8" height="0.8" fill="rgb(98,98,98)"/>
<rect x="203.3" y="205.4" width="0.7" height="0.7" fill="rgb(90,90,90)"/>
<rect x="249.3" y="203.5" width="0.8" height="0.8" fill="rgb(63,63,63)"/>
<rect x="221.8" y="237.2" width="0.9" height="0.9" fill="rgb(86,86,86)"/>
<rect x="207.6" y="221.0" width="0.7" height="0.7" fill="rgb(116,116,116)"/>
<rect x="238.9" y="224.1" width="0.9" height="0.9" fill="rgb(129,129,129)"/>
<rect x="247.8" y="216.8" width="0.9" height="0.9" fill="rgb(121,121,121)"/>
<rect x="213.1" y="200.5" width="0.9" height="0.9" fill="rgb(124,124,124)"/>
<rect x="244.1" y="198.2" width="0.8" height="0.8" fill="rgb(102,102,102)"/>
<rect x="237.6" y="199.4" width="0.8" height="0.8" fill="rgb(57,57,57)"/>
<rect x="209.2" y="206.5" width="0.9" height="0.9" fill="rgb(122,122,122)"/>
<rect x="236.2" y="198.9" width="0.7" height="0.7" fill="rgb(48,48,48)"/>
<rect x="245.9" y="213.9" width="0.8" height="0.8" fill="rgb(119,119,119)"/>
<rect x="225.4" y="240.0" width="0.9" height="0.9" fill="rgb(120,120,120)"/>
<rect x="210.1" y="228.9" width="0.8" height="0.8" fill="rgb(60,60,60)"/>
<rect x="244.1" y="205.2" width="0.8" height="0.8" fill="rgb(94,94,94)"/>
<rect x="245.4" y="204.6" width="0.9" height="0.9" fill="rgb(76,76,76)"/>
<rect x="216.0" y="231.8" width="0.8" height="0.8" fill="rgb(109,109,109)"/>
<rect x="223.9" y="240.7" width="0.8" height="0.8" fill="rgb(93,93,93)"/>
<rect x="209.3" y="221.6" width="0.9" height="0.9" fill="rgb(74,74,74)"/>
<rect x="209.1" y="202.1" width="0.8" height="0.8" fill="rgb(44,44,44)"/>
<rect x="208.5" y="211.9" width="0.8" height="0.8" fill="rgb(116,116,116)"/>
<rect x="241.4" y="198.7" width="0.8" height="0.8" fill="rgb(82,82,82)"/>
<rect x="203.5" y="211.4" width="0.7" height="0.7" fill="rgb(58,58,58)"/>
<rect x="219.8" y="236.9" width="0.8" height="0.8" fill="rgb(98,98,98)"/>
<rect x="211.4" y="200.1" width="0.9" height="0.9" fill="rgb(127,127,127)"/>
<rect x="246.3" y="211.4" width="0.9" height="0.9" fill="rgb(109,109,109)"/>
<rect x="211.2" y="222.7" width="0.7" height="0.7" fill="rgb(115,115,115)"/>
<rect x="223.4" y="239.2" width="0.8" height="0.8" fill="rgb(55,55,55)"/>
<rect x="241.2" y="222.5" width="0.8" height="0.8" fill="rgb(42,42,42)"/>
<rect x="254.5" y="211.5" width="0.7" height="0.7" fill="rgb(59,59,59)"/>
<rect x="210.4" y="223.9" width="0.8" height="0.8" fill="rgb(116,116,116)"/>
<rect x="208.8" y="204.1" width="0.9" height="0.9" fill="rgb(130,130,130)"/>
<rect x="237.4" y="196.4" width="0.7" height="0.7" fill="rgb(88,88,88)"/>
<rect x="236.9" y="234.3" width="0.9" height="0.9" fill="rgb(73,73,73)"/>
<rect x="206.3" y="212.9" width="0.9" height="0.9" fill="rgb(41,41,41)"/>
<rect x="232.5" y="238.3" width="0.9" height="0.9" fill="rgb(116,116,116)"/>
<rect x="204.9" y="199.5" width="0.9" height="0.9" fill="rgb(110,110,110)"/>
<rect x="228.2" y="193.4" width="0.9" height="0.9" fill="rgb(54,54,54)"/>
<rect x="203.4" y="216.2" width="0.7" height="0.7" fill="rgb(46,46,46)"/>
<rect x="237.4" y="227.5" width="0.9" height="0.9" fill="rgb(58,58,58)"/>
<rect x="220.5" y="242.0" width="0.7" height="0.7" fill="rgb(84,84,84)"/>
<rect x="240.4" y="222.7" width="0.8" height="0.8" fill="rgb(111,111,111)"/>
<rect x="220.6" y="196.9" width="0.7" height="0.7" fill="rgb(128,128,128)"/>
<rect x="207.4" y="218.4" width="0.8" height="0.8" fill="rgb(72,72,72)"/>
<rect x="249.2" y="208.4" width="0.8" height="0.8" fill="rgb(51,51,51)"/>
<rect x="238.8" y="199.4" width="0.9" height="0.9" fill="rgb(88,88,88)"/>
<rect x="211.4" y="234.1" width="0.8" height="0.8" fill="rgb(101,101,101)"/>
<rect x="242.4" y="227.6" width="0.8" height="0.8" fill="rgb(64,64,64)"/>
<rect x="233.8" y="233.4" width="0.9" height="0.9" fill="rgb(125,125,125)"/>
<rect x="209.4" y="221.3" width="0.9" height="0.9" fill="rgb(113,113,113)"/>
<rect x="241.9" y="226.5" width="0.9" height="0.9" fill="rgb(99,99,99)"/>
<rect x="210.3" y="225.8" width="0.7" height="0.7" fill="rgb(115,115,115)"/>
<rect x="245.6" y="201.9" width="0.7" height="0.7" fill="rgb(82,82,82)"/>
<rect x="210.8" y="218.3" width="0.8" height="0.8" fill="rgb(85,85,85)"/>
<rect x="229.3" y="236.2" width="0.9" height="0.9" fill="rgb(125,125,125)"/>
<rect x="209.1" y="207.7" width="0.9" height="0.9" fill="rgb(128,128,128)"/>
<rect x="206.4" y="199.0" width="0.7" height="0.7" fill="rgb(76,76,76)"/>
<rect x="218.4" y="193.9" width="0.8" height="0.8" fill="rgb(100,100,100)"/>
<rect x="244.9" y="196.4" width="0.9" height="0.9" fill="rgb(91,91,91)"/>
<rect x="208.4" y="211.4" width="0.9" height="0.9" fill="rgb(46,46,46)"/>
<rect x="228.9" y="193.7" width="0.8" height="0.8" fill="rgb(75,75,75)"/>
<rect x="211.2" y="225.5" width="0.7" height="0.7" fill="rgb(42,42,42)"/>
<rect x="213.0" y="228.1" width="0.9" height="0.9" fill="rgb(62,62,62)"/>
<rect x="217.5" y="238.8" width="0.9" height="0.9" fill="rgb(52,52,52)"/>
<rect x="241.6" y="229.1" width="0.8" height="0.8" fill="rgb(70,70,70)"/>
<rect x="209.2" y="210.7" width="0.8" height="0.8" fill="rgb(77,77,77)"/>
<rect x="212.0" y="231.6" width="0.8" height="0.8" fill="rgb(124,124,124)"/>
<rect x="238.2" y="230.2" width="0.7" height="0.7" fill="rgb(82,82,82)"/>
<rect x="226.6" y="195.8" width="0.7" height="0.7" fill="rgb(55,55,55)"/>
<rect x="222.0" y="194.4" width="0.9" height="0.9" fill="rgb(48,48,48)"/>
<rect x="247.3" y="199.7" width="0.8" height="0.8" fill="rgb(80,80,80)"/>
<rect x="224.9" y="239.2" width="0.8" height="0.8" fill="rgb(130,130,130)"/>
<rect x="247.2" y="208.1" width="0.8" height="0.8" fill="rgb(58,58,58)"/>
<rect x="235.1" y="233.6" width="0.8" height="0.8" fill="rgb(81,81,81)"/>
<rect x="208.4" y="207.8" width="0.8" height="0.8" fill="rgb(125,125,125)"/>
<rect x="212.4" y="223.9" width="0.9" height="0.9" fill="rgb(52,52,52)"/>
<rect x="205.4" y="207.9" width="0.7" height="0.7" fill="rgb(91,91,91)"/>
<rect x="231.4" y="233.9" width="0.9" height="0.9" fill="rgb(78,78,78)"/>
<rect x="206.8" y="215.7" width="0.7" height="0.7" fill="rgb(78,78,78)"/>
<rect x="229.5" y="239.1" width="0.8" height="0.8" fill="rgb(101,101,101)"/>
<rect x="232.7" y="233.1" width="0.9" height="0.9" fill="rgb(124,124,124)"/>
<rect x="221.4" y="240.9" width="0.8" height="0.8" fill="rgb(107,107,107)"/>
<rect x="245.3" y="205.8" width="0.9" height="0.9" fill="rgb(96,96,96)"/>
<rect x="200.3" y="203.6" width="0.9" height="0.9" fill="rgb(110,110,110)"/>
<rect x="242.0" y="223.3" width="0.7" height="0.7" fill="rgb(74,74,74)"/>
<rect x="237.1" y="226.9" width="0.7" height="0.7" fill="rgb(129,129,129)"/>
<rect x="207.2" y="211.0" width="0.7" height="0.7" fill="rgb(102,102,102)"/>
<rect x="203.7" y="198.5" width="0.7" height="0.7" fill="rgb(92,92,92)"/>
<rect x="249.6" y="201.8" width="0.9" height="0.9" fill="rgb(74,74,74)"/>
<rect x="218.9" y="244.1" width="0.9" height="0.9" fill="rgb(121,121,121)"/>
<rect x="245.2" y="204.8" width="0.8" height="0.8" fill="rgb(84,84,84)"/>
<rect x="247.5" y="205.8" width="0.8" height="0.8" fill="rgb(53,53,53)"/>
<rect x="248.0" y="215.9" width="0.7" height="0.7" fill="rgb(85,85,85)"/>
<rect x="233.5" y="197.0" width="0.9" height="0.9" fill="rgb(72,72,72)"/>
<rect x="242.9" y="198.3" width="0.9" height="0.9" fill="rgb(110,110,110)"/>
<rect x="211.7" y="232.5" width="0.9" height="0.9" fill="rgb(45,45,45)"/>
<rect x="247.9" y="214.6" width="0.8" height="0.8" fill="rgb(43,43,43)"/>
<rect x="244.1" y="200.7" width="0.7" height="0.7" fill="rgb(109,109,109)"/>
<rect x="217.4" y="237.5" width="0.8" height="0.8" fill="rgb(86,86,86)"/>
<rect x="207.3" y="202.9" width="0.8" height="0.8" fill="rgb(42,42,42)"/>
<rect x="204.8" y="225.8" width="0.7" height="0.7" fill="rgb(73,73,73)"/>
<rect x="212.8" y="226.5" width="0.9" height="0.9" fill="rgb(87,87,87)"/>
<rect x="226.8" y="196.6" width="0.9" height="0.9" fill="rgb(40,40,40)"/>
<rect x="235.2" y="196.0" width="0.8" height="0.8" fill="rgb(74,74,74)"/>
<rect x="213.4" y="231.1" width="0.7" height="0.7" fill="rgb(125,125,125)"/>
<rect x="247.7" y="197.6" width="0.8" height="0.8" fill="rgb(65,65,65)"/>
<rect x="210.3" y="199.9" width="0.8" height="0.8" fill="rgb(78,78,78)"/>
<rect x="228.0" y="236.1" width="0.7" height="0.7" fill="rgb(67,67,67)"/>
<rect x="209.9" y="217.7" width="0.8" height="0.8" fill="rgb(130,130,130)"/>
<rect x="227.8" y="237.1" width="0.7" height="0.7" fill="rgb(114,114,114)"/>
<rect x="231.0" y="236.9" width="0.9" height="0.9" fill="rgb(127,127,127)"/>
<rect x="238.5" y="228.2" width="0.8" height="0.8" fill="rgb(115,115,115)"/>
<rect x="232.4" y="196.5" width="0.7" height="0.7" fill="rgb(81,81,81)"/>
<rect x="207.4" y="216.4" width="0.8" height="0.8" fill="rgb(61,61,61)"/>
<rect x="205.2" y="202.5" width="0.7" height="0.7" fill="rgb(95,95,95)"/>
<rect x="216.5" y="198.7" width="0.9" height="0.9" fill="rgb(83,83,83)"/>
<rect x="250.2" y="211.0" width="0.8" height="0.8" fill="rgb(63,63,63)"/>
<rect x="233.3" y="232.6" width="0.9" height="0.9" fill="rgb(125,125,125)"/>
<rect x="229.4" y="238.8" width="0.9" height="0.9" fill="rgb(79,79,79)"/>
<rect x="251.6" y="215.4" width="0.9" height="0.9" fill="rgb(73,73,73)"/>
<rect x="210.3" y="215.3" width="0.9" height="0.9" fill="rgb(129,129,129)"/>
<rect x="229.1" y="236.6" width="0.9" height="0.9" fill="rgb(61,61,61)"/>
<rect x="210.7" y="219.6" width="0.7" height="0.7" fill="rgb(75,75,75)"/>
<rect x="234.7" y="234.5" width="0.7" height="0.7" fill="rgb(117,117,117)"/>
<rect x="203.1" y="214.8" width="0.8" height="0.8" fill="rgb(120,120,120)"/>
<rect x="222.9" y="240.6" width="0.9" height="0.9" fill="rgb(118,118,118)"/>
<rect x="243.2" y="227.1" width="0.9" height="0.9" fill="rgb(100,100,100)"/>
<rect x="209.6" y="212.2" width="0.8" height="0.8" fill="rgb(109,109,109)"/>
<rect x="216.6" y="198.4" width="0.7" height="0.7" fill="rgb(51,51,51)"/>
<rect x="218.2" y="238.1" width="0.9" height="0.9" fill="rgb(46,46,46)"/>
<rect x="233.2" y="195.4" width="0.7" height="0.7" fill="rgb(55,55,55)"/>
<rect x="225.4" y="195.8" width="0.9" height="0.9" fill="rgb(80,80,80)"/>
<rect x="236.1" y="193.8" width="0.8" height="0.8" fill="rgb(71,71,71)"/>
<rect x="214.3" y="235.0" width="0.9" height="0.9" fill="rgb(58,58,58)"/>
<rect x="211.9" y="227.7" width="0.7" height="0.7" fill="rgb(83,83,83)"/>
<rect x="231.5" y="195.7" width="0.9" height="0.9" fill="rgb(83,83,83)"/>
<rect x="228.9" y="195.7" width="0.7" height="0.7" fill="rgb(97,97,97)"/>
<rect x="205.5" y="199.2" width="0.7" height="0.7" fill="rgb(56,56,56)"/>
<rect x="237.6" y="226.1" width="0.9" height="0.9" fill="rgb(50,50,50)"/>
<rect x="202.1" y="207.3" width="0.9" height="0.9" fill="rgb(129,129,129)"/>
<rect x="211.2" y="233.7" width="0.7" height="0.7" fill="rgb(89,89,89)"/>
<rect x="214.8" y="240.1" width="0.7" height="0.7" fill="rgb(70,70,70)"/>
<rect x="244.1" y="223.9" width="0.9" height="0.9" fill="rgb(52,52,52)"/>
<rect x="244.5" y="213.1" width="0.8" height="0.8" fill="rgb(107,107,107)"/>
<rect x="218.5" y="236.6" width="0.9" height="0.9" fill="rgb(86,86,86)"/>
<rect x="209.6" y="202.9" width="0.9" height="0.9" fill="rgb(100,100,100)"/>
<rect x="213.0" y="228.0" width="0.9" height="0.9" fill="rgb(57,57,57)"/>
<rect x="229.7" y="195.1" width="0.8" height="0.8" fill="rgb(43,43,43)"/>
<rect x="242.9" y="202.5" width="0.8" height="0.8" fill="rgb(46,46,46)"/>
<rect x="206.2" y="223.3" width="0.9" height="0.9" fill="rgb(123,123,123)"/>
<rect x="211.9" y="229.6" width="0.9" height="0.9" fill="rgb(113,113,113)"/>
<rect x="246.9" y="211.7" width="0.8" height="0.8" fill="rgb(48,48,48)"/>
<rect x="205.5" y="213.4" width="0.9" height="0.9" fill="rgb(95,95,95)"/>
<rect x="210.8" y="229.7" width="0.7" height="0.7" fill="rgb(87,87,87)"/>
<rect x="211.5" y="228.7" width="0.8" height="0.8" fill="rgb(120,120,120)"/>
<rect x="213.7" y="228.6" width="0.7" height="0.7" fill="rgb(91,91,91)"/>
<rect x="226.3" y="237.4" width="0.8" height="0.8" fill="rgb(96,96,96)"/>
<rect x="214.0" y="196.6" width="0.9" height="0.9" fill="rgb(70,70,70)"/>
<rect x="252.1" y="203.6" width="0.7" height="0.7" fill="rgb(129,129,129)"/>
<rect x="235.7" y="229.0" width="0.7" height="0.7" fill="rgb(78,78,78)"/>
<rect x="227.1" y="237.4" width="0.7" height="0.7" fill="rgb(128,128,128)"/>
<rect x="236.3" y="235.1" width="0.8" height="0.8" fill="rgb(112,112,112)"/>
<rect x="206.7" y="212.4" width="0.9" height="0.9" fill="rgb(65,65,65)"/>
<rect x="215.6" y="232.7" width="0.7" height="0.7" fill="rgb(115,115,115)"/>
<rect x="205.1" y="220.3" width="0.9" height="0.9" fill="rgb(51,51,51)"/>
<rect x="226.3" y="197.0" width="0.8" height="0.8" fill="rgb(112,112,112)"/>
<rect x="216.6" y="235.4" width="0.7" height="0.7" fill="rgb(78,78,78)"/>
<rect x="200.9" y="210.2" width="0.9" height="0.9" fill="rgb(104,104,104)"/>
<rect x="236.7" y="193.1" width="0.7" height="0.7" fill="rgb(87,87,87)"/>
<rect x="245.9" y="200.0" width="0.9" height="0.9" fill="rgb(113,113,113)"/>
<rect x="242.1" y="201.0" width="0.9" height="0.9" fill="rgb(92,92,92)"/>
<rect x="242.7" y="195.9" width="0.9" height="0.9" fill="rgb(88,88,88)"/>
<rect x="216.5" y="240.0" width="0.8" height="0.8" fill="rgb(125,125,125)"/>
<g clip-path="url(#cl3)">
<path d="M225.7,237.9 224.9,238.0 224.2,238.1 223.4,238.1 222.7,238.0 222.0,237.9 221.2,237.7 220.4,237.4 219.7,237.2 218.9,236.7 218.2,236.2 217.6,235.7 217.1,235.2 216.4,234.4 215.9,233.7 215.5,232.9 215.2,232.3 214.8,231.4 214.4,230.7 214.2,230.0 213.8,229.2 213.5,228.4 213.2,227.7 212.8,226.9 212.5,226.2 212.2,225.4 211.8,224.7 211.5,223.9 211.2,223.2 210.9,222.4 210.7,221.7 210.4,220.9 210.2,220.2 210.0,219.4 209.8,218.7 209.7,217.9 209.5,217.2 209.4,216.4 209.2,215.7 209.1,214.9 208.9,214.2 208.8,213.4 208.6,212.7 208.4,211.9 208.3,211.2 208.2,210.4 208.1,209.7 208.0,208.9 208.0,208.2 208.1,207.4 208.2,206.7 208.4,205.9 208.7,205.2 209.1,204.4 209.5,203.7 210.1,202.9 210.7,202.3 211.3,201.7 211.9,201.2 212.6,200.7 213.4,200.2 214.2,199.7 214.9,199.3 215.7,199.0 216.4,198.7 217.2,198.4 217.9,198.1 218.7,197.9 219.4,197.7 220.2,197.4 220.9,197.3 221.7,197.1 222.4,197.0 223.2,196.8 223.9,196.7 224.7,196.6 225.4,196.5 226.2,196.5 226.9,196.4 227.7,196.4 228.4,196.4 229.2,196.4 229.9,196.4 230.7,196.5 231.4,196.5 232.2,196.7 232.9,196.9 233.7,197.1 234.4,197.4 235.2,197.7 235.9,198.0 236.7,198.3 237.4,198.6 238.1,198.9 238.9,199.2 239.7,199.6 240.4,200.0 241.2,200.5 241.9,201.0 242.6,201.7 243.2,202.1 243.7,202.7 244.2,203.3 244.7,204.1 245.1,204.9 245.4,205.7 245.6,206.4 245.7,207.2 245.8,207.9 245.8,208.7 245.7,209.4 245.6,210.2 245.5,210.9 245.4,211.7 245.2,212.4 245.0,213.2 244.7,213.9 244.5,214.7 244.2,215.4 243.9,216.1 243.5,216.9 243.2,217.7 242.8,218.4 242.4,219.0 242.0,219.7 241.5,220.4 241.2,221.0 240.7,221.7 240.2,222.4 239.7,223.2 239.2,223.9 238.7,224.7 238.3,225.4 237.9,226.1 237.5,226.9 237.1,227.7 236.7,228.4 236.3,229.2 235.9,229.9 235.4,230.7 234.9,231.4 234.4,232.2 233.9,232.8 233.4,233.4 232.9,233.9 232.4,234.4 231.9,234.9 231.2,235.4 230.7,235.8 229.9,236.3 229.2,236.7 228.4,237.1 227.7,237.4 226.9,237.6 226.2,237.8Z" fill="rgba(0,0,0,0.035)" stroke="rgb(97,97,97)" stroke-width="0.51"/>
<path d="M224.2,236.4 223.4,236.4 222.7,236.3 221.9,236.1 221.2,235.9 220.4,235.5 219.8,235.2 219.2,234.7 218.5,234.2 217.9,233.4 217.4,232.7 217.0,232.2 216.7,231.5 216.3,230.7 215.9,229.9 215.6,229.2 215.3,228.4 215.0,227.7 214.7,227.0 214.3,226.2 213.9,225.4 213.6,224.7 213.3,223.9 213.0,223.2 212.7,222.4 212.4,221.7 212.2,220.9 211.9,220.2 211.8,219.4 211.6,218.7 211.4,217.9 211.3,217.2 211.2,216.4 211.0,215.7 210.9,214.9 210.7,214.2 210.6,213.4 210.5,212.7 210.3,211.9 210.2,211.2 210.1,210.4 210.0,209.7 210.0,208.9 210.1,208.2 210.1,207.4 210.3,206.7 210.5,205.9 210.9,205.2 211.3,204.4 211.8,203.7 212.4,203.0 212.9,202.5 213.6,201.9 214.2,201.4 214.9,200.9 215.7,200.5 216.4,200.1 217.2,199.7 217.9,199.3 218.7,199.0 219.4,198.7 220.2,198.5 220.9,198.2 221.7,198.0 222.4,197.9 223.2,197.7 223.9,197.6 224.7,197.4 225.4,197.3 226.2,197.3 226.9,197.2 227.6,197.2 228.4,197.1 229.2,197.1 229.9,197.1 230.7,197.2 231.4,197.3 232.2,197.4 232.9,197.7 233.7,198.0 234.4,198.4 235.2,198.9 235.9,199.3 236.7,199.7 237.4,200.1 238.2,200.5 238.8,200.9 239.6,201.4 240.3,201.9 240.9,202.4 241.4,202.9 241.9,203.4 242.4,204.1 242.9,204.9 243.2,205.7 243.5,206.4 243.6,207.2 243.7,207.9 243.8,208.7 243.8,209.4 243.7,210.2 243.6,210.9 243.4,211.7 243.3,212.4 243.1,213.2 242.8,213.9 242.6,214.7 242.3,215.4 242.0,216.2 241.7,216.9 241.3,217.7 240.9,218.4 240.4,219.2 240.0,219.9 239.5,220.7 239.0,221.4 238.5,222.2 238.0,222.9 237.5,223.7 237.2,224.2 236.8,224.9 236.4,225.5 236.1,226.2 235.7,226.9 235.3,227.7 234.9,228.3 234.4,229.2 234.0,229.9 233.5,230.7 233.0,231.4 232.4,232.1 231.9,232.7 231.4,233.2 230.9,233.6 230.3,234.2 229.7,234.6 228.9,235.0 228.2,235.4 227.4,235.8 226.7,236.0 225.9,236.2 225.2,236.3 224.4,236.4Z" fill="rgba(0,0,0,0.035)" stroke="rgb(94,94,94)" stroke-width="0.52"/>
<path d="M225.2,234.7 224.4,234.7 223.7,234.7 222.9,234.6 222.2,234.4 221.4,234.1 220.7,233.7 220.0,233.2 219.5,232.7 218.9,231.9 218.4,231.2 217.9,230.4 217.6,229.7 217.2,228.9 216.9,228.2 216.5,227.4 216.2,226.7 215.8,225.9 215.5,225.2 215.2,224.5 214.8,223.7 214.5,222.9 214.2,222.2 213.9,221.4 213.7,220.7 213.5,219.9 213.3,219.2 213.1,218.4 213.0,217.7 212.8,216.9 212.7,216.2 212.5,215.4 212.4,214.7 212.2,213.9 212.0,213.2 211.9,212.4 211.7,211.7 211.7,210.9 211.6,210.2 211.6,209.4 211.6,208.7 211.7,207.9 211.9,207.2 212.1,206.4 212.4,205.7 212.8,204.9 213.3,204.2 213.8,203.4 214.4,202.8 215.1,202.2 215.7,201.7 216.4,201.2 217.2,200.7 217.9,200.3 218.6,199.9 219.4,199.5 220.2,199.2 220.9,199.0 221.7,198.7 222.4,198.5 223.2,198.3 223.9,198.2 224.7,198.0 225.4,197.9 226.2,197.8 226.9,197.8 227.7,197.7 228.4,197.7 229.2,197.6 229.9,197.7 230.7,197.7 231.4,197.8 232.2,198.0 232.9,198.3 233.7,198.7 234.4,199.3 235.1,199.9 235.6,200.4 236.3,200.9 236.9,201.3 237.7,201.8 238.4,202.3 239.1,202.9 239.7,203.4 240.1,203.9 240.7,204.6 241.1,205.4 241.5,206.2 241.7,206.9 241.9,207.7 242.0,208.4 242.0,209.2 241.9,209.9 241.9,210.7 241.8,211.4 241.6,212.2 241.4,212.9 241.2,213.7 241.0,214.4 240.7,215.2 240.4,215.9 240.2,216.6 239.7,217.4 239.4,218.0 238.9,218.9 238.4,219.7 238.0,220.4 237.5,221.2 237.0,221.9 236.5,222.7 236.0,223.4 235.5,224.2 235.2,224.8 234.8,225.4 234.4,226.1 234.0,226.9 233.6,227.7 233.2,228.4 232.7,229.2 232.2,229.9 231.7,230.6 231.2,231.2 230.7,231.7 230.0,232.4 229.4,232.9 228.7,233.4 227.9,233.8 227.2,234.1 226.4,234.4 225.7,234.6Z" fill="rgba(0,0,0,0.035)" stroke="rgb(90,90,90)" stroke-width="0.54"/>
<path d="M224.7,233.4 223.9,233.4 223.2,233.3 222.4,233.0 221.7,232.7 220.9,232.2 220.4,231.7 219.9,231.1 219.4,230.4 218.9,229.7 218.5,228.9 218.2,228.2 217.8,227.4 217.4,226.7 217.0,225.9 216.7,225.2 216.3,224.4 216.0,223.7 215.7,222.9 215.3,222.2 215.0,221.4 214.8,220.7 214.6,219.9 214.4,219.2 214.2,218.4 214.1,217.7 213.9,216.9 213.8,216.2 213.6,215.4 213.4,214.7 213.1,213.9 212.8,213.2 212.6,212.4 212.5,211.7 212.4,210.9 212.4,210.2 212.4,209.4 212.5,208.7 212.6,207.9 212.8,207.2 213.0,206.4 213.3,205.7 213.7,205.0 214.2,204.2 214.7,203.5 215.2,203.0 215.8,202.4 216.4,201.9 217.0,201.4 217.7,201.0 218.4,200.5 219.1,200.2 219.9,199.8 220.7,199.5 221.4,199.2 222.2,199.0 222.9,198.8 223.7,198.6 224.4,198.5 225.2,198.3 225.9,198.2 226.7,198.1 227.4,198.1 228.2,198.0 228.9,198.0 229.7,198.0 230.4,198.0 231.2,198.1 231.9,198.3 232.7,198.6 233.4,199.1 234.1,199.7 234.7,200.3 235.1,200.9 235.7,201.5 236.4,202.1 237.1,202.7 237.8,203.2 238.3,203.7 238.9,204.2 239.4,204.9 239.9,205.7 240.2,206.4 240.5,207.2 240.6,207.9 240.7,208.7 240.7,209.4 240.7,210.2 240.6,210.9 240.5,211.7 240.4,212.4 240.2,213.2 240.0,213.9 239.7,214.7 239.5,215.4 239.2,216.2 238.8,216.9 238.4,217.7 238.0,218.4 237.7,219.0 237.3,219.7 236.8,220.4 236.3,221.2 235.8,221.9 235.3,222.7 234.8,223.4 234.4,224.0 234.0,224.7 233.7,225.3 233.3,225.9 232.9,226.6 232.4,227.4 232.0,228.2 231.5,228.9 230.9,229.7 230.4,230.3 229.9,230.8 229.3,231.4 228.7,231.9 227.9,232.4 227.2,232.8 226.4,233.1 225.7,233.3 224.9,233.4Z" fill="rgba(0,0,0,0.035)" stroke="rgb(86,86,86)" stroke-width="0.55"/>
<path d="M225.9,231.7 225.2,231.8 224.4,231.9 223.7,231.8 222.9,231.5 222.2,231.2 221.5,230.7 221.0,230.2 220.4,229.4 219.9,228.7 219.5,227.9 219.0,227.2 218.7,226.4 218.2,225.7 217.9,225.0 217.5,224.2 217.2,223.5 216.7,222.7 216.4,221.9 216.2,221.2 215.9,220.4 215.7,219.7 215.5,218.9 215.3,218.2 215.2,217.4 215.0,216.7 214.8,215.9 214.5,215.2 214.2,214.4 213.8,213.7 213.4,212.9 213.2,212.2 213.0,211.4 213.0,210.7 213.0,209.9 213.0,209.2 213.2,208.4 213.3,207.7 213.5,206.9 213.8,206.2 214.1,205.4 214.5,204.7 215.1,203.9 215.7,203.2 216.2,202.7 216.8,202.2 217.4,201.7 218.2,201.2 218.9,200.7 219.7,200.3 220.4,200.0 221.2,199.7 221.9,199.5 222.7,199.2 223.4,199.0 224.2,198.9 224.9,198.7 225.7,198.6 226.4,198.5 227.2,198.4 227.9,198.4 228.7,198.3 229.4,198.3 230.2,198.4 230.9,198.5 231.7,198.6 232.3,198.9 233.1,199.4 233.7,199.9 234.2,200.5 234.6,201.2 235.0,201.9 235.6,202.7 236.1,203.2 236.6,203.7 237.2,204.2 237.9,204.9 238.4,205.6 238.8,206.4 239.1,207.2 239.3,207.9 239.4,208.6 239.5,209.4 239.4,210.2 239.4,210.9 239.3,211.7 239.1,212.4 239.0,213.2 238.8,213.9 238.5,214.7 238.3,215.4 237.9,216.2 237.7,216.8 237.2,217.7 236.8,218.4 236.4,219.1 236.0,219.7 235.5,220.4 235.0,221.2 234.5,221.9 234.0,222.7 233.5,223.4 233.0,224.2 232.5,224.9 232.2,225.5 231.8,226.2 231.4,226.8 231.0,227.4 230.5,228.2 229.9,228.9 229.4,229.5 228.9,230.0 228.2,230.6 227.4,231.1 226.7,231.4 226.1,231.7Z" fill="rgba(0,0,0,0.035)" stroke="rgb(80,80,80)" stroke-width="0.57"/>
<path d="M225.7,229.9 224.9,230.0 224.2,230.0 223.4,229.7 222.7,229.3 221.9,228.7 221.4,228.2 220.9,227.5 220.4,226.7 220.0,226.2 219.6,225.4 219.2,224.7 218.7,223.9 218.3,223.2 217.9,222.4 217.6,221.7 217.3,220.9 217.0,220.2 216.8,219.4 216.6,218.7 216.4,217.9 216.3,217.2 216.1,216.4 215.8,215.7 215.4,214.9 214.9,214.2 214.4,213.5 214.0,212.9 213.7,212.2 213.5,211.4 213.5,210.7 213.5,209.9 213.5,209.2 213.7,208.4 213.8,207.7 214.0,206.9 214.3,206.2 214.7,205.4 215.1,204.7 215.6,203.9 216.2,203.3 216.9,202.7 217.5,202.2 218.2,201.7 218.9,201.2 219.7,200.7 220.4,200.4 221.2,200.1 221.9,199.8 222.7,199.6 223.4,199.4 224.2,199.2 224.9,199.1 225.7,198.9 226.4,198.8 227.2,198.8 227.9,198.7 228.7,198.7 229.4,198.7 230.2,198.7 230.9,198.8 231.7,199.0 232.4,199.4 233.1,199.9 233.7,200.6 234.1,201.4 234.4,202.2 234.7,202.9 235.1,203.7 235.7,204.2 236.2,204.8 236.7,205.3 237.1,205.9 237.5,206.7 237.8,207.4 238.0,208.2 238.1,208.9 238.2,209.7 238.2,210.4 238.1,211.2 238.0,211.9 237.9,212.7 237.7,213.4 237.5,214.2 237.2,214.9 236.9,215.7 236.7,216.3 236.3,217.2 235.9,217.8 235.4,218.7 234.9,219.4 234.4,220.2 233.9,220.9 233.4,221.6 232.9,222.3 232.4,223.1 232.0,223.7 231.5,224.4 231.0,225.2 230.4,225.9 229.9,226.6 229.4,227.3 228.9,227.9 228.4,228.4 227.8,228.9 227.2,229.3 226.4,229.7 225.7,229.9Z" fill="rgba(0,0,0,0.035)" stroke="rgb(74,74,74)" stroke-width="0.59"/>
<path d="M225.9,227.7 225.2,227.8 224.4,227.8 223.7,227.5 223.0,227.2 222.4,226.7 221.9,226.2 221.4,225.6 220.9,224.9 220.4,224.2 219.9,223.5 219.4,222.7 219.0,221.9 218.7,221.2 218.3,220.4 218.1,219.7 217.8,218.9 217.7,218.2 217.5,217.4 217.3,216.7 217.2,216.0 216.7,215.2 216.2,214.5 215.5,213.9 214.9,213.3 214.5,212.7 214.2,212.0 213.9,211.2 213.9,210.4 213.9,209.7 214.0,208.9 214.1,208.2 214.3,207.4 214.6,206.7 214.9,205.9 215.3,205.2 215.7,204.6 216.2,203.9 216.6,203.4 217.2,202.9 217.8,202.4 218.4,201.9 219.2,201.4 219.9,201.0 220.6,200.7 221.4,200.3 222.2,200.1 222.9,199.9 223.7,199.7 224.4,199.5 225.2,199.4 225.9,199.2 226.7,199.1 227.4,199.1 228.2,199.0 228.9,199.0 229.7,199.0 230.4,199.1 231.2,199.2 231.9,199.5 232.5,199.9 233.0,200.4 233.4,201.1 233.7,201.7 233.8,202.7 233.9,203.4 234.2,204.2 234.7,204.8 235.1,205.4 235.7,206.0 236.1,206.7 236.4,207.3 236.7,208.1 236.8,208.9 236.9,209.7 236.9,210.4 236.9,211.2 236.8,211.9 236.7,212.6 236.5,213.4 236.3,214.2 236.0,214.9 235.7,215.7 235.4,216.4 235.0,217.2 234.7,217.8 234.2,218.7 233.7,219.4 233.2,220.1 232.7,220.8 232.2,221.4 231.7,222.2 231.2,222.8 230.7,223.4 230.2,224.1 229.7,224.7 229.2,225.3 228.7,225.8 228.2,226.3 227.5,226.9 226.7,227.4 225.9,227.7Z" fill="rgba(0,0,0,0.035)" stroke="rgb(66,66,66)" stroke-width="0.62"/>
<path d="M225.7,225.4 224.9,225.5 224.2,225.3 223.4,225.0 222.7,224.4 222.1,223.9 221.4,223.2 220.9,222.5 220.5,221.9 220.1,221.2 219.7,220.4 219.4,219.8 219.2,219.1 218.9,218.2 218.7,217.4 218.5,216.7 218.4,215.9 218.2,215.2 217.7,214.7 217.2,214.2 216.4,213.8 215.8,213.4 215.2,212.9 214.7,212.2 214.4,211.4 214.3,210.7 214.3,209.9 214.3,209.2 214.5,208.4 214.7,207.7 214.9,206.9 215.2,206.2 215.6,205.4 216.0,204.7 216.7,203.9 217.2,203.4 217.7,202.9 218.4,202.4 219.1,201.9 219.9,201.4 220.7,201.0 221.4,200.7 222.2,200.4 222.9,200.2 223.7,200.0 224.4,199.8 225.2,199.7 225.9,199.5 226.7,199.4 227.4,199.4 228.2,199.3 228.9,199.3 229.7,199.3 230.4,199.4 231.2,199.6 231.9,199.9 232.5,200.4 232.9,201.0 233.2,201.8 233.2,202.7 233.2,203.4 233.1,204.2 233.3,204.9 233.7,205.5 234.2,206.1 234.7,206.8 235.1,207.7 235.4,208.4 235.5,209.2 235.6,209.9 235.6,210.7 235.6,211.4 235.5,212.2 235.4,212.9 235.2,213.7 235.0,214.4 234.7,215.2 234.4,215.9 234.0,216.7 233.7,217.4 233.2,218.2 232.7,218.9 232.2,219.7 231.7,220.3 231.2,220.9 230.7,221.5 230.2,222.1 229.7,222.6 229.2,223.2 228.7,223.6 228.1,224.2 227.4,224.7 226.7,225.1 225.9,225.4Z" fill="rgba(0,0,0,0.035)" stroke="rgb(56,56,56)" stroke-width="0.66"/>
<path d="M225.9,223.2 225.2,223.2 224.4,223.1 223.7,222.8 223.0,222.4 222.4,221.9 221.9,221.3 221.4,220.7 220.9,219.9 220.6,219.2 220.3,218.4 220.1,217.7 219.9,217.0 219.7,216.2 219.6,215.4 219.4,214.7 218.9,213.9 218.2,213.6 217.4,213.5 216.7,213.3 216.0,212.9 215.4,212.4 214.9,211.7 214.7,210.9 214.6,210.2 214.7,209.4 214.8,208.7 215.0,207.9 215.2,207.2 215.5,206.4 215.8,205.7 216.3,204.9 216.9,204.2 217.4,203.7 218.0,203.2 218.6,202.7 219.3,202.2 219.9,201.8 220.6,201.4 221.4,201.0 222.2,200.7 222.9,200.5 223.7,200.3 224.4,200.1 225.2,200.0 225.9,199.8 226.7,199.8 227.4,199.7 228.2,199.6 228.9,199.6 229.7,199.6 230.4,199.7 231.2,199.9 231.9,200.4 232.4,201.0 232.7,201.7 232.7,202.4 232.5,203.2 232.2,203.9 231.9,204.7 232.0,205.4 232.4,206.1 232.9,206.7 233.4,207.4 233.8,208.2 234.1,208.9 234.2,209.7 234.3,210.4 234.3,211.2 234.2,211.9 234.1,212.7 234.0,213.4 233.8,214.2 233.5,214.9 233.2,215.7 232.9,216.3 232.4,217.2 232.0,217.9 231.4,218.7 230.9,219.3 230.4,219.9 229.9,220.5 229.4,221.0 228.7,221.7 228.0,222.2 227.4,222.6 226.8,222.9 226.0,223.2Z" fill="rgba(0,0,0,0.035)" stroke="rgb(45,45,45)" stroke-width="0.70"/>
<path d="M226.4,221.0 225.7,221.1 224.9,221.0 224.2,220.8 223.5,220.4 222.9,219.9 222.4,219.2 222.0,218.7 221.7,217.9 221.4,217.2 221.2,216.4 221.1,215.7 220.9,214.9 220.8,214.2 220.7,213.4 220.5,212.7 219.7,212.3 218.9,212.5 218.2,212.7 217.4,212.8 216.7,212.7 215.9,212.2 215.4,211.7 215.1,210.9 215.0,210.2 215.0,209.4 215.1,208.7 215.3,207.9 215.6,207.2 215.8,206.4 216.2,205.7 216.7,205.0 217.2,204.4 217.7,203.9 218.2,203.4 218.8,202.9 219.4,202.5 220.2,202.0 220.8,201.7 221.7,201.3 222.4,201.0 223.2,200.8 223.9,200.6 224.7,200.4 225.4,200.2 226.2,200.1 226.9,200.0 227.7,200.0 228.4,199.9 229.2,199.9 229.9,200.0 230.6,200.2 231.4,200.5 231.9,201.0 232.2,201.9 232.1,202.7 231.7,203.4 231.2,204.1 230.5,204.7 230.0,205.4 230.3,206.2 230.8,206.7 231.3,207.2 231.9,207.8 232.4,208.7 232.6,209.4 232.8,210.2 232.8,210.9 232.8,211.7 232.8,212.4 232.6,213.2 232.4,213.9 232.2,214.7 231.9,215.4 231.5,216.2 231.2,216.8 230.8,217.4 230.2,218.2 229.7,218.8 229.2,219.3 228.4,219.9 227.7,220.4 226.9,220.8Z" fill="rgba(0,0,0,0.035)" stroke="rgb(33,33,33)" stroke-width="0.74"/>
<path d="M217.7,212.2 216.9,212.2 216.2,211.9 215.7,211.2 215.4,210.5 215.4,209.7 215.4,208.9 215.6,208.2 215.8,207.4 216.1,206.7 216.4,206.0 216.8,205.4 217.4,204.7 217.9,204.2 218.4,203.7 219.0,203.2 219.7,202.7 220.4,202.2 221.2,201.8 221.9,201.5 222.7,201.2 223.4,201.0 224.2,200.8 224.9,200.6 225.7,200.5 226.4,200.4 227.2,200.3 227.9,200.3 228.7,200.2 229.4,200.3 230.2,200.4 230.9,200.7 231.4,201.2 231.7,201.9 231.5,202.7 231.0,203.4 230.2,203.9 229.4,204.3 228.7,204.6 227.9,204.9 227.2,205.2 226.4,205.6 225.7,205.9 224.9,206.3 224.2,206.4 223.4,206.5 222.7,206.7 221.9,207.0 221.2,207.7 220.7,208.4 220.4,209.0 220.0,209.9 219.7,210.6 219.2,211.2 218.7,211.7 217.9,212.1Z" fill="rgba(0,0,0,0.035)" stroke="rgb(32,32,32)" stroke-width="0.79"/>
<path d="M226.4,218.9 225.7,219.0 224.9,218.8 224.2,218.4 223.7,217.9 223.2,217.2 222.8,216.4 222.6,215.7 222.5,214.9 222.4,214.2 222.3,213.4 222.3,212.7 222.3,211.9 222.3,211.2 222.4,210.4 222.6,209.7 222.9,209.0 223.4,208.2 223.9,207.7 224.4,207.2 225.2,206.7 225.9,206.6 226.7,206.7 227.4,206.8 228.2,207.0 228.9,207.3 229.7,207.8 230.3,208.4 230.8,209.2 231.1,209.9 231.3,210.7 231.3,211.4 231.3,212.2 231.2,212.9 231.0,213.7 230.8,214.4 230.5,215.2 230.1,215.9 229.7,216.5 229.2,217.1 228.7,217.7 228.1,218.2 227.4,218.6 226.7,218.9Z" fill="rgba(0,0,0,0.035)" stroke="rgb(32,32,32)" stroke-width="0.79"/>
<path d="M217.9,211.4 217.2,211.6 216.4,211.4 215.9,210.7 215.7,209.9 215.8,209.2 215.9,208.4 216.1,207.7 216.4,206.9 216.7,206.2 217.2,205.5 217.6,204.9 218.1,204.4 218.7,203.9 219.3,203.4 219.9,202.9 220.7,202.4 221.4,202.0 222.2,201.7 222.9,201.5 223.7,201.2 224.4,201.1 225.2,200.9 225.9,200.8 226.7,200.7 227.4,200.6 228.2,200.6 228.9,200.6 229.7,200.7 230.4,200.9 231.0,201.4 231.1,202.2 230.7,202.9 229.9,203.4 229.2,203.7 228.4,203.9 227.7,204.1 226.9,204.3 226.2,204.6 225.4,204.8 224.7,205.0 223.9,205.3 223.2,205.5 222.4,205.8 221.7,206.1 220.9,206.7 220.4,207.3 220.0,207.9 219.7,208.7 219.4,209.4 219.0,210.2 218.7,210.8 218.2,211.3Z" fill="rgba(0,0,0,0.035)" stroke="rgb(32,32,32)" stroke-width="0.80"/>
<path d="M226.9,215.9 226.2,216.0 225.4,215.7 224.9,215.1 224.6,214.4 224.5,213.7 224.4,212.9 224.4,212.2 224.5,211.4 224.8,210.7 225.2,210.0 225.9,209.4 226.7,209.2 227.4,209.3 228.2,209.6 228.7,210.1 229.0,210.9 229.2,211.6 229.2,212.3 229.0,213.2 228.8,213.9 228.4,214.6 227.9,215.2 227.2,215.8Z" fill="rgba(0,0,0,0.035)" stroke="rgb(32,32,32)" stroke-width="0.80"/>
<path d="M217.4,211.0 216.7,210.8 216.2,210.2 216.1,209.4 216.2,208.7 216.4,207.9 216.7,207.2 217.0,206.4 217.4,205.8 217.9,205.2 218.4,204.7 219.0,204.2 219.6,203.7 220.3,203.2 220.9,202.7 221.7,202.3 222.4,202.0 223.2,201.7 223.9,201.5 224.7,201.3 225.4,201.2 226.2,201.1 226.9,201.0 227.7,201.0 228.4,201.0 229.2,201.0 229.9,201.2 230.4,201.8 230.2,202.5 229.4,203.0 228.7,203.3 227.9,203.5 227.2,203.7 226.4,203.9 225.7,204.1 224.9,204.3 224.2,204.6 223.4,204.8 222.7,205.0 221.9,205.3 221.2,205.7 220.5,206.2 219.9,206.9 219.5,207.7 219.2,208.4 218.9,209.1 218.5,209.9 218.0,210.7Z" fill="rgba(0,0,0,0.035)" stroke="rgb(32,32,32)" stroke-width="0.80"/>
<path d="M217.7,210.0 216.9,210.0 216.7,209.2 216.8,208.4 217.0,207.7 217.3,206.9 217.7,206.3 218.2,205.7 218.7,205.2 219.3,204.7 219.9,204.2 220.4,203.7 221.0,203.2 221.7,202.8 222.4,202.4 223.1,202.2 223.9,201.9 224.7,201.7 225.4,201.6 226.2,201.5 226.9,201.5 227.7,201.5 228.4,201.5 229.2,201.8 228.7,202.6 227.9,202.8 227.2,203.1 226.4,203.3 225.7,203.5 224.9,203.8 224.2,204.0 223.4,204.2 222.7,204.5 221.9,204.7 221.2,205.0 220.4,205.4 219.8,205.9 219.4,206.5 219.1,207.2 218.8,207.9 218.5,208.7 218.2,209.4 217.7,210.0Z" fill="rgba(0,0,0,0.035)" stroke="rgb(32,32,32)" stroke-width="0.80"/>
</g>
<line x1="211.9" y1="183.4" x2="211.9" y2="244.2" stroke="#888" stroke-width="0.8" />
<line x1="197.9" y1="224" x2="259.3" y2="224" stroke="#888" stroke-width="0.8" />
<rect x="197.9" y="183.4" width="61.4" height="60.79999999999998" fill="none" stroke="#999" stroke-width="0.9"/>
<text x="198.6" y="188.0" font-size="4.3" font-weight="normal" text-anchor="start" fill="#222" >1.1</text>
<text x="258.7" y="188.0" font-size="4.3" font-weight="normal" text-anchor="end" fill="#222" >86.3</text>
<text x="198.6" y="243.29999999999998" font-size="4.3" font-weight="normal" text-anchor="start" fill="#222" >0.66</text>
<text x="258.7" y="243.29999999999998" font-size="4.3" font-weight="normal" text-anchor="end" fill="#222" >11.3</text>
<text x="198.4" y="250.3" font-size="3.4" text-anchor="middle" fill="#555">10<tspan font-size="2.6" dy="-1.2">0</tspan></text>
<text x="213.8" y="250.3" font-size="3.4" text-anchor="middle" fill="#555">10<tspan font-size="2.6" dy="-1.2">1</tspan></text>
<text x="229.1" y="250.3" font-size="3.4" text-anchor="middle" fill="#555">10<tspan font-size="2.6" dy="-1.2">2</tspan></text>
<text x="244.4" y="250.3" font-size="3.4" text-anchor="middle" fill="#555">10<tspan font-size="2.6" dy="-1.2">3</tspan></text>
<text x="259.8" y="250.3" font-size="3.4" text-anchor="middle" fill="#555">10<tspan font-size="2.6" dy="-1.2">4</tspan></text>
<clipPath id="cl4"><rect x="259.1" y="183.4" width="61.4" height="60.79999999999998"/></clipPath>
<rect x="289.7" y="232.4" width="0.7" height="0.7" fill="rgb(42,42,42)"/>
<rect x="282.1" y="203.6" width="0.8" height="0.8" fill="rgb(69,69,69)"/>
<rect x="281.9" y="220.5" width="0.7" height="0.7" fill="rgb(82,82,82)"/>
<rect x="284.1" y="229.3" width="0.7" height="0.7" fill="rgb(56,56,56)"/>
<rect x="300.3" y="226.4" width="0.7" height="0.7" fill="rgb(61,61,61)"/>
<rect x="282.1" y="233.9" width="0.7" height="0.7" fill="rgb(58,58,58)"/>
<rect x="289.4" y="232.6" width="0.9" height="0.9" fill="rgb(49,49,49)"/>
<rect x="290.5" y="233.7" width="0.8" height="0.8" fill="rgb(82,82,82)"/>
<rect x="292.1" y="193.7" width="0.7" height="0.7" fill="rgb(122,122,122)"/>
<rect x="307.1" y="211.7" width="0.9" height="0.9" fill="rgb(65,65,65)"/>
<rect x="279.2" y="214.1" width="0.8" height="0.8" fill="rgb(72,72,72)"/>
<rect x="300.7" y="194.9" width="0.9" height="0.9" fill="rgb(81,81,81)"/>
<rect x="288.2" y="192.5" width="0.9" height="0.9" fill="rgb(61,61,61)"/>
<rect x="296.9" y="231.4" width="0.8" height="0.8" fill="rgb(78,78,78)"/>
<rect x="294.6" y="236.6" width="0.8" height="0.8" fill="rgb(45,45,45)"/>
<rect x="286.1" y="229.5" width="0.9" height="0.9" fill="rgb(97,97,97)"/>
<rect x="280.6" y="205.2" width="0.8" height="0.8" fill="rgb(71,71,71)"/>
<rect x="299.2" y="226.1" width="0.9" height="0.9" fill="rgb(63,63,63)"/>
<rect x="307.5" y="204.6" width="0.7" height="0.7" fill="rgb(45,45,45)"/>
<rect x="285.7" y="227.4" width="0.9" height="0.9" fill="rgb(44,44,44)"/>
<rect x="309.6" y="203.4" width="0.7" height="0.7" fill="rgb(55,55,55)"/>
<rect x="280.8" y="229.5" width="0.9" height="0.9" fill="rgb(72,72,72)"/>
<rect x="290.7" y="237.5" width="0.8" height="0.8" fill="rgb(93,93,93)"/>
<rect x="295.4" y="237.1" width="0.8" height="0.8" fill="rgb(49,49,49)"/>
<rect x="292.1" y="232.9" width="0.9" height="0.9" fill="rgb(119,119,119)"/>
<rect x="295.1" y="233.7" width="0.7" height="0.7" fill="rgb(65,65,65)"/>
<rect x="281.1" y="225.9" width="0.9" height="0.9" fill="rgb(45,45,45)"/>
<rect x="304.9" y="217.6" width="0.8" height="0.8" fill="rgb(125,125,125)"/>
<rect x="301.4" y="234.2" width="0.8" height="0.8" fill="rgb(110,110,110)"/>
<rect x="287.9" y="195.9" width="0.7" height="0.7" fill="rgb(120,120,120)"/>
<rect x="307.0" y="208.2" width="0.7" height="0.7" fill="rgb(68,68,68)"/>
<rect x="304.1" y="220.9" width="0.9" height="0.9" fill="rgb(62,62,62)"/>
<rect x="303.9" y="213.6" width="0.7" height="0.7" fill="rgb(63,63,63)"/>
<rect x="299.8" y="229.7" width="0.8" height="0.8" fill="rgb(108,108,108)"/>
<rect x="307.5" y="199.5" width="0.7" height="0.7" fill="rgb(44,44,44)"/>
<rect x="294.0" y="194.9" width="0.7" height="0.7" fill="rgb(99,99,99)"/>
<rect x="287.1" y="196.7" width="0.9" height="0.9" fill="rgb(67,67,67)"/>
<rect x="290.8" y="235.6" width="0.7" height="0.7" fill="rgb(96,96,96)"/>
<rect x="284.1" y="197.3" width="0.7" height="0.7" fill="rgb(47,47,47)"/>
<rect x="303.2" y="200.9" width="0.7" height="0.7" fill="rgb(49,49,49)"/>
<rect x="281.2" y="208.6" width="0.9" height="0.9" fill="rgb(56,56,56)"/>
<rect x="300.7" y="221.7" width="0.7" height="0.7" fill="rgb(71,71,71)"/>
<rect x="302.5" y="229.6" width="0.8" height="0.8" fill="rgb(49,49,49)"/>
<rect x="288.4" y="195.6" width="0.9" height="0.9" fill="rgb(119,119,119)"/>
<rect x="285.2" y="234.2" width="0.9" height="0.9" fill="rgb(93,93,93)"/>
<rect x="298.1" y="228.9" width="0.8" height="0.8" fill="rgb(110,110,110)"/>
<rect x="281.3" y="205.9" width="0.7" height="0.7" fill="rgb(108,108,108)"/>
<rect x="307.5" y="199.3" width="0.8" height="0.8" fill="rgb(95,95,95)"/>
<rect x="303.1" y="220.0" width="0.9" height="0.9" fill="rgb(43,43,43)"/>
<rect x="282.8" y="220.0" width="0.9" height="0.9" fill="rgb(43,43,43)"/>
<rect x="304.2" y="202.8" width="0.9" height="0.9" fill="rgb(102,102,102)"/>
<rect x="301.8" y="198.2" width="0.9" height="0.9" fill="rgb(120,120,120)"/>
<rect x="284.1" y="229.1" width="0.9" height="0.9" fill="rgb(42,42,42)"/>
<rect x="303.4" y="223.9" width="0.8" height="0.8" fill="rgb(43,43,43)"/>
<rect x="280.6" y="230.6" width="0.7" height="0.7" fill="rgb(42,42,42)"/>
<rect x="283.2" y="200.4" width="0.8" height="0.8" fill="rgb(102,102,102)"/>
<rect x="280.6" y="227.2" width="0.7" height="0.7" fill="rgb(55,55,55)"/>
<rect x="299.2" y="195.1" width="0.9" height="0.9" fill="rgb(64,64,64)"/>
<rect x="299.4" y="192.5" width="0.9" height="0.9" fill="rgb(71,71,71)"/>
<rect x="284.2" y="198.6" width="0.9" height="0.9" fill="rgb(51,51,51)"/>
<rect x="302.4" y="229.2" width="0.8" height="0.8" fill="rgb(123,123,123)"/>
<rect x="304.4" y="217.2" width="0.9" height="0.9" fill="rgb(53,53,53)"/>
<rect x="280.1" y="221.6" width="0.9" height="0.9" fill="rgb(61,61,61)"/>
<rect x="306.8" y="219.7" width="0.9" height="0.9" fill="rgb(49,49,49)"/>
<rect x="280.7" y="222.7" width="0.8" height="0.8" fill="rgb(41,41,41)"/>
<rect x="306.6" y="205.9" width="0.7" height="0.7" fill="rgb(128,128,128)"/>
<rect x="298.8" y="226.7" width="0.8" height="0.8" fill="rgb(60,60,60)"/>
<rect x="293.5" y="193.2" width="0.9" height="0.9" fill="rgb(82,82,82)"/>
<rect x="281.1" y="208.8" width="0.7" height="0.7" fill="rgb(62,62,62)"/>
<rect x="296.1" y="194.8" width="0.7" height="0.7" fill="rgb(50,50,50)"/>
<rect x="285.9" y="197.1" width="0.7" height="0.7" fill="rgb(67,67,67)"/>
<rect x="295.8" y="233.3" width="0.9" height="0.9" fill="rgb(71,71,71)"/>
<rect x="280.2" y="220.6" width="0.7" height="0.7" fill="rgb(128,128,128)"/>
<rect x="287.1" y="230.0" width="0.9" height="0.9" fill="rgb(65,65,65)"/>
<rect x="303.0" y="220.8" width="0.8" height="0.8" fill="rgb(46,46,46)"/>
<rect x="302.5" y="218.9" width="0.9" height="0.9" fill="rgb(104,104,104)"/>
<rect x="283.9" y="230.3" width="0.9" height="0.9" fill="rgb(69,69,69)"/>
<rect x="283.3" y="221.6" width="0.7" height="0.7" fill="rgb(107,107,107)"/>
<rect x="303.1" y="215.9" width="0.7" height="0.7" fill="rgb(101,101,101)"/>
<rect x="281.7" y="218.4" width="0.8" height="0.8" fill="rgb(130,130,130)"/>
<rect x="306.6" y="218.5" width="0.7" height="0.7" fill="rgb(41,41,41)"/>
<rect x="306.6" y="206.5" width="0.9" height="0.9" fill="rgb(77,77,77)"/>
<rect x="303.3" y="223.6" width="0.8" height="0.8" fill="rgb(51,51,51)"/>
<rect x="282.2" y="210.4" width="0.9" height="0.9" fill="rgb(68,68,68)"/>
<rect x="280.4" y="223.7" width="0.7" height="0.7" fill="rgb(49,49,49)"/>
<rect x="278.6" y="214.6" width="0.7" height="0.7" fill="rgb(103,103,103)"/>
<rect x="302.2" y="228.0" width="0.7" height="0.7" fill="rgb(90,90,90)"/>
<rect x="280.0" y="225.5" width="0.9" height="0.9" fill="rgb(88,88,88)"/>
<rect x="295.2" y="194.1" width="0.8" height="0.8" fill="rgb(118,118,118)"/>
<rect x="302.5" y="229.3" width="0.7" height="0.7" fill="rgb(75,75,75)"/>
<rect x="298.1" y="233.1" width="0.7" height="0.7" fill="rgb(105,105,105)"/>
<rect x="281.9" y="206.3" width="0.8" height="0.8" fill="rgb(104,104,104)"/>
<rect x="303.7" y="226.9" width="0.9" height="0.9" fill="rgb(45,45,45)"/>
<rect x="295.5" y="231.6" width="0.8" height="0.8" fill="rgb(60,60,60)"/>
<rect x="279.1" y="214.9" width="0.7" height="0.7" fill="rgb(41,41,41)"/>
<rect x="299.6" y="196.7" width="0.8" height="0.8" fill="rgb(111,111,111)"/>
<rect x="300.1" y="227.4" width="0.7" height="0.7" fill="rgb(94,94,94)"/>
<rect x="296.9" y="231.4" width="0.8" height="0.8" fill="rgb(73,73,73)"/>
<rect x="281.9" y="205.2" width="0.8" height="0.8" fill="rgb(107,107,107)"/>
<rect x="281.7" y="200.5" width="0.9" height="0.9" fill="rgb(44,44,44)"/>
<rect x="284.6" y="228.6" width="0.7" height="0.7" fill="rgb(62,62,62)"/>
<rect x="304.7" y="216.2" width="0.8" height="0.8" fill="rgb(61,61,61)"/>
<rect x="294.9" y="193.0" width="0.8" height="0.8" fill="rgb(55,55,55)"/>
<rect x="279.2" y="199.5" width="0.7" height="0.7" fill="rgb(127,127,127)"/>
<rect x="309.0" y="200.1" width="0.8" height="0.8" fill="rgb(126,126,126)"/>
<rect x="302.5" y="219.6" width="0.7" height="0.7" fill="rgb(41,41,41)"/>
<rect x="304.4" y="218.2" width="0.8" height="0.8" fill="rgb(96,96,96)"/>
<rect x="276.8" y="215.9" width="0.7" height="0.7" fill="rgb(55,55,55)"/>
<rect x="304.9" y="206.5" width="0.8" height="0.8" fill="rgb(109,109,109)"/>
<rect x="281.9" y="209.2" width="0.8" height="0.8" fill="rgb(53,53,53)"/>
<rect x="282.5" y="215.1" width="0.9" height="0.9" fill="rgb(70,70,70)"/>
<rect x="306.8" y="218.5" width="0.8" height="0.8" fill="rgb(48,48,48)"/>
<rect x="279.6" y="218.8" width="0.8" height="0.8" fill="rgb(52,52,52)"/>
<rect x="299.0" y="226.5" width="0.8" height="0.8" fill="rgb(80,80,80)"/>
<rect x="293.0" y="238.3" width="0.8" height="0.8" fill="rgb(96,96,96)"/>
<rect x="303.6" y="228.1" width="0.9" height="0.9" fill="rgb(104,104,104)"/>
<rect x="281.2" y="214.4" width="0.9" height="0.9" fill="rgb(66,66,66)"/>
<rect x="295.4" y="236.5" width="0.7" height="0.7" fill="rgb(69,69,69)"/>
<rect x="284.4" y="197.0" width="0.8" height="0.8" fill="rgb(112,112,112)"/>
<rect x="291.4" y="235.0" width="0.7" height="0.7" fill="rgb(60,60,60)"/>
<rect x="303.4" y="214.9" width="0.8" height="0.8" fill="rgb(114,114,114)"/>
<rect x="305.3" y="214.1" width="0.9" height="0.9" fill="rgb(58,58,58)"/>
<rect x="282.9" y="232.3" width="0.8" height="0.8" fill="rgb(94,94,94)"/>
<rect x="282.8" y="221.1" width="0.7" height="0.7" fill="rgb(114,114,114)"/>
<rect x="286.6" y="231.1" width="0.7" height="0.7" fill="rgb(66,66,66)"/>
<rect x="305.1" y="208.0" width="0.9" height="0.9" fill="rgb(52,52,52)"/>
<rect x="303.1" y="218.0" width="0.9" height="0.9" fill="rgb(86,86,86)"/>
<rect x="303.8" y="223.0" width="0.7" height="0.7" fill="rgb(58,58,58)"/>
<rect x="283.3" y="201.3" width="0.9" height="0.9" fill="rgb(70,70,70)"/>
<rect x="299.9" y="228.6" width="0.8" height="0.8" fill="rgb(44,44,44)"/>
<rect x="299.4" y="197.8" width="0.7" height="0.7" fill="rgb(56,56,56)"/>
<rect x="285.1" y="197.0" width="0.8" height="0.8" fill="rgb(40,40,40)"/>
<rect x="308.7" y="202.8" width="0.9" height="0.9" fill="rgb(126,126,126)"/>
<rect x="297.1" y="230.4" width="0.7" height="0.7" fill="rgb(99,99,99)"/>
<rect x="278.7" y="213.8" width="0.7" height="0.7" fill="rgb(66,66,66)"/>
<rect x="302.1" y="193.9" width="0.8" height="0.8" fill="rgb(111,111,111)"/>
<rect x="284.1" y="199.9" width="0.7" height="0.7" fill="rgb(62,62,62)"/>
<rect x="304.0" y="218.5" width="0.8" height="0.8" fill="rgb(130,130,130)"/>
<rect x="291.9" y="195.2" width="0.9" height="0.9" fill="rgb(109,109,109)"/>
<rect x="281.2" y="205.5" width="0.7" height="0.7" fill="rgb(44,44,44)"/>
<rect x="306.6" y="200.0" width="0.7" height="0.7" fill="rgb(93,93,93)"/>
<rect x="283.3" y="225.1" width="0.9" height="0.9" fill="rgb(117,117,117)"/>
<rect x="304.1" y="197.1" width="0.7" height="0.7" fill="rgb(71,71,71)"/>
<rect x="307.6" y="208.3" width="0.8" height="0.8" fill="rgb(93,93,93)"/>
<rect x="282.4" y="212.4" width="0.9" height="0.9" fill="rgb(71,71,71)"/>
<rect x="290.9" y="233.3" width="0.7" height="0.7" fill="rgb(123,123,123)"/>
<rect x="307.5" y="210.1" width="0.7" height="0.7" fill="rgb(106,106,106)"/>
<rect x="299.5" y="197.3" width="0.9" height="0.9" fill="rgb(55,55,55)"/>
<rect x="304.1" y="210.7" width="0.8" height="0.8" fill="rgb(126,126,126)"/>
<rect x="278.3" y="208.6" width="0.8" height="0.8" fill="rgb(100,100,100)"/>
<rect x="303.3" y="218.5" width="0.9" height="0.9" fill="rgb(95,95,95)"/>
<rect x="284.1" y="197.1" width="0.8" height="0.8" fill="rgb(81,81,81)"/>
<rect x="305.5" y="211.0" width="0.7" height="0.7" fill="rgb(129,129,129)"/>
<rect x="278.1" y="223.7" width="0.8" height="0.8" fill="rgb(121,121,121)"/>
<rect x="279.5" y="210.5" width="0.9" height="0.9" fill="rgb(74,74,74)"/>
<rect x="290.3" y="234.8" width="0.9" height="0.9" fill="rgb(123,123,123)"/>
<rect x="281.7" y="207.9" width="0.8" height="0.8" fill="rgb(46,46,46)"/>
<rect x="292.6" y="232.9" width="0.9" height="0.9" fill="rgb(80,80,80)"/>
<rect x="308.3" y="206.0" width="0.9" height="0.9" fill="rgb(104,104,104)"/>
<rect x="310.8" y="209.4" width="0.8" height="0.8" fill="rgb(61,61,61)"/>
<rect x="284.7" y="225.7" width="0.8" height="0.8" fill="rgb(53,53,53)"/>
<rect x="302.0" y="217.3" width="0.9" height="0.9" fill="rgb(72,72,72)"/>
<rect x="286.8" y="234.7" width="0.9" height="0.9" fill="rgb(109,109,109)"/>
<rect x="296.3" y="233.1" width="0.9" height="0.9" fill="rgb(56,56,56)"/>
<rect x="308.6" y="203.7" width="0.8" height="0.8" fill="rgb(44,44,44)"/>
<rect x="306.9" y="205.6" width="0.8" height="0.8" fill="rgb(41,41,41)"/>
<rect x="281.1" y="222.8" width="0.9" height="0.9" fill="rgb(46,46,46)"/>
<rect x="299.3" y="229.8" width="0.7" height="0.7" fill="rgb(105,105,105)"/>
<rect x="297.4" y="196.4" width="0.9" height="0.9" fill="rgb(75,75,75)"/>
<rect x="299.5" y="233.6" width="0.7" height="0.7" fill="rgb(55,55,55)"/>
<rect x="281.7" y="207.2" width="0.7" height="0.7" fill="rgb(75,75,75)"/>
<rect x="300.2" y="197.6" width="0.7" height="0.7" fill="rgb(103,103,103)"/>
<rect x="279.8" y="203.2" width="0.8" height="0.8" fill="rgb(50,50,50)"/>
<rect x="298.5" y="229.9" width="0.9" height="0.9" fill="rgb(127,127,127)"/>
<rect x="281.9" y="202.5" width="0.8" height="0.8" fill="rgb(116,116,116)"/>
<rect x="286.3" y="196.4" width="0.7" height="0.7" fill="rgb(115,115,115)"/>
<rect x="306.6" y="220.0" width="0.8" height="0.8" fill="rgb(66,66,66)"/>
<rect x="295.3" y="233.8" width="0.9" height="0.9" fill="rgb(86,86,86)"/>
<rect x="306.6" y="205.4" width="0.8" height="0.8" fill="rgb(43,43,43)"/>
<rect x="304.1" y="215.4" width="0.7" height="0.7" fill="rgb(85,85,85)"/>
<rect x="305.8" y="209.1" width="0.8" height="0.8" fill="rgb(70,70,70)"/>
<rect x="295.0" y="234.7" width="0.7" height="0.7" fill="rgb(40,40,40)"/>
<rect x="294.6" y="232.2" width="0.8" height="0.8" fill="rgb(55,55,55)"/>
<rect x="305.4" y="214.2" width="0.7" height="0.7" fill="rgb(69,69,69)"/>
<rect x="290.9" y="236.7" width="0.9" height="0.9" fill="rgb(90,90,90)"/>
<rect x="277.1" y="200.7" width="0.7" height="0.7" fill="rgb(107,107,107)"/>
<rect x="305.7" y="210.5" width="0.8" height="0.8" fill="rgb(52,52,52)"/>
<rect x="306.3" y="218.6" width="0.9" height="0.9" fill="rgb(62,62,62)"/>
<rect x="300.7" y="229.1" width="0.7" height="0.7" fill="rgb(115,115,115)"/>
<rect x="283.3" y="225.9" width="0.9" height="0.9" fill="rgb(65,65,65)"/>
<rect x="306.3" y="210.9" width="0.9" height="0.9" fill="rgb(86,86,86)"/>
<rect x="285.8" y="234.9" width="0.7" height="0.7" fill="rgb(55,55,55)"/>
<rect x="288.4" y="236.9" width="0.9" height="0.9" fill="rgb(69,69,69)"/>
<rect x="288.1" y="232.1" width="0.7" height="0.7" fill="rgb(43,43,43)"/>
<rect x="303.7" y="212.5" width="0.7" height="0.7" fill="rgb(45,45,45)"/>
<rect x="303.7" y="230.8" width="0.9" height="0.9" fill="rgb(90,90,90)"/>
<rect x="282.1" y="203.0" width="0.9" height="0.9" fill="rgb(123,123,123)"/>
<rect x="283.3" y="198.9" width="0.9" height="0.9" fill="rgb(80,80,80)"/>
<rect x="302.0" y="195.2" width="0.7" height="0.7" fill="rgb(123,123,123)"/>
<rect x="285.6" y="230.1" width="0.9" height="0.9" fill="rgb(116,116,116)"/>
<rect x="292.0" y="236.2" width="0.8" height="0.8" fill="rgb(55,55,55)"/>
<rect x="304.3" y="204.1" width="0.7" height="0.7" fill="rgb(70,70,70)"/>
<rect x="284.0" y="226.4" width="0.9" height="0.9" fill="rgb(63,63,63)"/>
<rect x="305.8" y="202.8" width="0.7" height="0.7" fill="rgb(121,121,121)"/>
<rect x="284.7" y="228.9" width="0.8" height="0.8" fill="rgb(103,103,103)"/>
<rect x="285.0" y="198.4" width="0.7" height="0.7" fill="rgb(50,50,50)"/>
<rect x="280.8" y="216.1" width="0.9" height="0.9" fill="rgb(68,68,68)"/>
<rect x="297.8" y="229.7" width="0.8" height="0.8" fill="rgb(110,110,110)"/>
<rect x="297.3" y="236.1" width="0.9" height="0.9" fill="rgb(105,105,105)"/>
<rect x="281.2" y="224.3" width="0.8" height="0.8" fill="rgb(63,63,63)"/>
<rect x="280.0" y="224.9" width="0.7" height="0.7" fill="rgb(110,110,110)"/>
<rect x="281.3" y="210.1" width="0.7" height="0.7" fill="rgb(128,128,128)"/>
<rect x="302.4" y="198.4" width="0.8" height="0.8" fill="rgb(113,113,113)"/>
<rect x="303.0" y="230.6" width="0.9" height="0.9" fill="rgb(68,68,68)"/>
<rect x="290.6" y="195.8" width="0.7" height="0.7" fill="rgb(105,105,105)"/>
<rect x="301.1" y="227.6" width="0.7" height="0.7" fill="rgb(40,40,40)"/>
<rect x="276.7" y="205.2" width="0.8" height="0.8" fill="rgb(77,77,77)"/>
<rect x="290.8" y="194.6" width="0.7" height="0.7" fill="rgb(65,65,65)"/>
<rect x="285.9" y="197.4" width="0.9" height="0.9" fill="rgb(52,52,52)"/>
<rect x="281.6" y="216.9" width="0.9" height="0.9" fill="rgb(59,59,59)"/>
<rect x="304.9" y="205.5" width="0.9" height="0.9" fill="rgb(70,70,70)"/>
<rect x="306.6" y="196.7" width="0.8" height="0.8" fill="rgb(67,67,67)"/>
<rect x="306.7" y="205.6" width="0.9" height="0.9" fill="rgb(108,108,108)"/>
<rect x="298.7" y="230.0" width="0.9" height="0.9" fill="rgb(103,103,103)"/>
<rect x="301.3" y="226.8" width="0.8" height="0.8" fill="rgb(116,116,116)"/>
<rect x="305.4" y="213.0" width="0.9" height="0.9" fill="rgb(49,49,49)"/>
<rect x="304.9" y="208.2" width="0.9" height="0.9" fill="rgb(128,128,128)"/>
<rect x="298.0" y="237.6" width="0.7" height="0.7" fill="rgb(119,119,119)"/>
<rect x="303.6" y="215.6" width="0.9" height="0.9" fill="rgb(113,113,113)"/>
<rect x="283.4" y="224.4" width="0.7" height="0.7" fill="rgb(96,96,96)"/>
<rect x="295.5" y="231.8" width="0.7" height="0.7" fill="rgb(126,126,126)"/>
<rect x="308.8" y="215.4" width="0.8" height="0.8" fill="rgb(50,50,50)"/>
<rect x="305.3" y="221.8" width="0.9" height="0.9" fill="rgb(101,101,101)"/>
<rect x="305.5" y="212.3" width="0.8" height="0.8" fill="rgb(45,45,45)"/>
<rect x="289.2" y="231.6" width="0.7" height="0.7" fill="rgb(91,91,91)"/>
<rect x="298.8" y="228.8" width="0.7" height="0.7" fill="rgb(125,125,125)"/>
<rect x="280.7" y="212.6" width="0.9" height="0.9" fill="rgb(74,74,74)"/>
<rect x="288.7" y="231.3" width="0.8" height="0.8" fill="rgb(103,103,103)"/>
<rect x="305.5" y="201.6" width="0.8" height="0.8" fill="rgb(130,130,130)"/>
<rect x="282.0" y="207.1" width="0.7" height="0.7" fill="rgb(52,52,52)"/>
<g clip-path="url(#cl4)">
<path d="M292.9,233.4 292.1,233.4 291.4,233.3 290.7,233.2 289.9,232.9 289.1,232.5 288.4,232.0 287.6,231.4 287.1,230.9 286.6,230.3 286.1,229.7 285.6,229.0 285.1,228.2 284.7,227.4 284.4,226.7 284.1,226.0 283.8,225.2 283.5,224.4 283.3,223.7 283.0,222.9 282.8,222.2 282.6,221.4 282.4,220.7 282.3,219.9 282.2,219.2 282.1,218.4 282.0,217.7 282.0,216.9 281.9,216.2 281.9,215.4 281.9,214.7 281.9,213.9 281.9,213.2 281.9,212.4 281.8,211.7 281.8,210.9 281.8,210.2 281.7,209.4 281.7,208.7 281.7,207.9 281.7,207.2 281.7,206.4 281.7,205.7 281.8,204.9 281.9,204.2 282.1,203.4 282.3,202.7 282.6,201.9 283.0,201.2 283.5,200.4 284.0,199.7 284.6,199.0 285.1,198.4 285.7,197.9 286.3,197.4 287.0,196.9 287.6,196.5 288.3,196.2 289.1,195.8 289.9,195.5 290.6,195.4 291.4,195.4 292.1,195.4 292.9,195.5 293.6,195.6 294.4,195.7 295.1,195.9 295.9,196.0 296.6,196.2 297.4,196.4 298.1,196.6 298.8,196.9 299.6,197.2 300.4,197.6 301.1,198.1 301.8,198.7 302.4,199.1 302.9,199.6 303.4,200.2 303.8,200.9 304.3,201.7 304.7,202.4 304.9,203.2 305.2,203.9 305.3,204.7 305.4,205.4 305.5,206.2 305.5,206.9 305.4,207.7 305.3,208.4 305.2,209.2 305.1,209.9 304.9,210.7 304.7,211.4 304.4,212.2 304.2,212.9 303.9,213.7 303.7,214.4 303.5,215.2 303.2,215.9 303.0,216.7 302.7,217.4 302.5,218.2 302.2,218.9 302.0,219.7 301.8,220.4 301.5,221.2 301.3,221.9 301.1,222.6 300.9,223.4 300.6,224.2 300.4,224.9 300.1,225.7 299.9,226.4 299.6,227.1 299.3,227.9 298.9,228.7 298.5,229.4 298.1,230.1 297.6,230.8 297.1,231.4 296.5,231.9 295.9,232.4 295.1,232.8 294.4,233.1 293.6,233.3 292.9,233.4Z" fill="rgba(0,0,0,0.035)" stroke="rgb(97,97,97)" stroke-width="0.51"/>
<path d="M293.4,231.0 292.6,231.1 291.9,231.1 291.1,230.9 290.4,230.7 289.6,230.3 288.9,229.7 288.2,229.2 287.6,228.5 287.2,227.9 286.7,227.2 286.3,226.4 285.9,225.7 285.5,224.9 285.2,224.2 284.9,223.4 284.7,222.7 284.5,221.9 284.2,221.2 284.1,220.4 283.9,219.7 283.8,218.9 283.7,218.2 283.6,217.4 283.6,216.7 283.5,215.9 283.5,215.2 283.5,214.4 283.5,213.7 283.4,212.9 283.4,212.2 283.3,211.4 283.3,210.7 283.2,209.9 283.2,209.2 283.1,208.4 283.1,207.7 283.1,206.9 283.1,206.2 283.2,205.4 283.3,204.7 283.5,203.9 283.7,203.2 284.0,202.4 284.3,201.7 284.6,201.0 285.1,200.2 285.6,199.5 286.1,198.9 286.6,198.4 287.2,197.9 287.8,197.4 288.6,196.9 289.4,196.6 290.1,196.3 290.9,196.2 291.6,196.2 292.4,196.3 293.1,196.5 293.9,196.8 294.6,197.0 295.4,197.2 296.1,197.5 296.9,197.7 297.6,198.0 298.4,198.3 299.0,198.7 299.8,199.2 300.5,199.7 301.1,200.2 301.6,200.7 302.1,201.3 302.5,201.9 302.9,202.5 303.2,203.4 303.5,204.2 303.6,204.9 303.7,205.7 303.8,206.4 303.8,207.2 303.7,207.9 303.6,208.7 303.5,209.4 303.3,210.2 303.1,210.9 302.9,211.7 302.7,212.4 302.4,213.2 302.2,213.9 301.9,214.7 301.7,215.4 301.4,216.2 301.2,216.9 301.0,217.7 300.7,218.4 300.5,219.2 300.2,219.9 300.0,220.7 299.7,221.4 299.5,222.2 299.3,222.9 299.0,223.7 298.7,224.4 298.4,225.2 298.1,225.9 297.8,226.7 297.4,227.4 296.9,228.2 296.4,228.9 295.9,229.5 295.1,230.2 294.4,230.6 293.6,230.9Z" fill="rgba(0,0,0,0.035)" stroke="rgb(93,93,93)" stroke-width="0.53"/>
<path d="M293.1,228.9 292.4,229.1 291.6,229.0 290.9,228.8 290.1,228.4 289.4,227.9 288.8,227.4 288.4,226.9 287.9,226.2 287.4,225.4 287.0,224.7 286.6,223.9 286.3,223.2 286.0,222.4 285.7,221.7 285.5,220.9 285.3,220.2 285.1,219.4 285.0,218.7 284.9,217.9 284.8,217.2 284.8,216.4 284.7,215.7 284.6,214.9 284.5,214.2 284.4,213.4 284.4,212.7 284.2,211.9 284.2,211.2 284.1,210.4 284.0,209.7 284.0,208.9 284.0,208.2 283.9,207.4 284.0,206.7 284.0,205.9 284.1,205.2 284.2,204.4 284.4,203.7 284.6,202.9 284.9,202.2 285.2,201.4 285.6,200.7 286.1,199.9 286.6,199.3 287.1,198.8 287.8,198.2 288.5,197.7 289.4,197.2 290.1,196.9 290.9,196.8 291.6,196.8 292.4,197.0 293.1,197.2 293.9,197.5 294.6,197.8 295.3,198.2 296.1,198.5 296.9,198.8 297.6,199.2 298.4,199.6 299.1,200.0 299.9,200.6 300.4,201.2 300.9,201.7 301.4,202.4 301.8,203.2 302.1,203.9 302.3,204.7 302.5,205.4 302.5,206.2 302.6,206.9 302.5,207.7 302.4,208.4 302.3,209.2 302.1,209.9 301.9,210.7 301.7,211.4 301.5,212.2 301.2,212.9 301.0,213.7 300.7,214.4 300.5,215.2 300.3,215.9 300.0,216.7 299.8,217.4 299.5,218.2 299.3,218.9 299.0,219.7 298.8,220.4 298.5,221.2 298.2,221.9 298.0,222.7 297.7,223.4 297.4,224.2 297.0,224.9 296.6,225.7 296.2,226.4 295.6,227.2 295.1,227.7 294.4,228.4 293.6,228.8Z" fill="rgba(0,0,0,0.035)" stroke="rgb(87,87,87)" stroke-width="0.55"/>
<path d="M293.1,226.9 292.4,227.1 291.6,227.0 290.9,226.8 290.1,226.4 289.5,225.9 288.9,225.2 288.4,224.4 287.9,223.7 287.5,222.9 287.1,222.2 286.9,221.4 286.6,220.7 286.4,219.9 286.2,219.2 286.1,218.4 285.9,217.7 285.9,216.9 285.7,216.2 285.6,215.4 285.5,214.7 285.3,213.9 285.1,213.2 285.0,212.4 284.9,211.7 284.8,210.9 284.7,210.2 284.6,209.4 284.6,208.7 284.6,207.9 284.6,207.2 284.6,206.4 284.7,205.7 284.8,204.9 284.9,204.2 285.1,203.5 285.4,202.7 285.6,202.0 286.0,201.2 286.4,200.5 286.8,199.9 287.4,199.3 287.9,198.8 288.6,198.2 289.4,197.7 290.1,197.4 290.9,197.3 291.6,197.3 292.4,197.5 293.1,197.8 293.9,198.1 294.6,198.5 295.3,198.9 296.1,199.3 296.7,199.7 297.4,200.0 298.1,200.5 298.9,201.1 299.4,201.7 300.1,202.4 300.6,203.2 300.9,203.9 301.2,204.7 301.4,205.4 301.5,206.2 301.5,206.9 301.5,207.7 301.4,208.4 301.3,209.2 301.1,209.9 300.9,210.7 300.6,211.4 300.4,212.2 300.1,212.9 299.9,213.7 299.6,214.4 299.4,215.2 299.2,215.9 298.9,216.7 298.7,217.4 298.4,218.2 298.1,218.9 297.9,219.7 297.6,220.4 297.3,221.2 297.0,221.9 296.7,222.7 296.4,223.3 295.9,224.2 295.4,224.9 294.9,225.7 294.4,226.2 293.7,226.7Z" fill="rgba(0,0,0,0.035)" stroke="rgb(80,80,80)" stroke-width="0.57"/>
<path d="M292.9,224.9 292.1,225.1 291.4,225.0 290.6,224.7 290.0,224.2 289.4,223.5 288.9,222.9 288.5,222.2 288.1,221.5 287.8,220.7 287.5,219.9 287.3,219.2 287.1,218.4 286.9,217.7 286.8,216.9 286.6,216.2 286.4,215.4 286.2,214.7 285.9,213.9 285.7,213.2 285.5,212.4 285.4,211.7 285.3,210.9 285.2,210.2 285.2,209.4 285.1,208.7 285.1,207.9 285.1,207.2 285.1,206.4 285.2,205.7 285.3,204.9 285.4,204.2 285.6,203.4 285.9,202.7 286.2,201.9 286.6,201.2 287.0,200.4 287.6,199.7 288.1,199.2 288.7,198.7 289.4,198.2 290.0,197.9 290.9,197.7 291.6,197.8 292.4,198.0 293.1,198.3 293.7,198.7 294.6,199.1 295.4,199.6 296.1,200.0 296.9,200.6 297.6,201.2 298.2,201.7 298.7,202.2 299.3,202.9 299.7,203.7 300.1,204.4 300.3,205.2 300.5,205.9 300.5,206.7 300.5,207.4 300.5,208.2 300.4,208.9 300.2,209.7 300.0,210.4 299.7,211.2 299.5,211.9 299.2,212.7 299.0,213.4 298.7,214.2 298.5,214.9 298.2,215.7 298.0,216.4 297.7,217.2 297.4,217.9 297.2,218.7 296.9,219.4 296.5,220.2 296.2,220.9 295.9,221.6 295.4,222.4 294.9,223.2 294.4,223.9 293.8,224.4 293.1,224.8Z" fill="rgba(0,0,0,0.035)" stroke="rgb(72,72,72)" stroke-width="0.60"/>
<path d="M292.6,222.9 291.9,223.0 291.1,222.8 290.5,222.4 290.0,221.9 289.4,221.2 289.0,220.4 288.6,219.7 288.4,218.9 288.1,218.2 287.9,217.4 287.6,216.7 287.4,216.0 287.0,215.2 286.7,214.4 286.4,213.7 286.2,212.9 286.0,212.2 285.9,211.5 285.7,210.7 285.7,209.9 285.6,209.2 285.6,208.4 285.5,207.7 285.5,206.9 285.6,206.2 285.7,205.4 285.8,204.7 286.0,203.9 286.2,203.2 286.5,202.4 286.8,201.7 287.2,200.9 287.8,200.2 288.4,199.5 289.0,198.9 289.9,198.4 290.6,198.2 291.4,198.2 292.1,198.3 292.8,198.7 293.6,199.1 294.4,199.6 295.1,200.0 295.9,200.6 296.6,201.2 297.1,201.6 297.6,202.2 298.1,202.8 298.6,203.4 299.0,204.2 299.3,204.9 299.5,205.7 299.6,206.4 299.6,207.2 299.6,207.9 299.5,208.7 299.3,209.4 299.1,210.2 298.9,210.9 298.6,211.7 298.4,212.4 298.1,213.1 297.9,213.8 297.6,214.5 297.4,215.2 297.1,215.9 296.9,216.6 296.6,217.2 296.3,217.9 296.0,218.7 295.7,219.4 295.3,220.2 294.9,220.9 294.4,221.6 293.9,222.1 293.2,222.7Z" fill="rgba(0,0,0,0.035)" stroke="rgb(63,63,63)" stroke-width="0.64"/>
<path d="M292.6,220.7 291.9,220.8 291.1,220.5 290.4,219.9 289.9,219.2 289.4,218.4 289.0,217.7 288.6,217.0 288.2,216.2 287.8,215.4 287.4,214.7 287.1,214.0 286.8,213.2 286.5,212.4 286.4,211.7 286.2,210.9 286.1,210.2 286.1,209.4 286.0,208.7 286.0,207.9 286.0,207.2 286.0,206.4 286.1,205.7 286.3,204.9 286.4,204.2 286.7,203.4 286.9,202.7 287.3,201.9 287.6,201.3 288.0,200.7 288.6,199.9 289.1,199.4 289.9,198.9 290.6,198.7 291.4,198.6 292.1,198.8 292.8,199.2 293.6,199.7 294.4,200.1 295.1,200.6 295.8,201.2 296.3,201.7 296.9,202.3 297.3,202.9 297.8,203.7 298.2,204.4 298.5,205.2 298.6,205.9 298.7,206.7 298.8,207.4 298.7,208.2 298.6,208.9 298.4,209.7 298.2,210.4 297.9,211.2 297.6,211.9 297.4,212.7 297.1,213.3 296.8,214.2 296.4,214.9 296.1,215.7 295.9,216.3 295.5,217.2 295.1,217.9 294.7,218.7 294.1,219.4 293.6,220.0 292.9,220.6Z" fill="rgba(0,0,0,0.035)" stroke="rgb(52,52,52)" stroke-width="0.68"/>
<path d="M292.4,218.2 291.6,218.2 290.9,217.9 290.2,217.4 289.7,216.9 289.1,216.3 288.7,215.7 288.2,214.9 287.9,214.3 287.4,213.4 287.2,212.7 286.9,211.9 286.8,211.2 286.7,210.4 286.6,209.7 286.6,208.9 286.5,208.2 286.5,207.4 286.6,206.7 286.7,205.9 286.8,205.2 287.0,204.4 287.2,203.7 287.5,202.9 287.9,202.2 288.3,201.4 288.8,200.7 289.4,200.0 290.1,199.4 290.9,199.2 291.6,199.3 292.4,199.6 293.1,200.0 293.7,200.4 294.4,200.8 295.1,201.3 295.7,201.9 296.3,202.7 296.8,203.4 297.2,204.2 297.5,204.9 297.7,205.7 297.8,206.4 297.9,207.2 297.8,207.9 297.7,208.7 297.6,209.4 297.4,210.2 297.1,210.9 296.9,211.6 296.5,212.4 296.2,213.2 295.9,213.9 295.5,214.7 295.1,215.3 294.6,216.1 294.1,216.8 293.6,217.4 293.0,217.9Z" fill="rgba(0,0,0,0.035)" stroke="rgb(38,38,38)" stroke-width="0.72"/>
<path d="M292.1,216.7 291.4,216.7 290.6,216.5 289.9,216.0 289.4,215.5 288.9,214.9 288.5,214.2 288.1,213.4 287.8,212.7 287.6,211.9 287.4,211.2 287.3,210.4 287.3,209.7 287.2,208.9 287.2,208.2 287.2,207.4 287.3,206.7 287.4,205.9 287.7,205.2 288.0,204.4 288.6,203.7 289.4,203.8 289.7,204.4 290.6,204.4 291.0,203.7 291.0,202.9 290.4,202.3 289.6,201.9 289.7,201.2 290.1,200.5 290.9,200.1 291.6,200.1 292.4,200.5 293.1,200.9 293.9,201.2 294.5,201.7 295.1,202.1 295.6,202.7 296.1,203.4 296.5,204.2 296.8,204.9 297.0,205.7 297.1,206.4 297.1,207.2 297.1,207.9 297.0,208.7 296.8,209.4 296.6,210.1 296.4,210.9 296.1,211.6 295.7,212.4 295.4,213.2 294.9,213.9 294.4,214.7 293.9,215.4 293.4,215.9 292.7,216.4Z" fill="rgba(0,0,0,0.035)" stroke="rgb(32,32,32)" stroke-width="0.78"/>
<path d="M292.1,215.4 291.4,215.6 290.6,215.4 289.9,214.9 289.4,214.2 289.0,213.4 288.9,212.7 288.8,211.9 289.4,211.4 290.1,211.3 290.7,210.9 291.1,210.3 291.3,209.4 291.4,208.7 291.4,207.9 291.5,207.2 291.7,206.4 291.8,205.7 292.0,204.9 292.3,204.2 292.5,203.4 292.9,202.7 293.6,202.3 294.4,202.6 295.0,203.2 295.5,203.9 295.9,204.7 296.1,205.4 296.3,206.2 296.4,206.9 296.3,207.7 296.2,208.4 296.1,209.1 295.9,209.9 295.6,210.7 295.4,211.3 295.0,212.2 294.6,212.8 294.2,213.4 293.6,214.1 293.1,214.7 292.4,215.3Z" fill="rgba(0,0,0,0.035)" stroke="rgb(32,32,32)" stroke-width="0.80"/>
<path d="M291.9,213.9 291.1,213.9 291.1,213.2 291.6,212.7 292.1,211.9 292.3,211.2 292.4,210.4 292.4,209.7 292.5,208.9 292.5,208.2 292.6,207.4 292.7,206.7 292.8,205.9 293.0,205.2 293.4,204.4 294.1,203.9 294.8,204.4 295.2,205.2 295.4,205.9 295.6,206.7 295.6,207.4 295.5,208.2 295.4,208.9 295.1,209.7 294.9,210.4 294.5,211.2 294.0,211.9 293.4,212.6 292.8,213.2 292.2,213.7Z" fill="rgba(0,0,0,0.035)" stroke="rgb(32,32,32)" stroke-width="0.80"/>
</g>
<line x1="273.1" y1="183.4" x2="273.1" y2="244.2" stroke="#888" stroke-width="0.8" />
<line x1="259.1" y1="224" x2="320.5" y2="224" stroke="#888" stroke-width="0.8" />
<rect x="259.1" y="183.4" width="61.4" height="60.79999999999998" fill="none" stroke="#999" stroke-width="0.9"/>
<text x="259.8" y="188.0" font-size="4.3" font-weight="normal" text-anchor="start" fill="#222" >0.078</text>
<text x="319.9" y="188.0" font-size="4.3" font-weight="normal" text-anchor="end" fill="#222" >93.7</text>
<text x="259.8" y="243.29999999999998" font-size="4.3" font-weight="normal" text-anchor="start" fill="#222" >0.35</text>
<text x="319.9" y="243.29999999999998" font-size="4.3" font-weight="normal" text-anchor="end" fill="#222" >5.60</text>
<text x="259.6" y="250.3" font-size="3.4" text-anchor="middle" fill="#555">10<tspan font-size="2.6" dy="-1.2">0</tspan></text>
<text x="275.0" y="250.3" font-size="3.4" text-anchor="middle" fill="#555">10<tspan font-size="2.6" dy="-1.2">1</tspan></text>
<text x="290.3" y="250.3" font-size="3.4" text-anchor="middle" fill="#555">10<tspan font-size="2.6" dy="-1.2">2</tspan></text>
<text x="305.7" y="250.3" font-size="3.4" text-anchor="middle" fill="#555">10<tspan font-size="2.6" dy="-1.2">3</tspan></text>
<text x="321.0" y="250.3" font-size="3.4" text-anchor="middle" fill="#555">10<tspan font-size="2.6" dy="-1.2">4</tspan></text>
<clipPath id="cl5"><rect x="320.4" y="183.4" width="61.4" height="60.79999999999998"/></clipPath>
<rect x="337.3" y="238.4" width="0.8" height="0.8" fill="rgb(115,115,115)"/>
<rect x="365.8" y="201.0" width="0.7" height="0.7" fill="rgb(114,114,114)"/>
<rect x="333.5" y="234.2" width="0.8" height="0.8" fill="rgb(40,40,40)"/>
<rect x="367.9" y="198.1" width="0.9" height="0.9" fill="rgb(107,107,107)"/>
<rect x="329.2" y="217.9" width="0.8" height="0.8" fill="rgb(82,82,82)"/>
<rect x="343.6" y="197.7" width="0.8" height="0.8" fill="rgb(60,60,60)"/>
<rect x="356.0" y="226.7" width="0.7" height="0.7" fill="rgb(61,61,61)"/>
<rect x="338.7" y="234.8" width="0.9" height="0.9" fill="rgb(52,52,52)"/>
<rect x="331.4" y="213.1" width="0.8" height="0.8" fill="rgb(90,90,90)"/>
<rect x="341.2" y="238.9" width="0.8" height="0.8" fill="rgb(61,61,61)"/>
<rect x="350.2" y="234.2" width="0.8" height="0.8" fill="rgb(118,118,118)"/>
<rect x="331.5" y="208.0" width="0.8" height="0.8" fill="rgb(98,98,98)"/>
<rect x="335.1" y="220.9" width="0.7" height="0.7" fill="rgb(126,126,126)"/>
<rect x="334.4" y="230.4" width="0.7" height="0.7" fill="rgb(130,130,130)"/>
<rect x="353.5" y="233.6" width="0.8" height="0.8" fill="rgb(118,118,118)"/>
<rect x="343.9" y="237.7" width="0.8" height="0.8" fill="rgb(107,107,107)"/>
<rect x="337.7" y="198.0" width="0.8" height="0.8" fill="rgb(47,47,47)"/>
<rect x="353.9" y="229.7" width="0.7" height="0.7" fill="rgb(119,119,119)"/>
<rect x="338.4" y="197.9" width="0.9" height="0.9" fill="rgb(85,85,85)"/>
<rect x="337.2" y="236.7" width="0.7" height="0.7" fill="rgb(126,126,126)"/>
<rect x="332.8" y="201.7" width="0.9" height="0.9" fill="rgb(90,90,90)"/>
<rect x="338.6" y="235.1" width="0.9" height="0.9" fill="rgb(104,104,104)"/>
<rect x="366.2" y="206.2" width="0.9" height="0.9" fill="rgb(120,120,120)"/>
<rect x="352.9" y="238.9" width="0.9" height="0.9" fill="rgb(102,102,102)"/>
<rect x="330.8" y="218.0" width="0.8" height="0.8" fill="rgb(105,105,105)"/>
<rect x="333.4" y="206.6" width="0.8" height="0.8" fill="rgb(115,115,115)"/>
<rect x="331.4" y="204.8" width="0.9" height="0.9" fill="rgb(106,106,106)"/>
<rect x="360.3" y="222.5" width="0.9" height="0.9" fill="rgb(55,55,55)"/>
<rect x="329.9" y="207.6" width="0.8" height="0.8" fill="rgb(93,93,93)"/>
<rect x="334.9" y="226.4" width="0.9" height="0.9" fill="rgb(77,77,77)"/>
<rect x="366.3" y="198.5" width="0.9" height="0.9" fill="rgb(73,73,73)"/>
<rect x="365.3" y="202.9" width="0.7" height="0.7" fill="rgb(56,56,56)"/>
<rect x="353.1" y="235.7" width="0.8" height="0.8" fill="rgb(110,110,110)"/>
<rect x="359.1" y="222.1" width="0.8" height="0.8" fill="rgb(90,90,90)"/>
<rect x="370.4" y="203.3" width="0.7" height="0.7" fill="rgb(114,114,114)"/>
<rect x="368.5" y="197.9" width="0.7" height="0.7" fill="rgb(110,110,110)"/>
<rect x="345.2" y="197.8" width="0.7" height="0.7" fill="rgb(66,66,66)"/>
<rect x="336.3" y="202.9" width="0.7" height="0.7" fill="rgb(118,118,118)"/>
<rect x="332.9" y="210.5" width="0.9" height="0.9" fill="rgb(80,80,80)"/>
<rect x="330.3" y="224.6" width="0.8" height="0.8" fill="rgb(94,94,94)"/>
<rect x="351.3" y="234.7" width="0.9" height="0.9" fill="rgb(114,114,114)"/>
<rect x="356.8" y="231.2" width="0.9" height="0.9" fill="rgb(61,61,61)"/>
<rect x="366.2" y="207.8" width="0.7" height="0.7" fill="rgb(44,44,44)"/>
<rect x="365.4" y="198.3" width="0.9" height="0.9" fill="rgb(129,129,129)"/>
<rect x="362.6" y="214.7" width="0.8" height="0.8" fill="rgb(49,49,49)"/>
<rect x="364.1" y="213.8" width="0.8" height="0.8" fill="rgb(113,113,113)"/>
<rect x="329.7" y="220.6" width="0.9" height="0.9" fill="rgb(74,74,74)"/>
<rect x="371.1" y="210.1" width="0.9" height="0.9" fill="rgb(70,70,70)"/>
<rect x="359.4" y="223.8" width="0.8" height="0.8" fill="rgb(86,86,86)"/>
<rect x="347.4" y="196.8" width="0.7" height="0.7" fill="rgb(78,78,78)"/>
<rect x="336.4" y="202.2" width="0.7" height="0.7" fill="rgb(54,54,54)"/>
<rect x="333.4" y="231.3" width="0.7" height="0.7" fill="rgb(102,102,102)"/>
<rect x="340.1" y="240.6" width="0.9" height="0.9" fill="rgb(95,95,95)"/>
<rect x="336.7" y="233.1" width="0.7" height="0.7" fill="rgb(83,83,83)"/>
<rect x="350.3" y="234.9" width="0.7" height="0.7" fill="rgb(71,71,71)"/>
<rect x="354.9" y="232.2" width="0.7" height="0.7" fill="rgb(76,76,76)"/>
<rect x="362.6" y="214.9" width="0.7" height="0.7" fill="rgb(70,70,70)"/>
<rect x="333.1" y="229.8" width="0.7" height="0.7" fill="rgb(86,86,86)"/>
<rect x="364.1" y="220.6" width="0.9" height="0.9" fill="rgb(129,129,129)"/>
<rect x="334.5" y="214.3" width="0.9" height="0.9" fill="rgb(67,67,67)"/>
<rect x="367.4" y="204.1" width="0.8" height="0.8" fill="rgb(74,74,74)"/>
<rect x="335.7" y="235.4" width="0.8" height="0.8" fill="rgb(55,55,55)"/>
<rect x="362.9" y="194.7" width="0.9" height="0.9" fill="rgb(127,127,127)"/>
<rect x="355.7" y="233.7" width="0.8" height="0.8" fill="rgb(108,108,108)"/>
<rect x="342.7" y="236.3" width="0.9" height="0.9" fill="rgb(41,41,41)"/>
<rect x="364.7" y="212.9" width="0.9" height="0.9" fill="rgb(61,61,61)"/>
<rect x="355.0" y="234.3" width="0.7" height="0.7" fill="rgb(58,58,58)"/>
<rect x="369.7" y="208.0" width="0.9" height="0.9" fill="rgb(113,113,113)"/>
<rect x="335.7" y="218.0" width="0.9" height="0.9" fill="rgb(46,46,46)"/>
<rect x="361.6" y="219.5" width="0.8" height="0.8" fill="rgb(96,96,96)"/>
<rect x="369.5" y="199.9" width="0.9" height="0.9" fill="rgb(70,70,70)"/>
<rect x="371.5" y="207.3" width="0.8" height="0.8" fill="rgb(84,84,84)"/>
<rect x="330.5" y="204.3" width="0.7" height="0.7" fill="rgb(86,86,86)"/>
<rect x="363.7" y="214.9" width="0.8" height="0.8" fill="rgb(64,64,64)"/>
<rect x="355.7" y="226.2" width="0.8" height="0.8" fill="rgb(122,122,122)"/>
<rect x="336.4" y="226.9" width="0.9" height="0.9" fill="rgb(83,83,83)"/>
<rect x="333.9" y="218.1" width="0.7" height="0.7" fill="rgb(53,53,53)"/>
<rect x="331.3" y="215.1" width="0.8" height="0.8" fill="rgb(71,71,71)"/>
<rect x="333.1" y="217.2" width="0.8" height="0.8" fill="rgb(50,50,50)"/>
<rect x="369.8" y="206.6" width="0.9" height="0.9" fill="rgb(48,48,48)"/>
<rect x="336.6" y="199.1" width="0.7" height="0.7" fill="rgb(67,67,67)"/>
<rect x="370.0" y="205.4" width="0.7" height="0.7" fill="rgb(127,127,127)"/>
<rect x="361.6" y="224.6" width="0.7" height="0.7" fill="rgb(111,111,111)"/>
<rect x="364.4" y="193.9" width="0.9" height="0.9" fill="rgb(84,84,84)"/>
<rect x="359.3" y="224.0" width="0.9" height="0.9" fill="rgb(51,51,51)"/>
<rect x="334.7" y="204.6" width="0.9" height="0.9" fill="rgb(80,80,80)"/>
<rect x="364.7" y="200.0" width="0.8" height="0.8" fill="rgb(96,96,96)"/>
<rect x="332.9" y="216.1" width="0.9" height="0.9" fill="rgb(100,100,100)"/>
<rect x="328.1" y="209.1" width="0.7" height="0.7" fill="rgb(101,101,101)"/>
<rect x="344.4" y="195.8" width="0.7" height="0.7" fill="rgb(100,100,100)"/>
<rect x="360.9" y="227.8" width="0.9" height="0.9" fill="rgb(43,43,43)"/>
<rect x="330.6" y="232.5" width="0.8" height="0.8" fill="rgb(57,57,57)"/>
<rect x="347.8" y="193.2" width="0.9" height="0.9" fill="rgb(97,97,97)"/>
<rect x="330.3" y="223.5" width="0.7" height="0.7" fill="rgb(62,62,62)"/>
<rect x="365.5" y="202.6" width="0.7" height="0.7" fill="rgb(112,112,112)"/>
<rect x="335.1" y="213.0" width="0.9" height="0.9" fill="rgb(49,49,49)"/>
<rect x="354.2" y="232.4" width="0.8" height="0.8" fill="rgb(43,43,43)"/>
<rect x="366.9" y="218.4" width="0.8" height="0.8" fill="rgb(66,66,66)"/>
<rect x="331.4" y="210.9" width="0.9" height="0.9" fill="rgb(116,116,116)"/>
<rect x="351.4" y="236.3" width="0.9" height="0.9" fill="rgb(44,44,44)"/>
<rect x="332.1" y="202.0" width="0.7" height="0.7" fill="rgb(93,93,93)"/>
<rect x="369.3" y="214.1" width="0.8" height="0.8" fill="rgb(109,109,109)"/>
<rect x="369.5" y="198.0" width="0.9" height="0.9" fill="rgb(97,97,97)"/>
<rect x="351.9" y="233.2" width="0.8" height="0.8" fill="rgb(49,49,49)"/>
<rect x="331.6" y="210.6" width="0.9" height="0.9" fill="rgb(47,47,47)"/>
<rect x="369.0" y="208.7" width="0.8" height="0.8" fill="rgb(118,118,118)"/>
<rect x="370.6" y="202.9" width="0.9" height="0.9" fill="rgb(118,118,118)"/>
<rect x="338.3" y="234.7" width="0.9" height="0.9" fill="rgb(113,113,113)"/>
<rect x="335.3" y="213.7" width="0.9" height="0.9" fill="rgb(99,99,99)"/>
<rect x="352.6" y="193.4" width="0.9" height="0.9" fill="rgb(112,112,112)"/>
<rect x="337.7" y="232.8" width="0.9" height="0.9" fill="rgb(52,52,52)"/>
<rect x="335.0" y="203.4" width="0.9" height="0.9" fill="rgb(63,63,63)"/>
<rect x="368.5" y="199.7" width="0.7" height="0.7" fill="rgb(41,41,41)"/>
<rect x="337.9" y="202.1" width="0.9" height="0.9" fill="rgb(107,107,107)"/>
<rect x="360.6" y="218.9" width="0.9" height="0.9" fill="rgb(113,113,113)"/>
<rect x="343.5" y="239.1" width="0.9" height="0.9" fill="rgb(48,48,48)"/>
<rect x="366.0" y="204.9" width="0.8" height="0.8" fill="rgb(43,43,43)"/>
<rect x="335.9" y="214.5" width="0.8" height="0.8" fill="rgb(102,102,102)"/>
<rect x="333.9" y="223.2" width="0.8" height="0.8" fill="rgb(104,104,104)"/>
<rect x="344.1" y="239.9" width="0.9" height="0.9" fill="rgb(75,75,75)"/>
<rect x="346.2" y="238.6" width="0.8" height="0.8" fill="rgb(99,99,99)"/>
<rect x="333.4" y="211.6" width="0.8" height="0.8" fill="rgb(52,52,52)"/>
<rect x="369.0" y="210.1" width="0.7" height="0.7" fill="rgb(105,105,105)"/>
<rect x="366.3" y="212.9" width="0.9" height="0.9" fill="rgb(124,124,124)"/>
<rect x="335.7" y="196.7" width="0.9" height="0.9" fill="rgb(128,128,128)"/>
<rect x="338.3" y="233.9" width="0.9" height="0.9" fill="rgb(73,73,73)"/>
<rect x="339.6" y="236.6" width="0.8" height="0.8" fill="rgb(66,66,66)"/>
<rect x="365.7" y="210.0" width="0.8" height="0.8" fill="rgb(85,85,85)"/>
<rect x="335.3" y="229.1" width="0.7" height="0.7" fill="rgb(82,82,82)"/>
<rect x="355.7" y="229.5" width="0.7" height="0.7" fill="rgb(83,83,83)"/>
<rect x="331.3" y="214.1" width="0.8" height="0.8" fill="rgb(100,100,100)"/>
<rect x="351.1" y="234.9" width="0.8" height="0.8" fill="rgb(115,115,115)"/>
<rect x="342.4" y="240.1" width="0.8" height="0.8" fill="rgb(90,90,90)"/>
<rect x="347.8" y="238.4" width="0.9" height="0.9" fill="rgb(93,93,93)"/>
<rect x="330.0" y="213.5" width="0.8" height="0.8" fill="rgb(81,81,81)"/>
<rect x="334.9" y="199.7" width="0.9" height="0.9" fill="rgb(49,49,49)"/>
<rect x="332.7" y="232.0" width="0.7" height="0.7" fill="rgb(41,41,41)"/>
<rect x="340.1" y="238.3" width="0.8" height="0.8" fill="rgb(48,48,48)"/>
<rect x="362.6" y="217.8" width="0.8" height="0.8" fill="rgb(94,94,94)"/>
<rect x="366.4" y="204.6" width="0.8" height="0.8" fill="rgb(101,101,101)"/>
<rect x="343.5" y="237.0" width="0.9" height="0.9" fill="rgb(72,72,72)"/>
<rect x="339.8" y="235.4" width="0.9" height="0.9" fill="rgb(95,95,95)"/>
<rect x="332.7" y="216.6" width="0.9" height="0.9" fill="rgb(85,85,85)"/>
<rect x="354.1" y="235.6" width="0.8" height="0.8" fill="rgb(115,115,115)"/>
<rect x="369.3" y="211.1" width="0.7" height="0.7" fill="rgb(115,115,115)"/>
<rect x="365.1" y="195.5" width="0.8" height="0.8" fill="rgb(49,49,49)"/>
<rect x="369.8" y="215.5" width="0.8" height="0.8" fill="rgb(41,41,41)"/>
<rect x="329.1" y="204.4" width="0.8" height="0.8" fill="rgb(88,88,88)"/>
<rect x="335.6" y="200.3" width="0.8" height="0.8" fill="rgb(56,56,56)"/>
<rect x="336.9" y="231.5" width="0.8" height="0.8" fill="rgb(63,63,63)"/>
<rect x="338.2" y="199.7" width="0.8" height="0.8" fill="rgb(81,81,81)"/>
<rect x="338.0" y="201.2" width="0.7" height="0.7" fill="rgb(64,64,64)"/>
<rect x="338.7" y="237.1" width="0.8" height="0.8" fill="rgb(109,109,109)"/>
<rect x="364.2" y="196.6" width="0.8" height="0.8" fill="rgb(63,63,63)"/>
<rect x="367.0" y="210.0" width="0.8" height="0.8" fill="rgb(69,69,69)"/>
<rect x="340.4" y="197.1" width="0.9" height="0.9" fill="rgb(130,130,130)"/>
<rect x="331.4" y="226.5" width="0.7" height="0.7" fill="rgb(112,112,112)"/>
<rect x="353.6" y="234.6" width="0.7" height="0.7" fill="rgb(112,112,112)"/>
<rect x="343.9" y="197.8" width="0.7" height="0.7" fill="rgb(106,106,106)"/>
<rect x="350.7" y="235.4" width="0.7" height="0.7" fill="rgb(91,91,91)"/>
<rect x="360.3" y="220.7" width="0.8" height="0.8" fill="rgb(44,44,44)"/>
<rect x="330.0" y="210.8" width="0.7" height="0.7" fill="rgb(46,46,46)"/>
<rect x="363.0" y="216.1" width="0.8" height="0.8" fill="rgb(80,80,80)"/>
<rect x="364.9" y="211.2" width="0.7" height="0.7" fill="rgb(100,100,100)"/>
<rect x="366.9" y="205.6" width="0.7" height="0.7" fill="rgb(78,78,78)"/>
<rect x="346.9" y="239.1" width="0.7" height="0.7" fill="rgb(82,82,82)"/>
<rect x="332.4" y="212.2" width="0.9" height="0.9" fill="rgb(63,63,63)"/>
<rect x="365.4" y="216.4" width="0.9" height="0.9" fill="rgb(40,40,40)"/>
<rect x="337.6" y="234.8" width="0.9" height="0.9" fill="rgb(98,98,98)"/>
<rect x="350.9" y="194.8" width="0.8" height="0.8" fill="rgb(96,96,96)"/>
<rect x="344.6" y="196.4" width="0.9" height="0.9" fill="rgb(67,67,67)"/>
<rect x="336.0" y="239.5" width="0.9" height="0.9" fill="rgb(81,81,81)"/>
<rect x="356.1" y="226.2" width="0.9" height="0.9" fill="rgb(113,113,113)"/>
<rect x="368.2" y="209.2" width="0.8" height="0.8" fill="rgb(72,72,72)"/>
<rect x="344.0" y="240.0" width="0.7" height="0.7" fill="rgb(98,98,98)"/>
<rect x="335.6" y="216.8" width="0.8" height="0.8" fill="rgb(88,88,88)"/>
<rect x="330.6" y="214.5" width="0.8" height="0.8" fill="rgb(100,100,100)"/>
<rect x="366.6" y="201.5" width="0.9" height="0.9" fill="rgb(80,80,80)"/>
<rect x="332.9" y="219.4" width="0.9" height="0.9" fill="rgb(112,112,112)"/>
<rect x="366.1" y="206.3" width="0.8" height="0.8" fill="rgb(67,67,67)"/>
<rect x="335.0" y="225.9" width="0.9" height="0.9" fill="rgb(77,77,77)"/>
<rect x="334.3" y="203.2" width="0.7" height="0.7" fill="rgb(127,127,127)"/>
<rect x="357.2" y="225.9" width="0.8" height="0.8" fill="rgb(101,101,101)"/>
<rect x="335.4" y="213.2" width="0.9" height="0.9" fill="rgb(99,99,99)"/>
<rect x="373.5" y="209.7" width="0.9" height="0.9" fill="rgb(89,89,89)"/>
<rect x="346.5" y="196.6" width="0.7" height="0.7" fill="rgb(61,61,61)"/>
<rect x="344.2" y="198.0" width="0.8" height="0.8" fill="rgb(56,56,56)"/>
<rect x="332.5" y="209.6" width="0.8" height="0.8" fill="rgb(56,56,56)"/>
<rect x="338.6" y="238.1" width="0.7" height="0.7" fill="rgb(80,80,80)"/>
<rect x="335.8" y="221.2" width="0.9" height="0.9" fill="rgb(52,52,52)"/>
<rect x="345.5" y="197.1" width="0.7" height="0.7" fill="rgb(89,89,89)"/>
<rect x="365.7" y="218.5" width="0.8" height="0.8" fill="rgb(110,110,110)"/>
<rect x="331.7" y="209.2" width="0.8" height="0.8" fill="rgb(91,91,91)"/>
<rect x="344.4" y="196.7" width="0.7" height="0.7" fill="rgb(93,93,93)"/>
<rect x="364.9" y="208.4" width="0.9" height="0.9" fill="rgb(129,129,129)"/>
<rect x="337.2" y="201.3" width="0.9" height="0.9" fill="rgb(47,47,47)"/>
<rect x="333.9" y="233.1" width="0.7" height="0.7" fill="rgb(128,128,128)"/>
<rect x="359.4" y="227.8" width="0.9" height="0.9" fill="rgb(82,82,82)"/>
<rect x="333.6" y="205.2" width="0.7" height="0.7" fill="rgb(66,66,66)"/>
<rect x="336.9" y="231.6" width="0.9" height="0.9" fill="rgb(115,115,115)"/>
<rect x="331.7" y="213.5" width="0.7" height="0.7" fill="rgb(105,105,105)"/>
<rect x="351.7" y="239.8" width="0.8" height="0.8" fill="rgb(126,126,126)"/>
<rect x="336.6" y="231.9" width="0.9" height="0.9" fill="rgb(87,87,87)"/>
<rect x="368.9" y="210.2" width="0.7" height="0.7" fill="rgb(55,55,55)"/>
<rect x="336.1" y="216.1" width="0.8" height="0.8" fill="rgb(50,50,50)"/>
<rect x="330.3" y="216.2" width="0.9" height="0.9" fill="rgb(118,118,118)"/>
<rect x="333.8" y="220.7" width="0.9" height="0.9" fill="rgb(45,45,45)"/>
<rect x="339.8" y="197.6" width="0.7" height="0.7" fill="rgb(64,64,64)"/>
<rect x="365.4" y="201.1" width="0.7" height="0.7" fill="rgb(102,102,102)"/>
<rect x="329.1" y="207.1" width="0.9" height="0.9" fill="rgb(53,53,53)"/>
<rect x="330.8" y="218.0" width="0.9" height="0.9" fill="rgb(61,61,61)"/>
<rect x="365.1" y="199.0" width="0.9" height="0.9" fill="rgb(98,98,98)"/>
<rect x="350.1" y="236.8" width="0.9" height="0.9" fill="rgb(40,40,40)"/>
<rect x="333.2" y="199.2" width="0.8" height="0.8" fill="rgb(115,115,115)"/>
<rect x="336.5" y="234.4" width="0.7" height="0.7" fill="rgb(110,110,110)"/>
<rect x="367.6" y="200.0" width="0.9" height="0.9" fill="rgb(61,61,61)"/>
<rect x="335.9" y="219.4" width="0.9" height="0.9" fill="rgb(109,109,109)"/>
<rect x="337.7" y="198.9" width="0.7" height="0.7" fill="rgb(75,75,75)"/>
<rect x="334.2" y="218.8" width="0.7" height="0.7" fill="rgb(111,111,111)"/>
<rect x="364.9" y="196.4" width="0.7" height="0.7" fill="rgb(64,64,64)"/>
<rect x="364.3" y="223.7" width="0.8" height="0.8" fill="rgb(65,65,65)"/>
<rect x="367.6" y="198.2" width="0.7" height="0.7" fill="rgb(42,42,42)"/>
<rect x="356.9" y="227.1" width="0.8" height="0.8" fill="rgb(96,96,96)"/>
<rect x="341.7" y="197.6" width="0.8" height="0.8" fill="rgb(66,66,66)"/>
<rect x="348.1" y="238.7" width="0.7" height="0.7" fill="rgb(70,70,70)"/>
<rect x="363.2" y="217.1" width="0.9" height="0.9" fill="rgb(82,82,82)"/>
<rect x="333.6" y="203.9" width="0.8" height="0.8" fill="rgb(113,113,113)"/>
<rect x="354.6" y="192.6" width="0.9" height="0.9" fill="rgb(118,118,118)"/>
<rect x="333.0" y="207.4" width="0.7" height="0.7" fill="rgb(75,75,75)"/>
<rect x="339.4" y="238.4" width="0.9" height="0.9" fill="rgb(49,49,49)"/>
<rect x="366.1" y="211.1" width="0.9" height="0.9" fill="rgb(94,94,94)"/>
<rect x="341.6" y="236.4" width="0.9" height="0.9" fill="rgb(105,105,105)"/>
<rect x="351.3" y="194.9" width="0.7" height="0.7" fill="rgb(106,106,106)"/>
<rect x="365.5" y="203.5" width="0.9" height="0.9" fill="rgb(103,103,103)"/>
<rect x="338.2" y="237.7" width="0.7" height="0.7" fill="rgb(46,46,46)"/>
<g clip-path="url(#cl5)">
<path d="M344.6,237.2 343.9,237.1 343.1,237.1 342.4,236.9 341.6,236.7 340.9,236.4 340.1,236.0 339.4,235.5 338.7,234.9 338.2,234.4 337.6,233.7 337.1,233.0 336.7,232.2 336.4,231.4 336.1,230.7 335.9,229.9 335.8,229.2 335.7,228.4 335.6,227.7 335.5,226.9 335.4,226.2 335.4,225.4 335.3,224.7 335.3,223.9 335.2,223.2 335.2,222.4 335.2,221.7 335.2,220.9 335.2,220.2 335.2,219.4 335.3,218.7 335.3,217.9 335.3,217.2 335.4,216.4 335.4,215.7 335.3,214.9 335.2,214.2 334.8,213.4 334.2,212.7 333.6,212.0 333.2,211.4 332.8,210.7 332.6,209.9 332.4,209.2 332.5,208.4 332.6,207.7 332.8,206.9 333.2,206.2 333.6,205.6 334.1,205.0 334.6,204.4 335.1,203.9 335.6,203.4 336.1,202.9 336.6,202.4 337.2,201.9 337.7,201.4 338.3,200.9 338.9,200.4 339.6,199.9 340.4,199.4 341.1,199.0 341.8,198.7 342.6,198.3 343.4,197.9 344.1,197.7 344.9,197.4 345.5,197.2 346.2,196.9 346.9,196.7 347.6,196.4 348.2,196.2 348.9,195.9 349.6,195.7 350.4,195.3 351.1,195.0 351.9,194.5 352.6,194.2 353.4,193.7 354.1,193.2 354.8,192.9 355.6,192.5 356.4,192.3 357.1,192.2 357.9,192.1 358.6,192.1 359.4,192.2 360.1,192.4 360.8,192.7 361.6,193.1 362.4,193.7 362.9,194.2 363.4,194.8 363.8,195.7 364.1,196.4 364.3,197.2 364.5,197.9 364.6,198.7 364.7,199.4 364.8,200.2 365.0,200.9 365.3,201.7 365.6,202.4 366.0,203.2 366.2,203.9 366.4,204.7 366.5,205.4 366.5,206.2 366.4,206.9 366.2,207.7 366.0,208.4 365.7,209.2 365.4,209.9 365.1,210.7 364.7,211.4 364.4,212.0 364.0,212.9 363.6,213.6 363.3,214.4 363.0,215.2 362.6,215.8 362.2,216.7 361.9,217.3 361.5,218.2 361.1,218.9 360.7,219.7 360.2,220.4 359.8,221.2 359.4,221.8 359.0,222.4 358.6,223.1 358.1,223.9 357.7,224.7 357.2,225.4 356.8,226.2 356.3,226.9 355.8,227.7 355.3,228.4 354.8,229.2 354.2,229.9 353.7,230.7 353.2,231.4 352.6,232.1 352.1,232.8 351.6,233.4 351.1,234.0 350.6,234.5 349.9,235.1 349.2,235.7 348.4,236.1 347.6,236.5 346.9,236.8 346.1,237.0 345.4,237.1 344.6,237.2Z" fill="rgba(0,0,0,0.035)" stroke="rgb(97,97,97)" stroke-width="0.51"/>
<path d="M345.9,235.5 345.1,235.6 344.4,235.6 343.6,235.6 342.9,235.4 342.1,235.2 341.4,234.9 340.6,234.5 339.9,233.9 339.4,233.4 338.9,232.8 338.5,232.2 338.1,231.4 337.7,230.7 337.5,229.9 337.3,229.2 337.2,228.4 337.1,227.7 337.0,226.9 336.9,226.2 336.8,225.4 336.8,224.7 336.7,223.9 336.7,223.2 336.7,222.4 336.7,221.7 336.7,220.9 336.7,220.2 336.7,219.4 336.7,218.7 336.8,217.9 336.8,217.2 336.9,216.4 336.9,215.7 336.8,214.9 336.7,214.2 336.4,213.4 335.9,212.8 335.1,212.2 334.5,211.7 333.9,211.0 333.5,210.4 333.3,209.7 333.2,208.9 333.2,208.2 333.4,207.5 333.8,206.7 334.3,205.9 334.9,205.3 335.6,204.7 336.1,204.2 336.8,203.7 337.4,203.2 338.0,202.7 338.6,202.2 339.1,201.7 339.8,201.2 340.4,200.7 341.1,200.2 341.9,199.8 342.6,199.4 343.4,199.0 344.1,198.7 344.9,198.3 345.6,198.0 346.4,197.7 347.1,197.3 347.9,197.0 348.6,196.7 349.4,196.3 350.1,196.0 350.9,195.7 351.6,195.3 352.4,194.9 353.1,194.4 353.9,194.0 354.5,193.7 355.4,193.3 356.1,193.0 356.9,192.8 357.6,192.7 358.4,192.7 359.1,192.8 359.9,192.9 360.6,193.2 361.4,193.6 362.1,194.2 362.6,194.8 363.0,195.4 363.4,196.2 363.6,196.9 363.7,197.7 363.8,198.4 363.8,199.2 363.8,199.9 363.8,200.7 363.9,201.4 364.0,202.2 364.2,202.9 364.4,203.7 364.6,204.4 364.7,205.2 364.8,205.9 364.7,206.7 364.6,207.4 364.4,208.2 364.2,208.9 363.9,209.7 363.5,210.4 363.2,211.2 362.8,211.9 362.5,212.7 362.1,213.4 361.8,214.2 361.5,214.9 361.1,215.6 360.8,216.4 360.4,217.2 360.0,217.9 359.6,218.6 359.2,219.4 358.8,220.2 358.4,220.8 358.0,221.4 357.6,222.1 357.2,222.9 356.7,223.7 356.3,224.4 355.8,225.2 355.4,225.8 355.0,226.4 354.5,227.2 354.0,227.9 353.4,228.7 352.9,229.4 352.4,230.1 351.9,230.8 351.4,231.4 350.9,232.0 350.4,232.6 349.9,233.1 349.4,233.7 348.7,234.2 348.0,234.7 347.1,235.1 346.4,235.3Z" fill="rgba(0,0,0,0.035)" stroke="rgb(94,94,94)" stroke-width="0.52"/>
<path d="M345.6,233.9 344.9,234.0 344.1,234.0 343.4,233.9 342.6,233.7 341.9,233.4 341.2,232.9 340.6,232.4 340.0,231.7 339.5,230.9 339.2,230.2 338.9,229.4 338.7,228.7 338.5,227.9 338.4,227.2 338.3,226.4 338.2,225.7 338.2,224.9 338.1,224.2 338.1,223.4 338.0,222.7 338.0,221.9 338.0,221.2 338.0,220.4 338.0,219.7 338.1,218.9 338.1,218.2 338.2,217.4 338.2,216.7 338.2,215.9 338.2,215.2 338.2,214.4 338.1,213.7 337.8,212.9 337.2,212.4 336.4,212.0 335.7,211.7 335.1,211.3 334.5,210.7 334.1,209.9 333.9,209.2 333.8,208.4 334.0,207.7 334.4,206.9 334.9,206.2 335.4,205.7 336.0,205.2 336.6,204.7 337.3,204.2 337.9,203.7 338.6,203.2 339.3,202.7 339.9,202.2 340.6,201.7 341.3,201.2 342.1,200.7 342.9,200.2 343.6,199.8 344.4,199.4 345.1,199.0 345.9,198.7 346.6,198.2 347.3,197.9 347.9,197.6 348.6,197.2 349.3,196.9 350.1,196.5 350.9,196.2 351.6,195.8 352.4,195.4 353.1,195.0 353.9,194.5 354.6,194.2 355.4,193.8 356.1,193.5 356.9,193.3 357.6,193.2 358.4,193.2 359.1,193.3 359.9,193.5 360.6,193.8 361.3,194.2 361.8,194.7 362.4,195.4 362.8,196.2 363.0,196.9 363.1,197.7 363.2,198.4 363.1,199.2 363.0,199.9 362.9,200.7 362.8,201.4 362.8,202.2 362.9,202.9 363.0,203.7 363.1,204.4 363.2,205.2 363.3,205.9 363.2,206.7 363.1,207.4 362.9,208.2 362.7,208.9 362.4,209.6 362.0,210.4 361.7,211.2 361.4,211.8 361.0,212.7 360.7,213.4 360.4,214.1 360.0,214.9 359.7,215.7 359.3,216.4 359.0,217.2 358.6,217.9 358.2,218.7 357.7,219.4 357.3,220.2 356.9,220.9 356.4,221.7 356.0,222.4 355.6,223.2 355.1,223.8 354.6,224.6 354.2,225.4 353.7,226.2 353.1,226.9 352.6,227.6 352.2,228.2 351.6,228.9 351.1,229.5 350.7,230.2 350.1,230.8 349.6,231.3 349.1,231.9 348.6,232.4 347.9,232.9 347.1,233.4 346.4,233.7 345.7,233.9Z" fill="rgba(0,0,0,0.035)" stroke="rgb(90,90,90)" stroke-width="0.54"/>
<path d="M345.4,232.7 344.6,232.8 343.9,232.7 343.1,232.5 342.4,232.2 341.6,231.7 341.1,231.2 340.6,230.5 340.2,229.7 339.9,228.9 339.7,228.2 339.6,227.4 339.4,226.7 339.3,225.9 339.2,225.2 339.1,224.4 339.1,223.7 339.0,222.9 339.0,222.2 339.0,221.4 339.0,220.7 339.0,219.9 339.0,219.2 339.1,218.4 339.1,217.7 339.2,216.9 339.2,216.2 339.2,215.4 339.2,214.7 339.2,213.9 339.0,213.2 338.7,212.4 338.0,211.9 337.3,211.7 336.5,211.4 335.6,211.0 335.0,210.4 334.5,209.7 334.3,208.9 334.4,208.2 334.6,207.4 335.1,206.7 335.6,206.1 336.4,205.4 337.1,204.9 337.8,204.4 338.4,203.9 339.1,203.4 339.8,202.9 340.4,202.5 341.1,201.9 341.9,201.4 342.6,200.9 343.4,200.5 344.0,200.2 344.9,199.7 345.6,199.3 346.3,198.9 347.1,198.4 347.9,198.0 348.6,197.6 349.4,197.2 350.1,196.9 350.9,196.5 351.6,196.2 352.4,195.8 353.0,195.4 353.6,195.0 354.3,194.7 355.1,194.2 355.9,193.9 356.6,193.7 357.4,193.6 358.1,193.5 358.9,193.6 359.6,193.7 360.4,194.0 361.0,194.4 361.6,194.9 362.1,195.6 362.5,196.4 362.7,197.2 362.8,197.9 362.7,198.7 362.6,199.4 362.5,200.2 362.3,200.9 362.1,201.7 362.0,202.4 361.9,203.2 362.0,203.9 362.1,204.7 362.2,205.4 362.2,206.2 362.1,206.9 362.0,207.7 361.8,208.4 361.5,209.2 361.2,209.9 360.9,210.6 360.6,211.4 360.2,212.2 359.9,212.9 359.6,213.7 359.2,214.4 358.9,215.1 358.5,215.9 358.2,216.7 357.8,217.4 357.4,218.1 357.0,218.9 356.6,219.7 356.1,220.4 355.7,221.2 355.2,221.9 354.8,222.7 354.4,223.3 353.9,224.1 353.4,224.9 352.9,225.6 352.4,226.3 352.0,226.9 351.4,227.6 350.9,228.3 350.4,228.9 349.9,229.5 349.4,230.0 348.9,230.6 348.3,231.2 347.7,231.7 346.9,232.1 346.1,232.5 345.4,232.7Z" fill="rgba(0,0,0,0.035)" stroke="rgb(86,86,86)" stroke-width="0.55"/>
<path d="M345.1,231.2 344.4,231.2 343.6,231.0 342.9,230.7 342.3,230.2 341.7,229.4 341.3,228.7 341.0,227.9 340.8,227.2 340.6,226.4 340.4,225.7 340.3,224.9 340.2,224.2 340.1,223.4 340.1,222.7 340.0,221.9 340.0,221.2 340.0,220.4 340.0,219.7 340.1,218.9 340.1,218.2 340.1,217.4 340.2,216.7 340.2,215.9 340.2,215.2 340.2,214.4 340.2,213.7 340.1,212.9 339.9,212.2 339.4,211.6 338.6,211.3 337.9,211.1 337.1,211.0 336.4,210.7 335.6,210.3 335.1,209.7 334.9,208.9 334.9,208.2 335.2,207.4 335.6,206.8 336.1,206.3 336.9,205.7 337.5,205.2 338.1,204.7 338.9,204.2 339.6,203.7 340.3,203.2 340.9,202.7 341.6,202.2 342.4,201.7 343.1,201.2 343.9,200.8 344.6,200.4 345.4,200.0 346.1,199.5 346.9,199.0 347.5,198.7 348.1,198.2 348.8,197.9 349.4,197.6 350.1,197.2 350.9,196.9 351.6,196.5 352.4,196.2 353.1,195.7 353.9,195.3 354.6,194.9 355.4,194.5 356.1,194.2 356.9,194.0 357.6,193.9 358.4,193.9 359.1,194.0 359.9,194.2 360.6,194.6 361.3,195.2 361.9,195.9 362.1,196.6 362.3,197.4 362.3,198.2 362.2,198.9 362.1,199.7 361.8,200.4 361.5,201.2 361.3,201.9 361.0,202.7 361.0,203.4 361.0,204.2 361.0,204.9 361.1,205.7 361.1,206.4 361.0,207.2 360.8,207.9 360.6,208.7 360.3,209.4 360.0,210.2 359.7,210.9 359.4,211.6 359.0,212.4 358.7,213.2 358.4,213.9 358.1,214.7 357.7,215.4 357.4,216.1 357.0,216.9 356.6,217.5 356.3,218.2 355.9,218.9 355.5,219.7 355.0,220.4 354.6,221.0 354.3,221.7 353.9,222.3 353.5,222.9 353.0,223.7 352.6,224.2 352.2,224.9 351.7,225.7 351.1,226.3 350.7,226.9 350.1,227.5 349.6,228.1 349.1,228.6 348.6,229.1 348.1,229.7 347.5,230.2 346.7,230.7 345.9,231.0 345.1,231.2Z" fill="rgba(0,0,0,0.035)" stroke="rgb(80,80,80)" stroke-width="0.57"/>
<path d="M345.6,229.2 344.9,229.3 344.1,229.1 343.4,228.7 342.9,228.1 342.4,227.4 342.1,226.8 341.9,226.1 341.7,225.4 341.5,224.7 341.4,223.9 341.2,223.2 341.2,222.4 341.1,221.7 341.1,220.9 341.1,220.2 341.1,219.4 341.1,218.7 341.2,217.9 341.2,217.2 341.2,216.4 341.3,215.7 341.3,214.9 341.3,214.2 341.2,213.4 341.2,212.7 341.0,211.9 340.6,211.2 339.9,210.7 339.1,210.6 338.4,210.5 337.6,210.4 336.9,210.3 336.2,209.9 335.6,209.2 335.5,208.4 335.7,207.7 336.1,207.0 336.6,206.5 337.3,205.9 338.0,205.4 338.6,205.0 339.4,204.4 340.1,203.9 340.8,203.4 341.4,203.0 342.1,202.4 342.9,202.0 343.6,201.5 344.4,201.0 345.1,200.7 345.9,200.2 346.6,199.7 347.4,199.2 348.1,198.7 348.9,198.2 349.6,197.8 350.4,197.5 351.1,197.2 351.9,196.7 352.5,196.4 353.4,195.9 354.1,195.5 354.9,195.1 355.6,194.7 356.4,194.5 357.1,194.3 357.9,194.2 358.6,194.2 359.4,194.4 360.1,194.7 360.8,195.2 361.4,195.8 361.8,196.7 361.9,197.4 361.9,198.2 361.8,198.9 361.6,199.7 361.2,200.4 360.9,201.1 360.4,201.9 360.1,202.7 359.9,203.4 359.8,204.2 359.9,204.9 360.0,205.7 360.0,206.4 359.9,207.2 359.8,207.9 359.5,208.7 359.3,209.4 359.0,210.2 358.6,210.9 358.3,211.7 358.0,212.4 357.6,213.1 357.3,213.9 357.0,214.7 356.6,215.3 356.3,216.2 355.9,216.8 355.5,217.7 355.0,218.4 354.6,219.1 354.2,219.9 353.7,220.7 353.3,221.4 352.8,222.2 352.4,222.8 352.0,223.4 351.5,224.2 350.9,224.9 350.4,225.5 349.9,226.1 349.4,226.6 348.9,227.1 348.3,227.7 347.7,228.2 346.9,228.7 346.1,229.0Z" fill="rgba(0,0,0,0.035)" stroke="rgb(74,74,74)" stroke-width="0.59"/>
<path d="M346.1,226.9 345.4,227.0 344.6,226.7 343.9,226.2 343.4,225.4 343.0,224.7 342.8,223.9 342.6,223.2 342.4,222.4 342.3,221.7 342.3,220.9 342.3,220.2 342.3,219.4 342.3,218.7 342.3,217.9 342.3,217.2 342.3,216.4 342.4,215.7 342.4,214.9 342.3,214.2 342.3,213.4 342.3,212.7 342.2,211.9 342.0,211.2 341.6,210.5 340.9,210.0 340.1,209.8 339.4,209.8 338.6,209.8 337.9,209.8 337.1,209.6 336.5,209.2 336.2,208.4 336.4,207.7 336.9,207.0 337.6,206.4 338.1,205.9 338.9,205.4 339.6,204.9 340.1,204.5 340.9,203.9 341.6,203.4 342.3,202.9 343.1,202.4 343.9,201.9 344.6,201.4 345.4,201.0 346.1,200.5 346.9,200.0 347.6,199.4 348.4,198.9 349.1,198.4 349.9,198.0 350.6,197.7 351.4,197.3 352.1,197.0 352.9,196.5 353.6,196.2 354.4,195.7 355.1,195.3 355.9,195.0 356.6,194.7 357.4,194.6 358.1,194.5 358.9,194.6 359.6,194.8 360.4,195.3 361.0,195.9 361.4,196.6 361.6,197.4 361.5,198.2 361.4,198.8 361.1,199.5 360.8,200.2 360.4,200.8 359.9,201.4 359.4,202.0 358.9,202.7 358.6,203.4 358.6,204.2 358.7,204.9 358.8,205.7 358.8,206.4 358.8,207.2 358.7,207.9 358.4,208.7 358.2,209.4 357.9,210.1 357.5,210.9 357.2,211.7 356.9,212.4 356.5,213.2 356.2,213.9 355.9,214.6 355.5,215.4 355.1,216.1 354.7,216.9 354.3,217.7 353.9,218.3 353.4,219.2 353.0,219.9 352.5,220.7 352.0,221.4 351.5,222.2 351.0,222.9 350.4,223.6 349.9,224.2 349.4,224.8 348.7,225.4 348.1,225.9 347.4,226.4 346.6,226.8Z" fill="rgba(0,0,0,0.035)" stroke="rgb(66,66,66)" stroke-width="0.62"/>
<path d="M346.9,224.4 346.1,224.5 345.4,224.3 344.6,223.7 344.2,222.9 343.9,222.2 343.7,221.4 343.6,220.7 343.6,219.9 343.6,219.2 343.5,218.4 343.5,217.7 343.5,216.9 343.5,216.2 343.5,215.4 343.5,214.7 343.5,213.9 343.4,213.2 343.4,212.4 343.3,211.7 343.2,210.9 342.9,210.2 342.4,209.5 341.6,209.2 340.9,209.1 340.1,209.0 339.4,209.0 338.6,209.0 337.9,208.9 337.3,208.4 337.4,207.7 337.9,207.0 338.5,206.4 339.1,205.9 339.8,205.4 340.4,204.9 341.1,204.4 341.8,203.9 342.4,203.4 343.1,202.9 343.9,202.4 344.6,202.0 345.4,201.5 346.1,201.0 346.9,200.5 347.6,199.9 348.3,199.4 348.9,199.0 349.6,198.5 350.4,198.2 351.1,197.8 351.9,197.4 352.6,197.0 353.3,196.7 354.1,196.2 354.9,195.7 355.6,195.4 356.3,195.2 357.1,194.9 357.9,194.9 358.6,194.9 359.4,195.1 360.1,195.5 360.6,196.0 361.0,196.7 361.2,197.4 361.2,198.2 361.0,198.9 360.6,199.5 360.2,200.2 359.6,200.8 359.0,201.4 358.2,201.9 357.6,202.3 357.1,202.9 357.1,203.7 357.3,204.4 357.5,205.2 357.6,205.9 357.7,206.7 357.6,207.4 357.5,208.2 357.2,208.9 357.0,209.7 356.6,210.4 356.3,211.2 356.0,211.9 355.6,212.6 355.3,213.4 354.9,214.2 354.6,214.9 354.2,215.7 353.8,216.4 353.4,217.0 353.0,217.7 352.6,218.3 352.2,218.9 351.7,219.7 351.2,220.4 350.7,221.2 350.1,221.9 349.7,222.4 349.1,223.0 348.4,223.6 347.6,224.1 346.9,224.4Z" fill="rgba(0,0,0,0.035)" stroke="rgb(56,56,56)" stroke-width="0.66"/>
<path d="M347.6,221.5 346.9,221.6 346.1,221.2 345.7,220.7 345.4,219.9 345.2,219.2 345.1,218.4 345.0,217.7 345.0,216.9 344.9,216.2 344.9,215.4 344.8,214.7 344.7,213.9 344.7,213.2 344.6,212.4 344.5,211.7 344.4,210.9 344.3,210.2 344.0,209.4 343.4,208.7 342.6,208.3 341.9,208.2 341.1,208.1 340.4,208.1 339.6,208.0 339.0,207.4 339.4,206.8 339.9,206.2 340.5,205.7 341.1,205.2 341.7,204.7 342.4,204.2 343.0,203.7 343.6,203.2 344.4,202.7 345.1,202.2 345.9,201.8 346.6,201.3 347.4,200.7 347.9,200.2 348.5,199.7 349.1,199.2 349.9,198.7 350.6,198.4 351.4,198.0 352.1,197.7 352.9,197.2 353.6,196.8 354.3,196.4 355.1,196.0 355.8,195.7 356.5,195.4 357.4,195.2 358.1,195.2 358.9,195.3 359.6,195.6 360.3,196.2 360.7,196.9 360.8,197.7 360.7,198.4 360.4,199.1 359.9,199.8 359.4,200.3 358.6,200.9 357.9,201.2 357.1,201.5 356.4,201.8 355.6,202.1 355.1,202.7 355.0,203.4 355.4,204.1 355.9,204.8 356.3,205.7 356.4,206.4 356.4,207.2 356.3,207.9 356.2,208.7 355.9,209.4 355.6,210.2 355.2,210.9 354.9,211.6 354.5,212.4 354.1,213.1 353.8,213.9 353.4,214.6 352.9,215.4 352.5,216.2 352.0,216.9 351.5,217.7 350.9,218.4 350.4,219.1 349.9,219.7 349.4,220.2 348.6,220.9 347.9,221.4Z" fill="rgba(0,0,0,0.035)" stroke="rgb(45,45,45)" stroke-width="0.70"/>
<path d="M348.9,217.2 348.1,217.3 347.4,216.9 347.0,216.2 346.7,215.4 346.5,214.7 346.3,213.9 346.2,213.2 346.0,212.4 345.9,211.7 345.8,210.9 345.7,210.2 345.5,209.4 345.3,208.7 344.9,208.0 344.1,207.5 343.4,207.2 342.6,207.1 341.9,206.9 341.6,206.2 342.1,205.4 342.6,204.8 343.4,204.2 344.1,203.7 344.6,203.2 345.4,202.8 346.1,202.3 346.9,201.7 347.5,201.2 348.0,200.7 348.5,200.2 349.1,199.7 349.8,199.2 350.6,198.7 351.3,198.4 352.1,198.0 352.8,197.7 353.6,197.2 354.4,196.7 355.1,196.3 355.9,195.9 356.6,195.7 357.4,195.5 358.1,195.5 358.9,195.6 359.6,196.0 360.1,196.6 360.4,197.3 360.4,198.2 360.1,198.9 359.5,199.7 358.9,200.1 358.1,200.5 357.4,200.8 356.6,201.0 355.9,201.2 355.1,201.5 354.4,201.9 353.8,202.4 353.3,203.2 353.3,203.9 353.9,204.7 354.4,205.2 354.8,205.9 355.0,206.7 355.1,207.4 355.0,208.2 354.7,208.9 354.4,209.7 354.1,210.4 353.7,211.2 353.3,211.9 352.9,212.6 352.4,213.4 352.0,214.2 351.4,214.9 350.9,215.6 350.4,216.1 349.8,216.7 349.1,217.1Z" fill="rgba(0,0,0,0.035)" stroke="rgb(33,33,33)" stroke-width="0.74"/>
<path d="M349.6,213.2 348.9,213.1 348.3,212.7 347.9,212.0 347.6,211.2 347.3,210.4 347.1,209.7 347.0,208.9 346.9,208.2 346.8,207.4 346.4,206.8 345.6,206.3 344.9,206.1 344.1,205.8 344.1,204.9 344.6,204.2 345.4,203.7 346.1,203.2 346.8,202.7 347.3,202.2 347.9,201.5 348.4,200.9 348.9,200.3 349.6,199.7 350.4,199.2 351.1,198.8 351.9,198.5 352.6,198.2 353.4,197.7 354.1,197.2 354.9,196.8 355.6,196.4 356.4,196.1 357.1,195.9 357.9,195.8 358.6,195.9 359.4,196.3 359.9,196.9 360.0,197.7 359.9,198.4 359.4,199.1 358.8,199.7 358.1,200.0 357.4,200.3 356.6,200.5 355.9,200.7 355.1,200.9 354.4,201.2 353.7,201.7 353.0,202.2 352.5,202.7 351.9,203.3 351.5,204.2 351.8,204.9 352.4,205.4 352.9,205.9 353.4,206.6 353.6,207.4 353.5,208.2 353.3,208.9 352.9,209.7 352.5,210.4 352.0,211.2 351.4,211.9 350.9,212.4 350.3,212.9Z" fill="rgba(0,0,0,0.035)" stroke="rgb(32,32,32)" stroke-width="0.79"/>
<path d="M350.1,203.2 349.4,203.4 348.6,203.3 348.3,202.7 348.5,201.9 348.8,201.2 349.4,200.4 350.0,199.9 350.6,199.5 351.3,199.2 352.1,198.8 352.9,198.4 353.6,197.9 354.4,197.5 355.1,197.0 355.8,196.7 356.6,196.3 357.4,196.2 358.1,196.2 358.9,196.4 359.4,196.9 359.6,197.7 359.4,198.4 358.9,199.0 358.1,199.6 357.4,199.9 356.6,200.1 355.9,200.2 355.1,200.4 354.4,200.7 353.6,201.0 352.9,201.5 352.1,202.1 351.4,202.6 350.6,203.0Z" fill="rgba(0,0,0,0.035)" stroke="rgb(32,32,32)" stroke-width="0.80"/>
<path d="M350.4,202.2 349.6,202.0 349.6,201.2 350.1,200.4 350.8,199.9 351.6,199.5 352.4,199.2 353.1,198.8 353.9,198.3 354.6,197.7 355.4,197.2 356.0,196.9 356.9,196.6 357.6,196.5 358.4,196.6 359.0,197.2 359.1,197.9 358.7,198.7 358.0,199.2 357.1,199.5 356.4,199.7 355.6,199.8 354.9,200.0 354.1,200.2 353.4,200.5 352.8,200.9 352.1,201.4 351.4,201.8 350.6,202.1Z" fill="rgba(0,0,0,0.035)" stroke="rgb(32,32,32)" stroke-width="0.80"/>
<path d="M356.6,199.2 355.9,199.3 355.1,199.3 354.4,199.2 354.6,198.4 355.2,197.9 355.9,197.4 356.6,197.1 357.4,196.9 358.1,197.1 358.6,197.7 358.3,198.4 357.6,198.8 356.9,199.1Z" fill="rgba(0,0,0,0.035)" stroke="rgb(32,32,32)" stroke-width="0.80"/>
</g>
<line x1="334.4" y1="183.4" x2="334.4" y2="244.2" stroke="#888" stroke-width="0.8" />
<line x1="320.4" y1="224" x2="381.79999999999995" y2="224" stroke="#888" stroke-width="0.8" />
<rect x="320.4" y="183.4" width="61.4" height="60.79999999999998" fill="none" stroke="#999" stroke-width="0.9"/>
<text x="321.09999999999997" y="188.0" font-size="4.3" font-weight="normal" text-anchor="start" fill="#222" >1.35</text>
<text x="381.19999999999993" y="188.0" font-size="4.3" font-weight="normal" text-anchor="end" fill="#222" >89.6</text>
<text x="321.09999999999997" y="243.29999999999998" font-size="4.3" font-weight="normal" text-anchor="start" fill="#222" >0.25</text>
<text x="381.19999999999993" y="243.29999999999998" font-size="4.3" font-weight="normal" text-anchor="end" fill="#222" >8.65</text>
<text x="320.9" y="250.3" font-size="3.4" text-anchor="middle" fill="#555">10<tspan font-size="2.6" dy="-1.2">0</tspan></text>
<text x="336.2" y="250.3" font-size="3.4" text-anchor="middle" fill="#555">10<tspan font-size="2.6" dy="-1.2">1</tspan></text>
<text x="351.6" y="250.3" font-size="3.4" text-anchor="middle" fill="#555">10<tspan font-size="2.6" dy="-1.2">2</tspan></text>
<text x="366.9" y="250.3" font-size="3.4" text-anchor="middle" fill="#555">10<tspan font-size="2.6" dy="-1.2">3</tspan></text>
<text x="382.3" y="250.3" font-size="3.4" text-anchor="middle" fill="#555">10<tspan font-size="2.6" dy="-1.2">4</tspan></text>
<text x="26.4" y="189.8" font-size="5.6" font-weight="bold" fill="#111" textLength="31.4" lengthAdjust="spacingAndGlyphs">MARY/Rag2</text>
<text x="58.3" y="187.6" font-size="3.2" font-weight="bold" fill="#444">-/-</text>
<text x="94" y="190.6" font-size="7" font-weight="bold" fill="#111" textLength="24" lengthAdjust="spacingAndGlyphs">no.1001</text>
<text x="154.8" y="190.6" font-size="7" font-weight="bold" fill="#111" textLength="24.399999999999977" lengthAdjust="spacingAndGlyphs">no.1021</text>
<text x="216.4" y="190.6" font-size="7" font-weight="bold" fill="#111" textLength="24.299999999999983" lengthAdjust="spacingAndGlyphs">no.1029</text>
<text x="277.4" y="190.6" font-size="7" font-weight="bold" fill="#111" textLength="23.700000000000045" lengthAdjust="spacingAndGlyphs">no.1030</text>
<text x="340.5" y="190.6" font-size="7" font-weight="bold" fill="#111" textLength="24.30000000000001" lengthAdjust="spacingAndGlyphs">no.1033</text>
<text x="12.6" y="245.2" font-size="3.4" text-anchor="end" fill="#555">10<tspan font-size="2.6" dy="-1.2">0</tspan></text>
<text x="12.6" y="230.0" font-size="3.4" text-anchor="end" fill="#555">10<tspan font-size="2.6" dy="-1.2">1</tspan></text>
<text x="12.6" y="214.8" font-size="3.4" text-anchor="end" fill="#555">10<tspan font-size="2.6" dy="-1.2">2</tspan></text>
<text x="12.6" y="199.6" font-size="3.4" text-anchor="end" fill="#555">10<tspan font-size="2.6" dy="-1.2">3</tspan></text>
<text x="12.6" y="184.4" font-size="3.4" text-anchor="end" fill="#555">10<tspan font-size="2.6" dy="-1.2">4</tspan></text>
<text transform="translate(6.5,218.6) rotate(-90)" font-size="7.4" font-weight="bold" textLength="14" lengthAdjust="spacingAndGlyphs">CD4</text>
<line x1="3.4" y1="239.8" x2="3.4" y2="220.8" stroke="#111" stroke-width="1.1" />
<line x1="3.4" y1="201.6" x2="3.4" y2="187" stroke="#111" stroke-width="1.1" />
<path d="M1.8,188 L3.4,183.4 L5.0,188 Z" fill="#111"/>
<text x="177.3" y="257.4" font-size="8" font-weight="bold" textLength="13.9" lengthAdjust="spacingAndGlyphs">CD8</text>
<text x="191.5" y="257.4" font-size="6.6" font-weight="bold" fill="#222">&#945;</text>
<line x1="14.2" y1="255.2" x2="174.5" y2="255.2" stroke="#555" stroke-width="1.1" />
<line x1="200.5" y1="255.3" x2="376" y2="255.6" stroke="#555" stroke-width="1.1" />
<path d="M375,253.5 L380.5,255.6 L375,257.7 Z" fill="#555"/>
<text x="391.6" y="9.3" font-size="10.5" font-weight="bold" text-anchor="start" fill="#000" >D</text>
<rect x="393.5" y="10.3" width="125.8" height="279.2" fill="none" stroke="#888" stroke-width="1"/>
<line x1="519.6" y1="10.3" x2="519.6" y2="289.5" stroke="#999" stroke-width="1.2" />
<line x1="393.5" y1="103" x2="519" y2="103" stroke="#999" stroke-width="1" />
<line x1="393.5" y1="196.1" x2="519" y2="196.1" stroke="#999" stroke-width="1" />
<text x="456.4" y="16.9" font-size="5.8" font-weight="bold" fill="#111" textLength="20.400000000000034" lengthAdjust="spacingAndGlyphs">Thymus</text>
<line x1="456.4" y1="17.599999999999998" x2="476.8" y2="17.599999999999998" stroke="#222" stroke-width="0.6" />
<line x1="418.3" y1="22" x2="418.3" y2="85.89999999999999" stroke="#000" stroke-width="1.1" />
<line x1="417.8" y1="85.3" x2="514.5" y2="85.3" stroke="#000" stroke-width="1.1" />
<line x1="416.2" y1="85.3" x2="418.3" y2="85.3" stroke="#000" stroke-width="0.8" />
<text x="415.4" y="87.0" font-size="4.9" font-weight="bold" text-anchor="end" fill="#000" >0</text>
<line x1="416.2" y1="66.8" x2="418.3" y2="66.8" stroke="#000" stroke-width="0.8" />
<text x="415.4" y="68.5" font-size="4.9" font-weight="bold" text-anchor="end" fill="#000" >500</text>
<line x1="416.2" y1="48.3" x2="418.3" y2="48.3" stroke="#000" stroke-width="0.8" />
<text x="415.4" y="50.0" font-size="4.9" font-weight="bold" text-anchor="end" fill="#000" >1000</text>
<line x1="416.2" y1="29.799999999999997" x2="418.3" y2="29.799999999999997" stroke="#000" stroke-width="0.8" />
<text x="415.4" y="31.499999999999996" font-size="4.9" font-weight="bold" text-anchor="end" fill="#000" >1500</text>
<line x1="417" y1="85.3" x2="418.3" y2="85.3" stroke="#000" stroke-width="0.6" />
<line x1="417" y1="81.6" x2="418.3" y2="81.6" stroke="#000" stroke-width="0.6" />
<line x1="417" y1="77.89999999999999" x2="418.3" y2="77.89999999999999" stroke="#000" stroke-width="0.6" />
<line x1="417" y1="74.19999999999999" x2="418.3" y2="74.19999999999999" stroke="#000" stroke-width="0.6" />
<line x1="417" y1="70.49999999999999" x2="418.3" y2="70.49999999999999" stroke="#000" stroke-width="0.6" />
<line x1="417" y1="66.79999999999998" x2="418.3" y2="66.79999999999998" stroke="#000" stroke-width="0.6" />
<line x1="417" y1="63.09999999999998" x2="418.3" y2="63.09999999999998" stroke="#000" stroke-width="0.6" />
<line x1="417" y1="59.39999999999998" x2="418.3" y2="59.39999999999998" stroke="#000" stroke-width="0.6" />
<line x1="417" y1="55.699999999999974" x2="418.3" y2="55.699999999999974" stroke="#000" stroke-width="0.6" />
<line x1="417" y1="51.99999999999997" x2="418.3" y2="51.99999999999997" stroke="#000" stroke-width="0.6" />
<line x1="417" y1="48.29999999999997" x2="418.3" y2="48.29999999999997" stroke="#000" stroke-width="0.6" />
<line x1="417" y1="44.599999999999966" x2="418.3" y2="44.599999999999966" stroke="#000" stroke-width="0.6" />
<line x1="417" y1="40.89999999999996" x2="418.3" y2="40.89999999999996" stroke="#000" stroke-width="0.6" />
<line x1="417" y1="37.19999999999996" x2="418.3" y2="37.19999999999996" stroke="#000" stroke-width="0.6" />
<line x1="417" y1="33.49999999999996" x2="418.3" y2="33.49999999999996" stroke="#000" stroke-width="0.6" />
<line x1="417" y1="29.799999999999958" x2="418.3" y2="29.799999999999958" stroke="#000" stroke-width="0.6" />
<line x1="417" y1="26.09999999999996" x2="418.3" y2="26.09999999999996" stroke="#000" stroke-width="0.6" />
<line x1="417" y1="22.39999999999996" x2="418.3" y2="22.39999999999996" stroke="#000" stroke-width="0.6" />
<line x1="434.2" y1="85.3" x2="434.2" y2="87.5" stroke="#000" stroke-width="0.8" />
<line x1="466" y1="85.3" x2="466" y2="87.5" stroke="#000" stroke-width="0.8" />
<line x1="498" y1="85.3" x2="498" y2="87.5" stroke="#000" stroke-width="0.8" />
<line x1="432.4" y1="26.3" x2="465.1" y2="26.3" stroke="#555" stroke-width="0.9" />
<line x1="466.1" y1="26.3" x2="498.3" y2="26.3" stroke="#555" stroke-width="0.9" />
<line x1="432.4" y1="26.0" x2="432.4" y2="27.8" stroke="#555" stroke-width="0.7" />
<line x1="465.1" y1="26.0" x2="465.1" y2="27.8" stroke="#555" stroke-width="0.7" />
<line x1="466.1" y1="26.0" x2="466.1" y2="27.8" stroke="#555" stroke-width="0.7" />
<line x1="498.3" y1="26.0" x2="498.3" y2="27.8" stroke="#555" stroke-width="0.7" />
<circle cx="449" cy="22.5" r="1.0" fill="#333"/>
<circle cx="482.4" cy="22.5" r="1.0" fill="#333"/>
<rect x="432.7" y="37.1" width="3" height="3" fill="#000"/>
<rect x="428.5" y="51.3" width="3" height="3" fill="#000"/>
<rect x="436.6" y="51.3" width="3" height="3" fill="#000"/>
<rect x="432.7" y="54.2" width="3" height="3" fill="#000"/>
<rect x="432.7" y="59.7" width="3" height="3" fill="#000"/>
<rect x="432.7" y="68.4" width="3" height="3" fill="#000"/>
<rect x="428.5" y="72.3" width="3" height="3" fill="#000"/>
<rect x="432.7" y="75.8" width="3" height="3" fill="#000"/>
<rect x="432.7" y="81.7" width="3" height="3" fill="#000"/>
<path d="M466.0,31.1 L467.5,33.8 L464.5,33.8 Z" fill="#666"/>
<path d="M466.0,39.5 L467.5,42.2 L464.5,42.2 Z" fill="#666"/>
<path d="M469.8,43.4 L471.3,46.1 L468.3,46.1 Z" fill="#666"/>
<path d="M466.0,46.9 L467.5,49.6 L464.5,49.6 Z" fill="#666"/>
<path d="M462.0,51.2 L463.5,53.9 L460.5,53.9 Z" fill="#666"/>
<path d="M466.0,53.4 L467.5,56.1 L464.5,56.1 Z" fill="#666"/>
<path d="M470.0,60.2 L471.5,62.9 L468.5,62.9 Z" fill="#666"/>
<path d="M466.0,61.8 L467.5,64.5 L464.5,64.5 Z" fill="#666"/>
<path d="M496.4,41.5 L499.6,41.5 L498.0,44.2 Z" fill="#000"/>
<path d="M500.4,50.0 L503.6,50.0 L502.0,52.7 Z" fill="#000"/>
<path d="M496.4,52.3 L499.6,52.3 L498.0,55.0 Z" fill="#000"/>
<path d="M488.6,53.8 L491.8,53.8 L490.2,56.5 Z" fill="#000"/>
<path d="M500.4,56.3 L503.6,56.3 L502.0,59.0 Z" fill="#000"/>
<path d="M492.7,58.1 L495.9,58.1 L494.3,60.8 Z" fill="#000"/>
<path d="M496.4,58.1 L499.6,58.1 L498.0,60.8 Z" fill="#000"/>
<path d="M500.4,59.4 L503.6,59.4 L502.0,62.1 Z" fill="#000"/>
<path d="M496.4,62.7 L499.6,62.7 L498.0,65.4 Z" fill="#000"/>
<path d="M492.7,68.8 L495.9,68.8 L494.3,71.5 Z" fill="#000"/>
<path d="M496.4,68.8 L499.6,68.8 L498.0,71.5 Z" fill="#000"/>
<path d="M492.7,74.8 L495.9,74.8 L494.3,77.5 Z" fill="#000"/>
<path d="M496.4,76.7 L499.6,76.7 L498.0,79.4 Z" fill="#000"/>
<path d="M500.4,74.8 L503.6,74.8 L502.0,77.5 Z" fill="#000"/>
<line x1="423.8" y1="62.7" x2="444.6" y2="62.7" stroke="#333" stroke-width="1.0" />
<line x1="455" y1="49.5" x2="477" y2="49.5" stroke="#333" stroke-width="1.0" />
<line x1="487" y1="62.7" x2="508.8" y2="62.7" stroke="#333" stroke-width="1.0" />
<text x="422" y="93.4" font-size="5.4" font-weight="bold" fill="#000" textLength="18.5" lengthAdjust="spacingAndGlyphs">TJ2/Rag2</text>
<text x="440.8" y="91.60000000000001" font-size="3.2" font-weight="bold" fill="#333" textLength="5" lengthAdjust="spacingAndGlyphs">-/-</text>
<text x="454.5" y="93.4" font-size="5.4" font-weight="bold" fill="#000" textLength="18.0" lengthAdjust="spacingAndGlyphs">TJ2/Rag2</text>
<text x="472.8" y="91.60000000000001" font-size="3.2" font-weight="bold" fill="#333" textLength="5" lengthAdjust="spacingAndGlyphs">-/-</text>
<text x="479.5" y="93.4" font-size="5.4" font-weight="bold" fill="#000" textLength="29.5" lengthAdjust="spacingAndGlyphs">TJ2/Mary/Rag2</text>
<text x="509.3" y="91.60000000000001" font-size="3.2" font-weight="bold" fill="#333" textLength="5" lengthAdjust="spacingAndGlyphs">-/-</text>
<text x="489" y="99.80000000000001" font-size="5.4" font-weight="bold" fill="#000" textLength="17" lengthAdjust="spacingAndGlyphs">Females</text>
<text transform="translate(402.6,54.1) rotate(-90)" font-size="5" font-weight="bold" text-anchor="middle" fill="#222">weight (mg)</text>
<text x="458" y="110.1" font-size="5.8" font-weight="bold" fill="#111" textLength="17.5" lengthAdjust="spacingAndGlyphs">Spleen</text>
<line x1="458" y1="110.8" x2="475.5" y2="110.8" stroke="#222" stroke-width="0.6" />
<line x1="418.3" y1="114.2" x2="418.3" y2="178.5" stroke="#000" stroke-width="1.1" />
<line x1="417.8" y1="177.9" x2="514.5" y2="177.9" stroke="#000" stroke-width="1.1" />
<line x1="416.2" y1="177.9" x2="418.3" y2="177.9" stroke="#000" stroke-width="0.8" />
<text x="415.4" y="179.6" font-size="4.9" font-weight="bold" text-anchor="end" fill="#000" >0</text>
<line x1="416.2" y1="160.4" x2="418.3" y2="160.4" stroke="#000" stroke-width="0.8" />
<text x="415.4" y="162.1" font-size="4.9" font-weight="bold" text-anchor="end" fill="#000" >500</text>
<line x1="416.2" y1="142.9" x2="418.3" y2="142.9" stroke="#000" stroke-width="0.8" />
<text x="415.4" y="144.6" font-size="4.9" font-weight="bold" text-anchor="end" fill="#000" >1000</text>
<line x1="416.2" y1="125.4" x2="418.3" y2="125.4" stroke="#000" stroke-width="0.8" />
<text x="415.4" y="127.10000000000001" font-size="4.9" font-weight="bold" text-anchor="end" fill="#000" >1500</text>
<line x1="417" y1="177.9" x2="418.3" y2="177.9" stroke="#000" stroke-width="0.6" />
<line x1="417" y1="174.4" x2="418.3" y2="174.4" stroke="#000" stroke-width="0.6" />
<line x1="417" y1="170.9" x2="418.3" y2="170.9" stroke="#000" stroke-width="0.6" />
<line x1="417" y1="167.4" x2="418.3" y2="167.4" stroke="#000" stroke-width="0.6" />
<line x1="417" y1="163.9" x2="418.3" y2="163.9" stroke="#000" stroke-width="0.6" />
<line x1="417" y1="160.4" x2="418.3" y2="160.4" stroke="#000" stroke-width="0.6" />
<line x1="417" y1="156.9" x2="418.3" y2="156.9" stroke="#000" stroke-width="0.6" />
<line x1="417" y1="153.4" x2="418.3" y2="153.4" stroke="#000" stroke-width="0.6" />
<line x1="417" y1="149.9" x2="418.3" y2="149.9" stroke="#000" stroke-width="0.6" />
<line x1="417" y1="146.4" x2="418.3" y2="146.4" stroke="#000" stroke-width="0.6" />
<line x1="417" y1="142.9" x2="418.3" y2="142.9" stroke="#000" stroke-width="0.6" />
<line x1="417" y1="139.4" x2="418.3" y2="139.4" stroke="#000" stroke-width="0.6" />
<line x1="417" y1="135.9" x2="418.3" y2="135.9" stroke="#000" stroke-width="0.6" />
<line x1="417" y1="132.4" x2="418.3" y2="132.4" stroke="#000" stroke-width="0.6" />
<line x1="417" y1="128.9" x2="418.3" y2="128.9" stroke="#000" stroke-width="0.6" />
<line x1="417" y1="125.4" x2="418.3" y2="125.4" stroke="#000" stroke-width="0.6" />
<line x1="417" y1="121.9" x2="418.3" y2="121.9" stroke="#000" stroke-width="0.6" />
<line x1="417" y1="118.4" x2="418.3" y2="118.4" stroke="#000" stroke-width="0.6" />
<line x1="417" y1="114.9" x2="418.3" y2="114.9" stroke="#000" stroke-width="0.6" />
<line x1="434.2" y1="177.9" x2="434.2" y2="180.1" stroke="#000" stroke-width="0.8" />
<line x1="466" y1="177.9" x2="466" y2="180.1" stroke="#000" stroke-width="0.8" />
<line x1="498" y1="177.9" x2="498" y2="180.1" stroke="#000" stroke-width="0.8" />
<line x1="432.4" y1="119" x2="465.1" y2="119" stroke="#555" stroke-width="0.9" />
<line x1="466.1" y1="119" x2="498.3" y2="119" stroke="#555" stroke-width="0.9" />
<line x1="432.4" y1="118.7" x2="432.4" y2="120.5" stroke="#555" stroke-width="0.7" />
<line x1="465.1" y1="118.7" x2="465.1" y2="120.5" stroke="#555" stroke-width="0.7" />
<line x1="466.1" y1="118.7" x2="466.1" y2="120.5" stroke="#555" stroke-width="0.7" />
<line x1="498.3" y1="118.7" x2="498.3" y2="120.5" stroke="#555" stroke-width="0.7" />
<circle cx="448.5" cy="115.2" r="1.0" fill="#333"/>
<circle cx="482.4" cy="115.2" r="1.0" fill="#333"/>
<rect x="424.7" y="135.2" width="3" height="3" fill="#000"/>
<rect x="428.5" y="138.5" width="3" height="3" fill="#000"/>
<rect x="432.7" y="138.5" width="3" height="3" fill="#000"/>
<rect x="436.6" y="137.9" width="3" height="3" fill="#000"/>
<rect x="432.7" y="159.1" width="3" height="3" fill="#000"/>
<rect x="432.7" y="166.5" width="3" height="3" fill="#000"/>
<rect x="428.5" y="171.5" width="3" height="3" fill="#000"/>
<rect x="432.7" y="172.5" width="3" height="3" fill="#000"/>
<rect x="436.6" y="171.8" width="3" height="3" fill="#000"/>
<path d="M466.0,161.7 L467.5,164.4 L464.5,164.4 Z" fill="#666"/>
<path d="M462.0,164.8 L463.5,167.5 L460.5,167.5 Z" fill="#666"/>
<path d="M470.0,164.8 L471.5,167.5 L468.5,167.5 Z" fill="#666"/>
<path d="M466.0,165.8 L467.5,168.5 L464.5,168.5 Z" fill="#666"/>
<path d="M462.0,171.6 L463.5,174.3 L460.5,174.3 Z" fill="#666"/>
<path d="M470.0,171.6 L471.5,174.3 L468.5,174.3 Z" fill="#666"/>
<path d="M466.0,173.4 L467.5,176.1 L464.5,176.1 Z" fill="#666"/>
<path d="M496.4,124.3 L499.6,124.3 L498.0,127.0 Z" fill="#000"/>
<path d="M500.4,129.8 L503.6,129.8 L502.0,132.5 Z" fill="#000"/>
<path d="M496.4,131.3 L499.6,131.3 L498.0,134.0 Z" fill="#000"/>
<path d="M496.4,141.5 L499.6,141.5 L498.0,144.2 Z" fill="#000"/>
<path d="M496.4,151.8 L499.6,151.8 L498.0,154.5 Z" fill="#000"/>
<path d="M500.4,151.8 L503.6,151.8 L502.0,154.5 Z" fill="#000"/>
<path d="M492.7,158.4 L495.9,158.4 L494.3,161.1 Z" fill="#000"/>
<path d="M492.7,161.7 L495.9,161.7 L494.3,164.4 Z" fill="#000"/>
<path d="M496.4,161.3 L499.6,161.3 L498.0,164.0 Z" fill="#000"/>
<path d="M500.4,163.2 L503.6,163.2 L502.0,165.9 Z" fill="#000"/>
<path d="M496.4,165.2 L499.6,165.2 L498.0,167.9 Z" fill="#000"/>
<path d="M492.7,171.2 L495.9,171.2 L494.3,173.9 Z" fill="#000"/>
<path d="M496.4,169.5 L499.6,169.5 L498.0,172.2 Z" fill="#000"/>
<path d="M500.4,172.0 L503.6,172.0 L502.0,174.7 Z" fill="#000"/>
<path d="M496.4,173.8 L499.6,173.8 L498.0,176.5 Z" fill="#000"/>
<line x1="423.8" y1="155.8" x2="444.6" y2="155.8" stroke="#333" stroke-width="1.0" />
<line x1="455" y1="169.8" x2="477" y2="169.8" stroke="#333" stroke-width="1.0" />
<line x1="487" y1="156.7" x2="508.8" y2="156.7" stroke="#333" stroke-width="1.0" />
<text x="422" y="185.9" font-size="5.4" font-weight="bold" fill="#000" textLength="18.5" lengthAdjust="spacingAndGlyphs">TJ2/Rag2</text>
<text x="440.8" y="184.1" font-size="3.2" font-weight="bold" fill="#333" textLength="5" lengthAdjust="spacingAndGlyphs">-/-</text>
<text x="454.5" y="185.9" font-size="5.4" font-weight="bold" fill="#000" textLength="18.0" lengthAdjust="spacingAndGlyphs">TJ2/Rag2</text>
<text x="472.8" y="184.1" font-size="3.2" font-weight="bold" fill="#333" textLength="5" lengthAdjust="spacingAndGlyphs">-/-</text>
<text x="479.5" y="185.9" font-size="5.4" font-weight="bold" fill="#000" textLength="29.5" lengthAdjust="spacingAndGlyphs">TJ2/Mary/Rag2</text>
<text x="509.3" y="184.1" font-size="3.2" font-weight="bold" fill="#333" textLength="5" lengthAdjust="spacingAndGlyphs">-/-</text>
<text x="489" y="192.3" font-size="5.4" font-weight="bold" fill="#000" textLength="17" lengthAdjust="spacingAndGlyphs">Females</text>
<text transform="translate(402.6,146.6) rotate(-90)" font-size="5" font-weight="bold" text-anchor="middle" fill="#222">weight (mg)</text>
<text x="449" y="202.2" font-size="5.8" font-weight="bold" fill="#111" textLength="35" lengthAdjust="spacingAndGlyphs">Lymph nodes</text>
<line x1="449" y1="202.89999999999998" x2="484" y2="202.89999999999998" stroke="#222" stroke-width="0.6" />
<line x1="418.3" y1="209.7" x2="418.3" y2="273.70000000000005" stroke="#000" stroke-width="1.1" />
<line x1="417.8" y1="273.1" x2="514.5" y2="273.1" stroke="#000" stroke-width="1.1" />
<line x1="416.2" y1="273.1" x2="418.3" y2="273.1" stroke="#000" stroke-width="0.8" />
<text x="415.4" y="274.8" font-size="4.9" font-weight="bold" text-anchor="end" fill="#000" >0</text>
<line x1="416.2" y1="262.35" x2="418.3" y2="262.35" stroke="#000" stroke-width="0.8" />
<text x="415.4" y="264.05" font-size="4.9" font-weight="bold" text-anchor="end" fill="#000" >1000</text>
<line x1="416.2" y1="251.60000000000002" x2="418.3" y2="251.60000000000002" stroke="#000" stroke-width="0.8" />
<text x="415.4" y="253.3" font-size="4.9" font-weight="bold" text-anchor="end" fill="#000" >2000</text>
<line x1="416.2" y1="240.85000000000002" x2="418.3" y2="240.85000000000002" stroke="#000" stroke-width="0.8" />
<text x="415.4" y="242.55" font-size="4.9" font-weight="bold" text-anchor="end" fill="#000" >3000</text>
<line x1="416.2" y1="230.10000000000002" x2="418.3" y2="230.10000000000002" stroke="#000" stroke-width="0.8" />
<text x="415.4" y="231.8" font-size="4.9" font-weight="bold" text-anchor="end" fill="#000" >4000</text>
<line x1="416.2" y1="219.35000000000002" x2="418.3" y2="219.35000000000002" stroke="#000" stroke-width="0.8" />
<text x="415.4" y="221.05" font-size="4.9" font-weight="bold" text-anchor="end" fill="#000" >5000</text>
<line x1="417" y1="273.1" x2="418.3" y2="273.1" stroke="#000" stroke-width="0.6" />
<line x1="417" y1="267.73" x2="418.3" y2="267.73" stroke="#000" stroke-width="0.6" />
<line x1="417" y1="262.36" x2="418.3" y2="262.36" stroke="#000" stroke-width="0.6" />
<line x1="417" y1="256.99" x2="418.3" y2="256.99" stroke="#000" stroke-width="0.6" />
<line x1="417" y1="251.62" x2="418.3" y2="251.62" stroke="#000" stroke-width="0.6" />
<line x1="417" y1="246.25" x2="418.3" y2="246.25" stroke="#000" stroke-width="0.6" />
<line x1="417" y1="240.88" x2="418.3" y2="240.88" stroke="#000" stroke-width="0.6" />
<line x1="417" y1="235.51" x2="418.3" y2="235.51" stroke="#000" stroke-width="0.6" />
<line x1="417" y1="230.14" x2="418.3" y2="230.14" stroke="#000" stroke-width="0.6" />
<line x1="417" y1="224.76999999999998" x2="418.3" y2="224.76999999999998" stroke="#000" stroke-width="0.6" />
<line x1="417" y1="219.39999999999998" x2="418.3" y2="219.39999999999998" stroke="#000" stroke-width="0.6" />
<line x1="417" y1="214.02999999999997" x2="418.3" y2="214.02999999999997" stroke="#000" stroke-width="0.6" />
<line x1="434.2" y1="273.1" x2="434.2" y2="275.3" stroke="#000" stroke-width="0.8" />
<line x1="466" y1="273.1" x2="466" y2="275.3" stroke="#000" stroke-width="0.8" />
<line x1="498" y1="273.1" x2="498" y2="275.3" stroke="#000" stroke-width="0.8" />
<line x1="432.4" y1="210.9" x2="465.1" y2="210.9" stroke="#555" stroke-width="0.9" />
<line x1="466.1" y1="210.9" x2="498.3" y2="210.9" stroke="#555" stroke-width="0.9" />
<line x1="432.4" y1="210.6" x2="432.4" y2="212.4" stroke="#555" stroke-width="0.7" />
<line x1="465.1" y1="210.6" x2="465.1" y2="212.4" stroke="#555" stroke-width="0.7" />
<line x1="466.1" y1="210.6" x2="466.1" y2="212.4" stroke="#555" stroke-width="0.7" />
<line x1="498.3" y1="210.6" x2="498.3" y2="212.4" stroke="#555" stroke-width="0.7" />
<circle cx="446.8" cy="207.1" r="1.0" fill="#333"/><circle cx="451.2" cy="207.1" r="1.0" fill="#333"/>
<circle cx="482.2" cy="207.1" r="1.0" fill="#333"/>
<rect x="432.7" y="217.1" width="3" height="3" fill="#000"/>
<rect x="432.7" y="250.0" width="3" height="3" fill="#000"/>
<rect x="428.5" y="261.1" width="3" height="3" fill="#000"/>
<rect x="436.6" y="259.9" width="3" height="3" fill="#000"/>
<rect x="432.7" y="263.2" width="3" height="3" fill="#000"/>
<rect x="440.5" y="266.9" width="3" height="3" fill="#000"/>
<rect x="428.5" y="269.6" width="3" height="3" fill="#000"/>
<rect x="432.7" y="270.5" width="3" height="3" fill="#000"/>
<rect x="436.6" y="269.6" width="3" height="3" fill="#000"/>
<path d="M462.0,270.7 L463.5,273.4 L460.5,273.4 Z" fill="#666"/>
<path d="M466.0,270.7 L467.5,273.4 L464.5,273.4 Z" fill="#666"/>
<path d="M470.0,270.7 L471.5,273.4 L468.5,273.4 Z" fill="#666"/>
<path d="M496.4,249.8 L499.6,249.8 L498.0,252.5 Z" fill="#000"/>
<path d="M500.4,256.6 L503.6,256.6 L502.0,259.3 Z" fill="#000"/>
<path d="M496.4,260.1 L499.6,260.1 L498.0,262.8 Z" fill="#000"/>
<path d="M500.4,263.4 L503.6,263.4 L502.0,266.1 Z" fill="#000"/>
<path d="M496.4,267.1 L499.6,267.1 L498.0,269.8 Z" fill="#000"/>
<path d="M488.4,270.4 L491.6,270.4 L490.0,273.1 Z" fill="#000"/>
<path d="M492.7,270.4 L495.9,270.4 L494.3,273.1 Z" fill="#000"/>
<path d="M496.4,270.4 L499.6,270.4 L498.0,273.1 Z" fill="#000"/>
<path d="M500.4,270.4 L503.6,270.4 L502.0,273.1 Z" fill="#000"/>
<path d="M504.4,270.4 L507.6,270.4 L506.0,273.1 Z" fill="#000"/>
<line x1="423.8" y1="260.1" x2="444.6" y2="260.1" stroke="#333" stroke-width="1.0" />
<line x1="455" y1="272.3" x2="477" y2="272.3" stroke="#333" stroke-width="1.0" />
<line x1="487" y1="267.3" x2="508.8" y2="267.3" stroke="#333" stroke-width="1.0" />
<text x="422" y="279.6" font-size="5.4" font-weight="bold" fill="#000" textLength="18.5" lengthAdjust="spacingAndGlyphs">TJ2/Rag2</text>
<text x="440.8" y="277.8" font-size="3.2" font-weight="bold" fill="#333" textLength="5" lengthAdjust="spacingAndGlyphs">-/-</text>
<text x="454.5" y="279.6" font-size="5.4" font-weight="bold" fill="#000" textLength="18.0" lengthAdjust="spacingAndGlyphs">TJ2/Rag2</text>
<text x="472.8" y="277.8" font-size="3.2" font-weight="bold" fill="#333" textLength="5" lengthAdjust="spacingAndGlyphs">-/-</text>
<text x="479.5" y="279.6" font-size="5.4" font-weight="bold" fill="#000" textLength="29.5" lengthAdjust="spacingAndGlyphs">TJ2/Mary/Rag2</text>
<text x="509.3" y="277.8" font-size="3.2" font-weight="bold" fill="#333" textLength="5" lengthAdjust="spacingAndGlyphs">-/-</text>
<text x="489" y="286.0" font-size="5.4" font-weight="bold" fill="#000" textLength="17" lengthAdjust="spacingAndGlyphs">Females</text>
<text transform="translate(402.6,241.9) rotate(-90)" font-size="5" font-weight="bold" text-anchor="middle" fill="#222">weight (mg)</text>
</g>
</svg></body></html>
